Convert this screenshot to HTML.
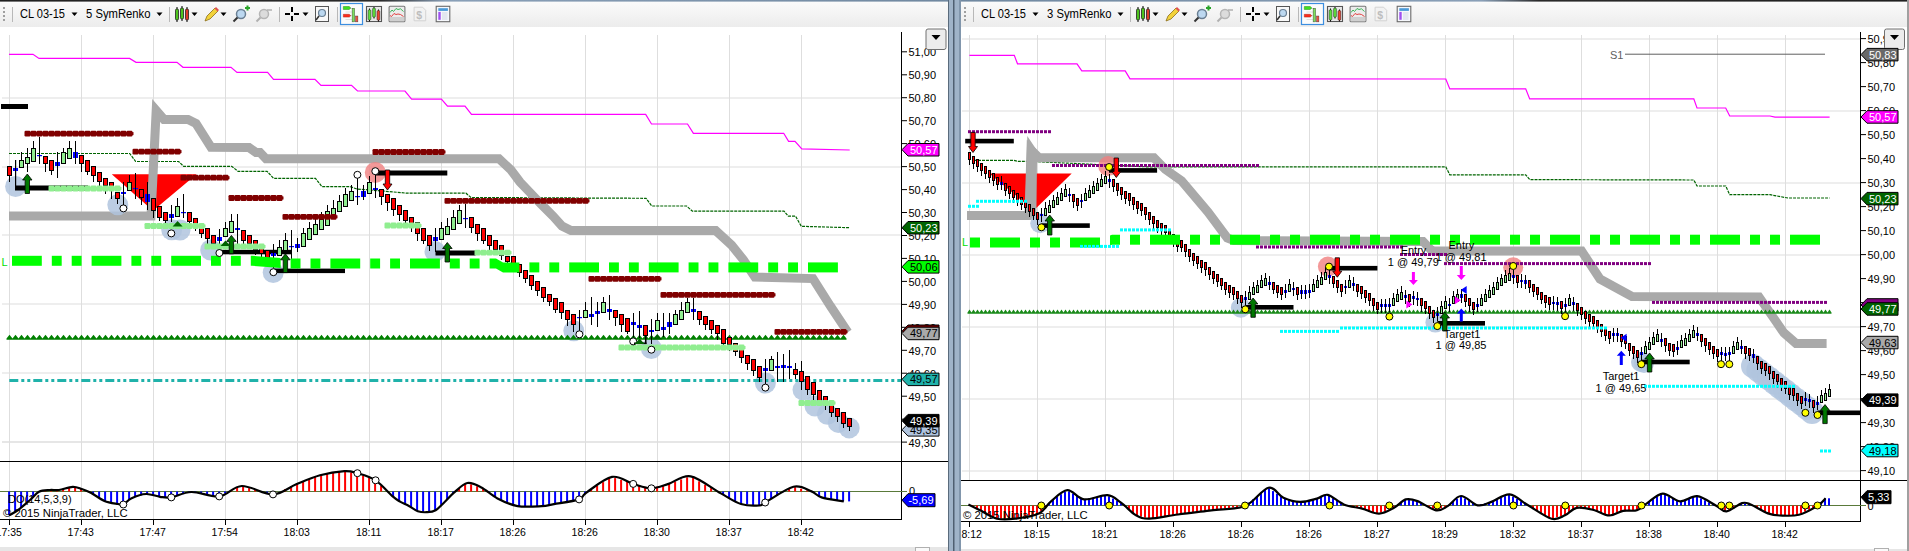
<!DOCTYPE html><html><head><meta charset="utf-8"><style>html,body{margin:0;padding:0;width:1909px;height:551px;overflow:hidden;background:#fff}</style></head><body><svg width="1909" height="551" viewBox="0 0 1909 551" style="display:block;position:absolute;left:0;top:0">
<defs><linearGradient id="tbg" x1="0" y1="0" x2="0" y2="1"><stop offset="0" stop-color="#fbfbfb"/><stop offset="1" stop-color="#ececec"/></linearGradient><linearGradient id="tborL" gradientUnits="userSpaceOnUse" x1="0" y1="0" x2="949" y2="0"><stop offset="0" stop-color="#202020"/><stop offset="0.4" stop-color="#2a2a2a"/><stop offset="0.47" stop-color="#8aa0b8"/><stop offset="1" stop-color="#7088a0"/></linearGradient><linearGradient id="tborR" gradientUnits="userSpaceOnUse" x1="960" y1="0" x2="1909" y2="0"><stop offset="0" stop-color="#7088a0"/><stop offset="0.55" stop-color="#8aa0b8"/><stop offset="0.61" stop-color="#2a2a2a"/><stop offset="1" stop-color="#202020"/></linearGradient></defs>
<rect width="1909" height="551" fill="#fff"/>
<rect x="0" y="0" width="949" height="551" fill="#ffffff"/>
<rect x="0" y="1" width="949" height="26" fill="url(#tbg)" rx="0"/>
<rect x="0" y="0" width="949" height="1.6" fill="url(#tborL)"/>
<rect x="0" y="547" width="949" height="4" fill="#e6e6e6"/>
<g transform="translate(0,0)">
<rect x="3" y="7" width="2" height="2" fill="#a0a0a0"/>
<rect x="3" y="11" width="2" height="2" fill="#a0a0a0"/>
<rect x="3" y="15" width="2" height="2" fill="#a0a0a0"/>
<rect x="3" y="19" width="2" height="2" fill="#a0a0a0"/>
<rect x="12" y="7" width="1" height="15" fill="#b8b8b8"/>
<text x="20" y="18" textLength="45" lengthAdjust="spacingAndGlyphs" style="font-family:'Liberation Sans',sans-serif;font-size:12px" fill="#000">CL 03-15</text>
<path d="M71.5 12.5h6l-3 3.5z" fill="#000"/>
<text x="86" y="18" textLength="64.5" lengthAdjust="spacingAndGlyphs" style="font-family:'Liberation Sans',sans-serif;font-size:12px" fill="#000">5 SymRenko</text>
<path d="M156.5 12.5h6l-3 3.5z" fill="#000"/>
<rect x="169" y="7" width="1" height="15" fill="#b8b8b8"/>
<rect x="176.5" y="7" width="1" height="15" fill="#000"/>
<rect x="175.5" y="9" width="3" height="11" rx="1.2" fill="#4ec41e" stroke="#222" stroke-width="0.8"/>
<rect x="181.5" y="6" width="1" height="15" fill="#000"/>
<rect x="180.5" y="8" width="3" height="11" rx="1.2" fill="#4ec41e" stroke="#222" stroke-width="0.8"/>
<rect x="186.5" y="7" width="1" height="15" fill="#000"/>
<rect x="185.5" y="9" width="3" height="11" rx="1.2" fill="#e03a2a" stroke="#222" stroke-width="0.8"/>
<path d="M191.5 12.5h6l-3 3.5z" fill="#000"/>
<path d="M205 21 L207 16 L215 8 L218 11 L210 19 Z" fill="#f2d23a" stroke="#8a6d1a" stroke-width="0.8"/>
<path d="M214.5 8.5 L216 7 L219 10 L217.5 11.5Z" fill="#e05050"/>
<path d="M220.5 12.5h6l-3 3.5z" fill="#000"/>
<circle cx="241" cy="14" r="4.5" fill="#bcd8f0" stroke="#6a7f93" stroke-width="1.5"/>
<path d="M237.5 17.5 L233.5 21.5" stroke="#333" stroke-width="2"/>
<path d="M245 8h5M247.5 5.5v5" stroke="#2aa42a" stroke-width="2"/>
<circle cx="264" cy="14" r="4.5" fill="#dcdcdc" stroke="#b5b5b5" stroke-width="1.5"/>
<path d="M260.5 17.5 L256.5 21.5" stroke="#b0b0b0" stroke-width="2"/>
<path d="M267 10h5" stroke="#b0b0b0" stroke-width="1.5"/>
<rect x="279" y="7" width="1" height="15" fill="#b8b8b8"/>
<path d="M292 7v5M292 16v5M285 14h5M294 14h5" stroke="#000" stroke-width="2"/>
<path d="M302.5 12.5h6l-3 3.5z" fill="#000"/>
<rect x="315.5" y="6.5" width="13" height="15" fill="#f8f8f8" stroke="#555"/>
<circle cx="322" cy="13" r="3.5" fill="#bcd8f0" stroke="#6a7f93" stroke-width="1.2"/>
<path d="M319 16 L316 20" stroke="#333" stroke-width="1.5"/>
<rect x="337" y="7" width="1" height="15" fill="#b8b8b8"/>
<rect x="340.5" y="3.5" width="22" height="21" fill="#fbfbfb" stroke="#3c8ee0" stroke-width="1.2"/>
<path d="M345.5 8.5h7M345.5 12h7M345.5 15.5h7M345.5 19.5h7" stroke="#d8d8d8" stroke-width="0.8"/>
<path d="M343.3 6.5h6l1.5 1.5l-1.5 1.5h-6z" fill="#3ee01e" stroke="#2a8a1a" stroke-width="0.5"/>
<path d="M343.3 14.3h6l1.5 1.4l-1.5 1.4h-6z" fill="#ff2a1a" stroke="#a02a1a" stroke-width="0.5"/>
<rect x="352.1" y="8.2" width="2.6" height="13.7" fill="#7ee05e" stroke="#333" stroke-width="0.4"/>
<rect x="355.5" y="16" width="2.4" height="5.9" fill="#f05040" stroke="#333" stroke-width="0.4"/>
<rect x="366.5" y="6.5" width="15" height="15" fill="#f0f0f0" stroke="#555" stroke-width="1.1"/>
<path d="M367 9h14M367 11h14M367 13h14M367 15h14M367 17h14M367 19h14" stroke="#c8c8c8" stroke-width="0.5"/>
<rect x="369" y="8.5" width="1" height="13" fill="#111"/><rect x="373.5" y="7" width="1" height="11.5" fill="#111"/><rect x="378" y="9.5" width="1" height="12" fill="#111"/>
<rect x="368.1" y="9.8" width="2.8" height="10.2" rx="1" fill="#5ee03a" stroke="#222" stroke-width="0.5"/>
<rect x="372.6" y="8" width="2.8" height="9.2" rx="1" fill="#5ee03a" stroke="#222" stroke-width="0.5"/>
<rect x="377" y="10.6" width="2.8" height="9.6" rx="1" fill="#f04030" stroke="#222" stroke-width="0.5"/>
<rect x="389.1" y="6.3" width="15.8" height="15.4" rx="1" fill="#ececec" stroke="#777" stroke-width="1.1"/>
<rect x="389.6" y="17" width="14.8" height="4.2" fill="#d0d0d0"/>
<path d="M390 12.5 L392 10 L393.5 11.5 L396 8.5 L398 9.5 L400.5 8.8 L403.5 11.5" stroke="#2ab04a" fill="none" stroke-width="0.9"/>
<path d="M390 15.5 L391.5 16.5 L394 13.5 L396 14.5 L398 14 L400.5 14.5 L403.5 16.5" stroke="#e03030" fill="none" stroke-width="0.9"/>
<path d="M414.1 7.2h8.5l3.1 3.1v10.5h-11.6z" fill="#f2f2f2" stroke="#cfcfcf" stroke-width="0.9"/>
<text x="416.3" y="18.5" style="font-family:'Liberation Sans',sans-serif;font-size:10.5px;font-weight:bold" fill="#bdbdbd">$</text>
<rect x="436.2" y="6.3" width="13.6" height="15.4" fill="#f6f8fc" stroke="#6a6a6a" stroke-width="1.1"/>
<rect x="438.3" y="8.2" width="9.6" height="2.7" fill="#4a9ad8"/>
<rect x="438.3" y="11.9" width="2.4" height="7.9" fill="#a050f0"/>
<path d="M442 13h5.5M442 15h5.5M442 17h5.5M442 19h5.5" stroke="#c0c8d8" stroke-width="0.7"/>
</g>
<rect x="960" y="0" width="948" height="551" fill="#ffffff"/>
<rect x="960" y="1" width="948" height="26" fill="url(#tbg)" rx="0"/>
<rect x="960" y="0" width="948" height="1.6" fill="url(#tborR)"/>
<rect x="960" y="549" width="948" height="2" fill="#e6e6e6"/>
<g transform="translate(961,0)">
<rect x="3" y="7" width="2" height="2" fill="#a0a0a0"/>
<rect x="3" y="11" width="2" height="2" fill="#a0a0a0"/>
<rect x="3" y="15" width="2" height="2" fill="#a0a0a0"/>
<rect x="3" y="19" width="2" height="2" fill="#a0a0a0"/>
<rect x="12" y="7" width="1" height="15" fill="#b8b8b8"/>
<text x="20" y="18" textLength="45" lengthAdjust="spacingAndGlyphs" style="font-family:'Liberation Sans',sans-serif;font-size:12px" fill="#000">CL 03-15</text>
<path d="M71.5 12.5h6l-3 3.5z" fill="#000"/>
<text x="86" y="18" textLength="64.5" lengthAdjust="spacingAndGlyphs" style="font-family:'Liberation Sans',sans-serif;font-size:12px" fill="#000">3 SymRenko</text>
<path d="M156.5 12.5h6l-3 3.5z" fill="#000"/>
<rect x="169" y="7" width="1" height="15" fill="#b8b8b8"/>
<rect x="176.5" y="7" width="1" height="15" fill="#000"/>
<rect x="175.5" y="9" width="3" height="11" rx="1.2" fill="#4ec41e" stroke="#222" stroke-width="0.8"/>
<rect x="181.5" y="6" width="1" height="15" fill="#000"/>
<rect x="180.5" y="8" width="3" height="11" rx="1.2" fill="#4ec41e" stroke="#222" stroke-width="0.8"/>
<rect x="186.5" y="7" width="1" height="15" fill="#000"/>
<rect x="185.5" y="9" width="3" height="11" rx="1.2" fill="#e03a2a" stroke="#222" stroke-width="0.8"/>
<path d="M191.5 12.5h6l-3 3.5z" fill="#000"/>
<path d="M205 21 L207 16 L215 8 L218 11 L210 19 Z" fill="#f2d23a" stroke="#8a6d1a" stroke-width="0.8"/>
<path d="M214.5 8.5 L216 7 L219 10 L217.5 11.5Z" fill="#e05050"/>
<path d="M220.5 12.5h6l-3 3.5z" fill="#000"/>
<circle cx="241" cy="14" r="4.5" fill="#bcd8f0" stroke="#6a7f93" stroke-width="1.5"/>
<path d="M237.5 17.5 L233.5 21.5" stroke="#333" stroke-width="2"/>
<path d="M245 8h5M247.5 5.5v5" stroke="#2aa42a" stroke-width="2"/>
<circle cx="264" cy="14" r="4.5" fill="#dcdcdc" stroke="#b5b5b5" stroke-width="1.5"/>
<path d="M260.5 17.5 L256.5 21.5" stroke="#b0b0b0" stroke-width="2"/>
<path d="M267 10h5" stroke="#b0b0b0" stroke-width="1.5"/>
<rect x="279" y="7" width="1" height="15" fill="#b8b8b8"/>
<path d="M292 7v5M292 16v5M285 14h5M294 14h5" stroke="#000" stroke-width="2"/>
<path d="M302.5 12.5h6l-3 3.5z" fill="#000"/>
<rect x="315.5" y="6.5" width="13" height="15" fill="#f8f8f8" stroke="#555"/>
<circle cx="322" cy="13" r="3.5" fill="#bcd8f0" stroke="#6a7f93" stroke-width="1.2"/>
<path d="M319 16 L316 20" stroke="#333" stroke-width="1.5"/>
<rect x="337" y="7" width="1" height="15" fill="#b8b8b8"/>
<rect x="340.5" y="3.5" width="22" height="21" fill="#fbfbfb" stroke="#3c8ee0" stroke-width="1.2"/>
<path d="M345.5 8.5h7M345.5 12h7M345.5 15.5h7M345.5 19.5h7" stroke="#d8d8d8" stroke-width="0.8"/>
<path d="M343.3 6.5h6l1.5 1.5l-1.5 1.5h-6z" fill="#3ee01e" stroke="#2a8a1a" stroke-width="0.5"/>
<path d="M343.3 14.3h6l1.5 1.4l-1.5 1.4h-6z" fill="#ff2a1a" stroke="#a02a1a" stroke-width="0.5"/>
<rect x="352.1" y="8.2" width="2.6" height="13.7" fill="#7ee05e" stroke="#333" stroke-width="0.4"/>
<rect x="355.5" y="16" width="2.4" height="5.9" fill="#f05040" stroke="#333" stroke-width="0.4"/>
<rect x="366.5" y="6.5" width="15" height="15" fill="#f0f0f0" stroke="#555" stroke-width="1.1"/>
<path d="M367 9h14M367 11h14M367 13h14M367 15h14M367 17h14M367 19h14" stroke="#c8c8c8" stroke-width="0.5"/>
<rect x="369" y="8.5" width="1" height="13" fill="#111"/><rect x="373.5" y="7" width="1" height="11.5" fill="#111"/><rect x="378" y="9.5" width="1" height="12" fill="#111"/>
<rect x="368.1" y="9.8" width="2.8" height="10.2" rx="1" fill="#5ee03a" stroke="#222" stroke-width="0.5"/>
<rect x="372.6" y="8" width="2.8" height="9.2" rx="1" fill="#5ee03a" stroke="#222" stroke-width="0.5"/>
<rect x="377" y="10.6" width="2.8" height="9.6" rx="1" fill="#f04030" stroke="#222" stroke-width="0.5"/>
<rect x="389.1" y="6.3" width="15.8" height="15.4" rx="1" fill="#ececec" stroke="#777" stroke-width="1.1"/>
<rect x="389.6" y="17" width="14.8" height="4.2" fill="#d0d0d0"/>
<path d="M390 12.5 L392 10 L393.5 11.5 L396 8.5 L398 9.5 L400.5 8.8 L403.5 11.5" stroke="#2ab04a" fill="none" stroke-width="0.9"/>
<path d="M390 15.5 L391.5 16.5 L394 13.5 L396 14.5 L398 14 L400.5 14.5 L403.5 16.5" stroke="#e03030" fill="none" stroke-width="0.9"/>
<path d="M414.1 7.2h8.5l3.1 3.1v10.5h-11.6z" fill="#f2f2f2" stroke="#cfcfcf" stroke-width="0.9"/>
<text x="416.3" y="18.5" style="font-family:'Liberation Sans',sans-serif;font-size:10.5px;font-weight:bold" fill="#bdbdbd">$</text>
<rect x="436.2" y="6.3" width="13.6" height="15.4" fill="#f6f8fc" stroke="#6a6a6a" stroke-width="1.1"/>
<rect x="438.3" y="8.2" width="9.6" height="2.7" fill="#4a9ad8"/>
<rect x="438.3" y="11.9" width="2.4" height="7.9" fill="#a050f0"/>
<path d="M442 13h5.5M442 15h5.5M442 17h5.5M442 19h5.5" stroke="#c0c8d8" stroke-width="0.7"/>
</g>
<rect x="9.0" y="35" width="1" height="484" fill="#dedede"/>
<rect x="81.0" y="35" width="1" height="484" fill="#dedede"/>
<rect x="153.0" y="35" width="1" height="484" fill="#dedede"/>
<rect x="225.0" y="35" width="1" height="484" fill="#dedede"/>
<rect x="297.0" y="35" width="1" height="484" fill="#dedede"/>
<rect x="369.0" y="35" width="1" height="484" fill="#dedede"/>
<rect x="441.0" y="35" width="1" height="484" fill="#dedede"/>
<rect x="513.0" y="35" width="1" height="484" fill="#dedede"/>
<rect x="585.0" y="35" width="1" height="484" fill="#dedede"/>
<rect x="657.0" y="35" width="1" height="484" fill="#dedede"/>
<rect x="729.0" y="35" width="1" height="484" fill="#dedede"/>
<rect x="801.0" y="35" width="1" height="484" fill="#dedede"/>
<rect x="2" y="97.5" width="899.5" height="1" fill="#dedede"/>
<rect x="2" y="166.5" width="899.5" height="1" fill="#dedede"/>
<rect x="2" y="234.5" width="899.5" height="1" fill="#dedede"/>
<rect x="2" y="303.5" width="899.5" height="1" fill="#dedede"/>
<rect x="2" y="372.5" width="899.5" height="1" fill="#dedede"/>
<rect x="2" y="441.5" width="899.5" height="1" fill="#dedede"/>
<rect x="2" y="441.5" width="900" height="1" fill="#dedede"/>
<rect x="901" y="32" width="1" height="488" fill="#000"/>
<rect x="901" y="51.3" width="6" height="1" fill="#000"/>
<text x="908.5" y="56.4" style="font-family:'Liberation Sans',sans-serif;font-size:11px" fill="#000">51,00</text>
<rect x="901" y="74.3" width="6" height="1" fill="#000"/>
<text x="908.5" y="79.4" style="font-family:'Liberation Sans',sans-serif;font-size:11px" fill="#000">50,90</text>
<rect x="901" y="97.2" width="6" height="1" fill="#000"/>
<text x="908.5" y="102.3" style="font-family:'Liberation Sans',sans-serif;font-size:11px" fill="#000">50,80</text>
<rect x="901" y="120.2" width="6" height="1" fill="#000"/>
<text x="908.5" y="125.3" style="font-family:'Liberation Sans',sans-serif;font-size:11px" fill="#000">50,70</text>
<rect x="901" y="143.1" width="6" height="1" fill="#000"/>
<text x="908.5" y="148.2" style="font-family:'Liberation Sans',sans-serif;font-size:11px" fill="#000">50,60</text>
<rect x="901" y="166.1" width="6" height="1" fill="#000"/>
<text x="908.5" y="171.2" style="font-family:'Liberation Sans',sans-serif;font-size:11px" fill="#000">50,50</text>
<rect x="901" y="189.1" width="6" height="1" fill="#000"/>
<text x="908.5" y="194.2" style="font-family:'Liberation Sans',sans-serif;font-size:11px" fill="#000">50,40</text>
<rect x="901" y="212.0" width="6" height="1" fill="#000"/>
<text x="908.5" y="217.1" style="font-family:'Liberation Sans',sans-serif;font-size:11px" fill="#000">50,30</text>
<rect x="901" y="235.0" width="6" height="1" fill="#000"/>
<text x="908.5" y="240.1" style="font-family:'Liberation Sans',sans-serif;font-size:11px" fill="#000">50,20</text>
<rect x="901" y="257.9" width="6" height="1" fill="#000"/>
<text x="908.5" y="263.0" style="font-family:'Liberation Sans',sans-serif;font-size:11px" fill="#000">50,10</text>
<rect x="901" y="280.9" width="6" height="1" fill="#000"/>
<text x="908.5" y="286.0" style="font-family:'Liberation Sans',sans-serif;font-size:11px" fill="#000">50,00</text>
<rect x="901" y="303.9" width="6" height="1" fill="#000"/>
<text x="908.5" y="309.0" style="font-family:'Liberation Sans',sans-serif;font-size:11px" fill="#000">49,90</text>
<rect x="901" y="326.8" width="6" height="1" fill="#000"/>
<text x="908.5" y="331.9" style="font-family:'Liberation Sans',sans-serif;font-size:11px" fill="#000">49,80</text>
<rect x="901" y="349.8" width="6" height="1" fill="#000"/>
<text x="908.5" y="354.9" style="font-family:'Liberation Sans',sans-serif;font-size:11px" fill="#000">49,70</text>
<rect x="901" y="372.7" width="6" height="1" fill="#000"/>
<text x="908.5" y="377.8" style="font-family:'Liberation Sans',sans-serif;font-size:11px" fill="#000">49,60</text>
<rect x="901" y="395.7" width="6" height="1" fill="#000"/>
<text x="908.5" y="400.8" style="font-family:'Liberation Sans',sans-serif;font-size:11px" fill="#000">49,50</text>
<rect x="901" y="418.7" width="6" height="1" fill="#000"/>
<text x="908.5" y="423.8" style="font-family:'Liberation Sans',sans-serif;font-size:11px" fill="#000">49,40</text>
<rect x="901" y="441.6" width="6" height="1" fill="#000"/>
<text x="908.5" y="446.7" style="font-family:'Liberation Sans',sans-serif;font-size:11px" fill="#000">49,30</text>
<rect x="926" y="29" width="20" height="20.5" rx="2" fill="#ececec" stroke="#707070"/>
<path d="M931.5 35h9l-4.5 5z" fill="#000"/>
<rect x="0" y="461" width="948" height="1" fill="#000"/>
<rect x="0" y="519" width="902" height="1" fill="#000"/>
<rect x="0" y="491" width="907" height="1" fill="#5a7a3a"/>
<text x="909" y="495" style="font-family:'Liberation Sans',sans-serif;font-size:11px" fill="#000">0</text>
<rect x="9.0" y="519" width="1" height="6" fill="#000"/>
<text x="8.7" y="536" text-anchor="middle" style="font-family:'Liberation Sans',sans-serif;font-size:10.5px" fill="#000">17:35</text>
<rect x="81.0" y="519" width="1" height="6" fill="#000"/>
<text x="80.7" y="536" text-anchor="middle" style="font-family:'Liberation Sans',sans-serif;font-size:10.5px" fill="#000">17:43</text>
<rect x="153.0" y="519" width="1" height="6" fill="#000"/>
<text x="152.7" y="536" text-anchor="middle" style="font-family:'Liberation Sans',sans-serif;font-size:10.5px" fill="#000">17:47</text>
<rect x="225.0" y="519" width="1" height="6" fill="#000"/>
<text x="224.7" y="536" text-anchor="middle" style="font-family:'Liberation Sans',sans-serif;font-size:10.5px" fill="#000">17:54</text>
<rect x="297.0" y="519" width="1" height="6" fill="#000"/>
<text x="296.7" y="536" text-anchor="middle" style="font-family:'Liberation Sans',sans-serif;font-size:10.5px" fill="#000">18:03</text>
<rect x="369.0" y="519" width="1" height="6" fill="#000"/>
<text x="368.7" y="536" text-anchor="middle" style="font-family:'Liberation Sans',sans-serif;font-size:10.5px" fill="#000">18:11</text>
<rect x="441.0" y="519" width="1" height="6" fill="#000"/>
<text x="440.7" y="536" text-anchor="middle" style="font-family:'Liberation Sans',sans-serif;font-size:10.5px" fill="#000">18:17</text>
<rect x="513.0" y="519" width="1" height="6" fill="#000"/>
<text x="512.7" y="536" text-anchor="middle" style="font-family:'Liberation Sans',sans-serif;font-size:10.5px" fill="#000">18:26</text>
<rect x="585.0" y="519" width="1" height="6" fill="#000"/>
<text x="584.7" y="536" text-anchor="middle" style="font-family:'Liberation Sans',sans-serif;font-size:10.5px" fill="#000">18:26</text>
<rect x="657.0" y="519" width="1" height="6" fill="#000"/>
<text x="656.7" y="536" text-anchor="middle" style="font-family:'Liberation Sans',sans-serif;font-size:10.5px" fill="#000">18:30</text>
<rect x="729.0" y="519" width="1" height="6" fill="#000"/>
<text x="728.7" y="536" text-anchor="middle" style="font-family:'Liberation Sans',sans-serif;font-size:10.5px" fill="#000">18:37</text>
<rect x="801.0" y="519" width="1" height="6" fill="#000"/>
<text x="800.7" y="536" text-anchor="middle" style="font-family:'Liberation Sans',sans-serif;font-size:10.5px" fill="#000">18:42</text>
<polyline points="9.0,54.3 33.0,54.3 39.0,58.4 129.6,58.4 136.0,62.3 177.0,62.3 183.0,67.3 231.0,67.3 237.0,72.4 267.6,72.4 273.5,79.3 315.0,79.3 321.0,85.4 351.5,85.4 357.5,91.0 405.0,91.0 411.6,99.1 441.4,99.1 447.5,106.2 465.0,106.2 471.5,114.4 645.7,114.4 651.5,124.0 687.5,124.0 693.4,133.3 783.7,133.3 788.6,141.3 795.0,141.3 801.8,148.9 849.7,150.0" fill="none" stroke="#ff00ff" stroke-width="1.2" />
<polyline points="9.0,153.5 129.7,153.5 135.7,161.5 178.6,161.5 183.6,166.3 231.7,166.3 238.0,171.3 267.0,171.3 273.6,178.4 315.5,178.4 321.9,186.6 350.0,186.6 357.0,189.0 386.0,191.3 407.0,193.2 466.0,193.2 471.0,197.5 646.0,198.3 651.8,206.0 686.6,206.0 692.4,211.2 784.0,211.2 788.3,216.1 795.5,216.1 801.3,226.3 849.2,227.7" fill="none" stroke="#006400" stroke-width="1.2" stroke-dasharray="3 1"/>
<path d="M111.8,174.3 L196.6,174.3 L153,210.8Z" fill="#ff0000"/>
<polyline points="9.0,216.0 151.0,216.0 156.2,110.5 164.0,119.5 188.0,119.5 196.0,123.5 211.0,147.2 249.0,147.5 256.0,152.5 260.0,152.5 266.0,158.8 499.0,158.8 511.0,170.0 520.0,182.0 530.0,192.5 541.0,204.0 553.0,216.0 562.0,226.0 571.0,230.6 715.7,230.6 731.6,245.2 743.3,259.7 754.9,277.1 813.0,278.6 830.4,306.1 847.8,332.3" fill="none" stroke="#a9a9a9" stroke-width="9" stroke-linejoin="miter" stroke-miterlimit="10"/>
<circle cx="15.6" cy="186.5" r="10.5" fill="#b0c4de" fill-opacity="0.85"/>
<circle cx="117.8" cy="204.8" r="10.5" fill="#b0c4de" fill-opacity="0.85"/>
<circle cx="171.7" cy="229.8" r="10.5" fill="#b0c4de" fill-opacity="0.85"/>
<circle cx="180" cy="230" r="10.5" fill="#b0c4de" fill-opacity="0.85"/>
<circle cx="210.7" cy="250" r="10.5" fill="#b0c4de" fill-opacity="0.85"/>
<circle cx="273.2" cy="272.6" r="10.5" fill="#b0c4de" fill-opacity="0.85"/>
<circle cx="435" cy="251.4" r="10.5" fill="#b0c4de" fill-opacity="0.85"/>
<circle cx="573.8" cy="330.8" r="10.5" fill="#b0c4de" fill-opacity="0.85"/>
<circle cx="651.4" cy="348.5" r="10.5" fill="#b0c4de" fill-opacity="0.85"/>
<circle cx="765.4" cy="383" r="10.5" fill="#b0c4de" fill-opacity="0.85"/>
<circle cx="803" cy="389.8" r="10.5" fill="#b0c4de" fill-opacity="0.85"/>
<circle cx="815" cy="406" r="10.5" fill="#b0c4de" fill-opacity="0.85"/>
<circle cx="827.4" cy="414.3" r="10.5" fill="#b0c4de" fill-opacity="0.85"/>
<circle cx="838.3" cy="422.4" r="10.5" fill="#b0c4de" fill-opacity="0.85"/>
<circle cx="849.2" cy="427.9" r="10.5" fill="#b0c4de" fill-opacity="0.85"/>
<circle cx="375.3" cy="172.4" r="10.5" fill="#f08080" fill-opacity="0.8"/>
<path d="M6.5,338.5 L9.5,334.7 L12.5,338.5 L15.5,334.7 L18.5,338.5 L21.5,334.7 L24.5,338.5 L27.5,334.7 L30.5,338.5 L33.5,334.7 L36.5,338.5 L39.5,334.7 L42.5,338.5 L45.5,334.7 L48.5,338.5 L51.5,334.7 L54.5,338.5 L57.5,334.7 L60.5,338.5 L63.5,334.7 L66.5,338.5 L69.5,334.7 L72.5,338.5 L75.5,334.7 L78.5,338.5 L81.5,334.7 L84.5,338.5 L87.5,334.7 L90.5,338.5 L93.5,334.7 L96.5,338.5 L99.5,334.7 L102.5,338.5 L105.5,334.7 L108.5,338.5 L111.5,334.7 L114.5,338.5 L117.5,334.7 L120.5,338.5 L123.5,334.7 L126.5,338.5 L129.5,334.7 L132.5,338.5 L135.5,334.7 L138.5,338.5 L141.5,334.7 L144.5,338.5 L147.5,334.7 L150.5,338.5 L153.5,334.7 L156.5,338.5 L159.5,334.7 L162.5,338.5 L165.5,334.7 L168.5,338.5 L171.5,334.7 L174.5,338.5 L177.5,334.7 L180.5,338.5 L183.5,334.7 L186.5,338.5 L189.5,334.7 L192.5,338.5 L195.5,334.7 L198.5,338.5 L201.5,334.7 L204.5,338.5 L207.5,334.7 L210.5,338.5 L213.5,334.7 L216.5,338.5 L219.5,334.7 L222.5,338.5 L225.5,334.7 L228.5,338.5 L231.5,334.7 L234.5,338.5 L237.5,334.7 L240.5,338.5 L243.5,334.7 L246.5,338.5 L249.5,334.7 L252.5,338.5 L255.5,334.7 L258.5,338.5 L261.5,334.7 L264.5,338.5 L267.5,334.7 L270.5,338.5 L273.5,334.7 L276.5,338.5 L279.5,334.7 L282.5,338.5 L285.5,334.7 L288.5,338.5 L291.5,334.7 L294.5,338.5 L297.5,334.7 L300.5,338.5 L303.5,334.7 L306.5,338.5 L309.5,334.7 L312.5,338.5 L315.5,334.7 L318.5,338.5 L321.5,334.7 L324.5,338.5 L327.5,334.7 L330.5,338.5 L333.5,334.7 L336.5,338.5 L339.5,334.7 L342.5,338.5 L345.5,334.7 L348.5,338.5 L351.5,334.7 L354.5,338.5 L357.5,334.7 L360.5,338.5 L363.5,334.7 L366.5,338.5 L369.5,334.7 L372.5,338.5 L375.5,334.7 L378.5,338.5 L381.5,334.7 L384.5,338.5 L387.5,334.7 L390.5,338.5 L393.5,334.7 L396.5,338.5 L399.5,334.7 L402.5,338.5 L405.5,334.7 L408.5,338.5 L411.5,334.7 L414.5,338.5 L417.5,334.7 L420.5,338.5 L423.5,334.7 L426.5,338.5 L429.5,334.7 L432.5,338.5 L435.5,334.7 L438.5,338.5 L441.5,334.7 L444.5,338.5 L447.5,334.7 L450.5,338.5 L453.5,334.7 L456.5,338.5 L459.5,334.7 L462.5,338.5 L465.5,334.7 L468.5,338.5 L471.5,334.7 L474.5,338.5 L477.5,334.7 L480.5,338.5 L483.5,334.7 L486.5,338.5 L489.5,334.7 L492.5,338.5 L495.5,334.7 L498.5,338.5 L501.5,334.7 L504.5,338.5 L507.5,334.7 L510.5,338.5 L513.5,334.7 L516.5,338.5 L519.5,334.7 L522.5,338.5 L525.5,334.7 L528.5,338.5 L531.5,334.7 L534.5,338.5 L537.5,334.7 L540.5,338.5 L543.5,334.7 L546.5,338.5 L549.5,334.7 L552.5,338.5 L555.5,334.7 L558.5,338.5 L561.5,334.7 L564.5,338.5 L567.5,334.7 L570.5,338.5 L573.5,334.7 L576.5,338.5 L579.5,334.7 L582.5,338.5 L585.5,334.7 L588.5,338.5 L591.5,334.7 L594.5,338.5 L597.5,334.7 L600.5,338.5 L603.5,334.7 L606.5,338.5 L609.5,334.7 L612.5,338.5 L615.5,334.7 L618.5,338.5 L621.5,334.7 L624.5,338.5 L627.5,334.7 L630.5,338.5 L633.5,334.7 L636.5,338.5 L639.5,334.7 L642.5,338.5 L645.5,334.7 L648.5,338.5 L651.5,334.7 L654.5,338.5 L657.5,334.7 L660.5,338.5 L663.5,334.7 L666.5,338.5 L669.5,334.7 L672.5,338.5 L675.5,334.7 L678.5,338.5 L681.5,334.7 L684.5,338.5 L687.5,334.7 L690.5,338.5 L693.5,334.7 L696.5,338.5 L699.5,334.7 L702.5,338.5 L705.5,334.7 L708.5,338.5 L711.5,334.7 L714.5,338.5 L717.5,334.7 L720.5,338.5 L723.5,334.7 L726.5,338.5 L729.5,334.7 L732.5,338.5 L735.5,334.7 L738.5,338.5 L741.5,334.7 L744.5,338.5 L747.5,334.7 L750.5,338.5 L753.5,334.7 L756.5,338.5 L759.5,334.7 L762.5,338.5 L765.5,334.7 L768.5,338.5 L771.5,334.7 L774.5,338.5 L777.5,334.7 L780.5,338.5 L783.5,334.7 L786.5,338.5 L789.5,334.7 L792.5,338.5 L795.5,334.7 L798.5,338.5 L801.5,334.7 L804.5,338.5 L807.5,334.7 L810.5,338.5 L813.5,334.7 L816.5,338.5 L819.5,334.7 L822.5,338.5 L825.5,334.7 L828.5,338.5 L831.5,334.7 L834.5,338.5 L837.5,334.7 L840.5,338.5 L843.5,334.7 L846.5,338.5 L846.5,339.7 L6.5,339.7 Z" fill="#008000"/>
<path d="M9.3 380.5H901" stroke="#20b2aa" stroke-width="3" stroke-dasharray="9 3 3 3 3 3"/>
<rect x="1" y="104.0" width="27.0" height="5" fill="#000"/>
<rect x="15" y="185.5" width="73.0" height="5" fill="#000"/>
<rect x="219.4" y="249.8" width="71.6" height="4.5" fill="#000"/>
<rect x="273.4" y="268.6" width="71.6" height="4.5" fill="#000"/>
<rect x="375.3" y="170.5" width="72.0" height="5" fill="#000"/>
<rect x="435.5" y="250.5" width="40.1" height="5" fill="#000"/>
<rect x="15" y="160" width="1.2" height="28" fill="#000"/>
<rect x="9.0" y="166.0" width="1" height="16.0" fill="#000"/><rect x="7.5" y="166.5" width="4" height="9.0" fill="#ff0000" stroke="#000" stroke-width="1"/>
<rect x="13.0" y="168.0" width="5" height="3.0" fill="#0000ff"/><rect x="15.0" y="160.0" width="1" height="29.0" fill="#000"/>
<rect x="21.0" y="152.0" width="1" height="16.0" fill="#000"/><rect x="19.5" y="160.5" width="4" height="7.0" fill="#90ee90" stroke="#000" stroke-width="1"/>
<rect x="27.0" y="148.0" width="1" height="24.0" fill="#000"/><rect x="25.5" y="157.5" width="4" height="6.0" fill="#90ee90" stroke="#000" stroke-width="1"/>
<rect x="33.0" y="141.0" width="1" height="21.0" fill="#000"/><rect x="31.5" y="148.5" width="4" height="13.0" fill="#90ee90" stroke="#000" stroke-width="1"/>
<rect x="37.0" y="155.0" width="5" height="1.2" fill="#0000ff"/><rect x="39.0" y="137.0" width="1" height="27.0" fill="#000"/>
<rect x="45.0" y="156.0" width="1" height="16.0" fill="#000"/><rect x="43.5" y="156.5" width="4" height="7.0" fill="#ff0000" stroke="#000" stroke-width="1"/>
<rect x="51.0" y="160.0" width="1" height="15.0" fill="#000"/><rect x="49.5" y="160.5" width="4" height="10.0" fill="#ff0000" stroke="#000" stroke-width="1"/>
<rect x="55.0" y="162.0" width="5" height="4.0" fill="#0000ff"/><rect x="57.0" y="152.0" width="1" height="26.0" fill="#000"/>
<rect x="63.0" y="148.0" width="1" height="16.0" fill="#000"/><rect x="61.5" y="152.5" width="4" height="11.0" fill="#90ee90" stroke="#000" stroke-width="1"/>
<rect x="69.0" y="141.0" width="1" height="18.0" fill="#000"/><rect x="67.5" y="148.5" width="4" height="10.0" fill="#90ee90" stroke="#000" stroke-width="1"/>
<rect x="73.0" y="152.0" width="5" height="6.0" fill="#0000ff"/><rect x="75.0" y="141.0" width="1" height="23.0" fill="#000"/>
<rect x="81.0" y="155.0" width="1" height="17.0" fill="#000"/><rect x="79.5" y="155.5" width="4" height="8.0" fill="#ff0000" stroke="#000" stroke-width="1"/>
<rect x="87.0" y="160.0" width="1" height="15.0" fill="#000"/><rect x="85.5" y="160.5" width="4" height="11.0" fill="#ff0000" stroke="#000" stroke-width="1"/>
<rect x="93.0" y="166.0" width="1" height="16.0" fill="#000"/><rect x="91.5" y="166.5" width="4" height="9.0" fill="#ff0000" stroke="#000" stroke-width="1"/>
<rect x="99.0" y="172.0" width="1" height="14.0" fill="#000"/><rect x="97.5" y="172.5" width="4" height="9.0" fill="#ff0000" stroke="#000" stroke-width="1"/>
<rect x="105.0" y="178.0" width="1" height="16.0" fill="#000"/><rect x="103.5" y="178.5" width="4" height="7.0" fill="#ff0000" stroke="#000" stroke-width="1"/>
<rect x="111.0" y="182.0" width="1" height="17.0" fill="#000"/><rect x="109.5" y="182.5" width="4" height="7.0" fill="#ff0000" stroke="#000" stroke-width="1"/>
<rect x="117.0" y="192.0" width="1" height="12.0" fill="#000"/><rect x="115.5" y="192.5" width="4" height="6.0" fill="#ff0000" stroke="#000" stroke-width="1"/>
<rect x="121.0" y="192.0" width="5" height="2.0" fill="#0000ff"/><rect x="123.0" y="182.0" width="1" height="26.0" fill="#000"/>
<rect x="129.0" y="175.0" width="1" height="16.0" fill="#000"/><rect x="127.5" y="182.5" width="4" height="8.0" fill="#90ee90" stroke="#000" stroke-width="1"/>
<rect x="133.0" y="188.0" width="5" height="1.2" fill="#0000ff"/><rect x="135.0" y="173.0" width="1" height="26.0" fill="#000"/>
<rect x="141.0" y="189.0" width="1" height="16.0" fill="#000"/><rect x="139.5" y="189.5" width="4" height="8.0" fill="#ff0000" stroke="#000" stroke-width="1"/>
<rect x="145.0" y="194.0" width="5" height="8.0" fill="#0000ff"/><rect x="147.0" y="182.0" width="1" height="28.0" fill="#000"/>
<rect x="153.0" y="198.0" width="1" height="20.0" fill="#000"/><rect x="151.5" y="198.5" width="4" height="12.0" fill="#ff0000" stroke="#000" stroke-width="1"/>
<rect x="159.0" y="206.0" width="1" height="15.0" fill="#000"/><rect x="157.5" y="206.5" width="4" height="11.0" fill="#ff0000" stroke="#000" stroke-width="1"/>
<rect x="165.0" y="212.0" width="1" height="14.0" fill="#000"/><rect x="163.5" y="212.5" width="4" height="8.0" fill="#ff0000" stroke="#000" stroke-width="1"/>
<rect x="169.0" y="214.0" width="5" height="4.0" fill="#0000ff"/><rect x="171.0" y="205.0" width="1" height="17.0" fill="#000"/>
<rect x="177.0" y="198.0" width="1" height="19.0" fill="#000"/><rect x="175.5" y="206.5" width="4" height="10.0" fill="#90ee90" stroke="#000" stroke-width="1"/>
<rect x="181.0" y="212.0" width="5" height="1.2" fill="#0000ff"/><rect x="183.0" y="194.0" width="1" height="24.0" fill="#000"/>
<rect x="189.0" y="212.0" width="1" height="14.0" fill="#000"/><rect x="187.5" y="212.5" width="4" height="9.0" fill="#ff0000" stroke="#000" stroke-width="1"/>
<rect x="195.0" y="218.0" width="1" height="13.0" fill="#000"/><rect x="193.5" y="218.5" width="4" height="7.0" fill="#ff0000" stroke="#000" stroke-width="1"/>
<rect x="201.0" y="228.0" width="1" height="10.0" fill="#000"/><rect x="199.5" y="228.5" width="4" height="5.0" fill="#ff0000" stroke="#000" stroke-width="1"/>
<rect x="207.0" y="228.0" width="1" height="16.0" fill="#000"/><rect x="205.5" y="228.5" width="4" height="10.0" fill="#ff0000" stroke="#000" stroke-width="1"/>
<rect x="213.0" y="235.0" width="1" height="13.0" fill="#000"/><rect x="211.5" y="235.5" width="4" height="8.0" fill="#ff0000" stroke="#000" stroke-width="1"/>
<rect x="217.0" y="237.0" width="5" height="4.0" fill="#0000ff"/><rect x="219.0" y="229.0" width="1" height="25.0" fill="#000"/>
<rect x="225.0" y="222.0" width="1" height="15.0" fill="#000"/><rect x="223.5" y="228.5" width="4" height="8.0" fill="#90ee90" stroke="#000" stroke-width="1"/>
<rect x="231.0" y="214.0" width="1" height="19.0" fill="#000"/><rect x="229.5" y="221.5" width="4" height="11.0" fill="#90ee90" stroke="#000" stroke-width="1"/>
<rect x="235.0" y="228.0" width="5" height="2.0" fill="#0000ff"/><rect x="237.0" y="214.0" width="1" height="33.0" fill="#000"/>
<rect x="243.0" y="230.0" width="1" height="16.0" fill="#000"/><rect x="241.5" y="230.5" width="4" height="10.0" fill="#ff0000" stroke="#000" stroke-width="1"/>
<rect x="249.0" y="235.0" width="1" height="14.0" fill="#000"/><rect x="247.5" y="235.5" width="4" height="8.0" fill="#ff0000" stroke="#000" stroke-width="1"/>
<rect x="255.0" y="240.0" width="1" height="15.0" fill="#000"/><rect x="253.5" y="240.5" width="4" height="9.0" fill="#ff0000" stroke="#000" stroke-width="1"/>
<rect x="261.0" y="245.0" width="1" height="14.0" fill="#000"/><rect x="259.5" y="245.5" width="4" height="8.0" fill="#ff0000" stroke="#000" stroke-width="1"/>
<rect x="267.0" y="250.0" width="1" height="15.0" fill="#000"/><rect x="265.5" y="250.5" width="4" height="9.0" fill="#ff0000" stroke="#000" stroke-width="1"/>
<rect x="271.0" y="253.0" width="5" height="3.0" fill="#0000ff"/><rect x="273.0" y="244.0" width="1" height="24.0" fill="#000"/>
<rect x="279.0" y="240.0" width="1" height="16.0" fill="#000"/><rect x="277.5" y="247.5" width="4" height="8.0" fill="#90ee90" stroke="#000" stroke-width="1"/>
<rect x="285.0" y="233.0" width="1" height="18.0" fill="#000"/><rect x="283.5" y="240.5" width="4" height="10.0" fill="#90ee90" stroke="#000" stroke-width="1"/>
<rect x="289.0" y="246.0" width="5" height="1.2" fill="#0000ff"/><rect x="291.0" y="230.0" width="1" height="38.0" fill="#000"/>
<rect x="295.0" y="244.0" width="5" height="4.0" fill="#0000ff"/><rect x="297.0" y="238.0" width="1" height="14.0" fill="#000"/>
<rect x="303.0" y="228.0" width="1" height="19.0" fill="#000"/><rect x="301.5" y="233.5" width="4" height="13.0" fill="#90ee90" stroke="#000" stroke-width="1"/>
<rect x="309.0" y="222.0" width="1" height="18.0" fill="#000"/><rect x="307.5" y="228.5" width="4" height="11.0" fill="#90ee90" stroke="#000" stroke-width="1"/>
<rect x="315.0" y="218.0" width="1" height="17.0" fill="#000"/><rect x="313.5" y="224.5" width="4" height="10.0" fill="#90ee90" stroke="#000" stroke-width="1"/>
<rect x="321.0" y="212.0" width="1" height="18.0" fill="#000"/><rect x="319.5" y="219.5" width="4" height="10.0" fill="#90ee90" stroke="#000" stroke-width="1"/>
<rect x="327.0" y="205.0" width="1" height="21.0" fill="#000"/><rect x="325.5" y="211.5" width="4" height="14.0" fill="#90ee90" stroke="#000" stroke-width="1"/>
<rect x="333.0" y="200.0" width="1" height="18.0" fill="#000"/><rect x="331.5" y="208.5" width="4" height="9.0" fill="#90ee90" stroke="#000" stroke-width="1"/>
<rect x="339.0" y="195.0" width="1" height="17.0" fill="#000"/><rect x="337.5" y="201.5" width="4" height="10.0" fill="#90ee90" stroke="#000" stroke-width="1"/>
<rect x="345.0" y="188.0" width="1" height="19.0" fill="#000"/><rect x="343.5" y="194.5" width="4" height="12.0" fill="#90ee90" stroke="#000" stroke-width="1"/>
<rect x="351.0" y="185.0" width="1" height="16.0" fill="#000"/><rect x="349.5" y="191.5" width="4" height="9.0" fill="#90ee90" stroke="#000" stroke-width="1"/>
<rect x="355.0" y="196.0" width="5" height="1.2" fill="#0000ff"/><rect x="357.0" y="178.0" width="1" height="27.0" fill="#000"/>
<rect x="361.0" y="191.0" width="5" height="6.0" fill="#0000ff"/><rect x="363.0" y="185.0" width="1" height="15.0" fill="#000"/>
<rect x="369.0" y="176.0" width="1" height="18.0" fill="#000"/><rect x="367.5" y="182.5" width="4" height="11.0" fill="#90ee90" stroke="#000" stroke-width="1"/>
<rect x="373.0" y="188.0" width="5" height="2.0" fill="#0000ff"/><rect x="375.0" y="174.0" width="1" height="24.0" fill="#000"/>
<rect x="381.0" y="189.0" width="1" height="16.0" fill="#000"/><rect x="379.5" y="189.5" width="4" height="7.0" fill="#ff0000" stroke="#000" stroke-width="1"/>
<rect x="387.0" y="194.0" width="1" height="17.0" fill="#000"/><rect x="385.5" y="194.5" width="4" height="8.0" fill="#ff0000" stroke="#000" stroke-width="1"/>
<rect x="393.0" y="198.0" width="1" height="18.0" fill="#000"/><rect x="391.5" y="198.5" width="4" height="11.0" fill="#ff0000" stroke="#000" stroke-width="1"/>
<rect x="399.0" y="205.0" width="1" height="16.0" fill="#000"/><rect x="397.5" y="205.5" width="4" height="9.0" fill="#ff0000" stroke="#000" stroke-width="1"/>
<rect x="405.0" y="210.0" width="1" height="15.0" fill="#000"/><rect x="403.5" y="210.5" width="4" height="10.0" fill="#ff0000" stroke="#000" stroke-width="1"/>
<rect x="411.0" y="217.0" width="1" height="15.0" fill="#000"/><rect x="409.5" y="217.5" width="4" height="6.0" fill="#ff0000" stroke="#000" stroke-width="1"/>
<rect x="417.0" y="222.0" width="1" height="19.0" fill="#000"/><rect x="415.5" y="222.5" width="4" height="11.0" fill="#ff0000" stroke="#000" stroke-width="1"/>
<rect x="423.0" y="228.0" width="1" height="16.0" fill="#000"/><rect x="421.5" y="228.5" width="4" height="12.0" fill="#ff0000" stroke="#000" stroke-width="1"/>
<rect x="429.0" y="235.0" width="1" height="16.0" fill="#000"/><rect x="427.5" y="235.5" width="4" height="10.0" fill="#ff0000" stroke="#000" stroke-width="1"/>
<rect x="433.0" y="237.0" width="5" height="4.0" fill="#0000ff"/><rect x="435.0" y="228.0" width="1" height="24.0" fill="#000"/>
<rect x="441.0" y="222.0" width="1" height="18.0" fill="#000"/><rect x="439.5" y="228.5" width="4" height="11.0" fill="#90ee90" stroke="#000" stroke-width="1"/>
<rect x="447.0" y="218.0" width="1" height="17.0" fill="#000"/><rect x="445.5" y="226.5" width="4" height="8.0" fill="#90ee90" stroke="#000" stroke-width="1"/>
<rect x="453.0" y="210.0" width="1" height="20.0" fill="#000"/><rect x="451.5" y="217.5" width="4" height="12.0" fill="#90ee90" stroke="#000" stroke-width="1"/>
<rect x="459.0" y="205.0" width="1" height="19.0" fill="#000"/><rect x="457.5" y="210.5" width="4" height="13.0" fill="#90ee90" stroke="#000" stroke-width="1"/>
<rect x="463.0" y="218.0" width="5" height="1.2" fill="#0000ff"/><rect x="465.0" y="204.0" width="1" height="24.0" fill="#000"/>
<rect x="471.0" y="217.0" width="1" height="16.0" fill="#000"/><rect x="469.5" y="217.5" width="4" height="10.0" fill="#ff0000" stroke="#000" stroke-width="1"/>
<rect x="477.0" y="224.0" width="1" height="17.0" fill="#000"/><rect x="475.5" y="224.5" width="4" height="9.0" fill="#ff0000" stroke="#000" stroke-width="1"/>
<rect x="483.0" y="228.0" width="1" height="16.0" fill="#000"/><rect x="481.5" y="228.5" width="4" height="12.0" fill="#ff0000" stroke="#000" stroke-width="1"/>
<rect x="489.0" y="235.0" width="1" height="15.0" fill="#000"/><rect x="487.5" y="235.5" width="4" height="10.0" fill="#ff0000" stroke="#000" stroke-width="1"/>
<rect x="495.0" y="240.0" width="1" height="15.0" fill="#000"/><rect x="493.5" y="240.5" width="4" height="9.0" fill="#ff0000" stroke="#000" stroke-width="1"/>
<rect x="501.0" y="245.0" width="1" height="15.0" fill="#000"/><rect x="499.5" y="245.5" width="4" height="10.0" fill="#ff0000" stroke="#000" stroke-width="1"/>
<rect x="507.0" y="256.0" width="1" height="10.0" fill="#000"/><rect x="505.5" y="256.5" width="4" height="5.0" fill="#ff0000" stroke="#000" stroke-width="1"/>
<rect x="513.0" y="256.0" width="1" height="14.0" fill="#000"/><rect x="511.5" y="256.5" width="4" height="9.0" fill="#ff0000" stroke="#000" stroke-width="1"/>
<rect x="519.0" y="264.0" width="1" height="13.0" fill="#000"/><rect x="517.5" y="264.5" width="4" height="8.0" fill="#ff0000" stroke="#000" stroke-width="1"/>
<rect x="525.0" y="270.0" width="1" height="13.0" fill="#000"/><rect x="523.5" y="270.5" width="4" height="8.0" fill="#ff0000" stroke="#000" stroke-width="1"/>
<rect x="531.0" y="275.0" width="1" height="15.0" fill="#000"/><rect x="529.5" y="275.5" width="4" height="10.0" fill="#ff0000" stroke="#000" stroke-width="1"/>
<rect x="537.0" y="281.0" width="1" height="15.0" fill="#000"/><rect x="535.5" y="281.5" width="4" height="9.0" fill="#ff0000" stroke="#000" stroke-width="1"/>
<rect x="543.0" y="287.0" width="1" height="15.0" fill="#000"/><rect x="541.5" y="287.5" width="4" height="10.0" fill="#ff0000" stroke="#000" stroke-width="1"/>
<rect x="549.0" y="294.0" width="1" height="12.0" fill="#000"/><rect x="547.5" y="294.5" width="4" height="7.0" fill="#ff0000" stroke="#000" stroke-width="1"/>
<rect x="555.0" y="298.0" width="1" height="15.0" fill="#000"/><rect x="553.5" y="298.5" width="4" height="11.0" fill="#ff0000" stroke="#000" stroke-width="1"/>
<rect x="561.0" y="302.0" width="1" height="17.0" fill="#000"/><rect x="559.5" y="302.5" width="4" height="10.0" fill="#ff0000" stroke="#000" stroke-width="1"/>
<rect x="567.0" y="310.0" width="1" height="16.0" fill="#000"/><rect x="565.5" y="310.5" width="4" height="9.0" fill="#ff0000" stroke="#000" stroke-width="1"/>
<rect x="573.0" y="314.0" width="1" height="18.0" fill="#000"/><rect x="571.5" y="314.5" width="4" height="10.0" fill="#ff0000" stroke="#000" stroke-width="1"/>
<rect x="577.0" y="317.0" width="5" height="1.2" fill="#0000ff"/><rect x="579.0" y="310.0" width="1" height="24.0" fill="#000"/>
<rect x="585.0" y="302.0" width="1" height="16.0" fill="#000"/><rect x="583.5" y="310.5" width="4" height="7.0" fill="#90ee90" stroke="#000" stroke-width="1"/>
<rect x="589.0" y="314.0" width="5" height="3.0" fill="#0000ff"/><rect x="591.0" y="297.0" width="1" height="28.0" fill="#000"/>
<rect x="595.0" y="311.0" width="5" height="3.0" fill="#0000ff"/><rect x="597.0" y="302.0" width="1" height="25.0" fill="#000"/>
<rect x="603.0" y="297.0" width="1" height="16.0" fill="#000"/><rect x="601.5" y="302.5" width="4" height="10.0" fill="#90ee90" stroke="#000" stroke-width="1"/>
<rect x="607.0" y="309.0" width="5" height="3.0" fill="#0000ff"/><rect x="609.0" y="295.0" width="1" height="25.0" fill="#000"/>
<rect x="615.0" y="310.0" width="1" height="16.0" fill="#000"/><rect x="613.5" y="310.5" width="4" height="7.0" fill="#ff0000" stroke="#000" stroke-width="1"/>
<rect x="621.0" y="314.0" width="1" height="18.0" fill="#000"/><rect x="619.5" y="314.5" width="4" height="10.0" fill="#ff0000" stroke="#000" stroke-width="1"/>
<rect x="627.0" y="318.0" width="1" height="16.0" fill="#000"/><rect x="625.5" y="318.5" width="4" height="13.0" fill="#ff0000" stroke="#000" stroke-width="1"/>
<rect x="631.0" y="322.0" width="5" height="3.0" fill="#0000ff"/><rect x="633.0" y="313.0" width="1" height="24.0" fill="#000"/>
<rect x="637.0" y="325.0" width="5" height="3.0" fill="#0000ff"/><rect x="639.0" y="311.0" width="1" height="27.0" fill="#000"/>
<rect x="645.0" y="325.0" width="1" height="16.0" fill="#000"/><rect x="643.5" y="325.5" width="4" height="10.0" fill="#ff0000" stroke="#000" stroke-width="1"/>
<rect x="649.0" y="330.0" width="5" height="2.0" fill="#0000ff"/><rect x="651.0" y="319.0" width="1" height="25.0" fill="#000"/>
<rect x="657.0" y="313.0" width="1" height="18.0" fill="#000"/><rect x="655.5" y="320.5" width="4" height="10.0" fill="#90ee90" stroke="#000" stroke-width="1"/>
<rect x="661.0" y="327.0" width="5" height="3.0" fill="#0000ff"/><rect x="663.0" y="313.0" width="1" height="24.0" fill="#000"/>
<rect x="667.0" y="322.0" width="5" height="5.0" fill="#0000ff"/><rect x="669.0" y="313.0" width="1" height="21.0" fill="#000"/>
<rect x="675.0" y="310.0" width="1" height="15.0" fill="#000"/><rect x="673.5" y="314.5" width="4" height="10.0" fill="#90ee90" stroke="#000" stroke-width="1"/>
<rect x="681.0" y="302.0" width="1" height="18.0" fill="#000"/><rect x="679.5" y="310.5" width="4" height="9.0" fill="#90ee90" stroke="#000" stroke-width="1"/>
<rect x="687.0" y="298.0" width="1" height="15.0" fill="#000"/><rect x="685.5" y="302.5" width="4" height="10.0" fill="#90ee90" stroke="#000" stroke-width="1"/>
<rect x="691.0" y="309.0" width="5" height="3.0" fill="#0000ff"/><rect x="693.0" y="298.0" width="1" height="22.0" fill="#000"/>
<rect x="699.0" y="311.0" width="1" height="14.0" fill="#000"/><rect x="697.5" y="311.5" width="4" height="8.0" fill="#ff0000" stroke="#000" stroke-width="1"/>
<rect x="705.0" y="316.0" width="1" height="14.0" fill="#000"/><rect x="703.5" y="316.5" width="4" height="8.0" fill="#ff0000" stroke="#000" stroke-width="1"/>
<rect x="711.0" y="320.0" width="1" height="14.0" fill="#000"/><rect x="709.5" y="320.5" width="4" height="9.0" fill="#ff0000" stroke="#000" stroke-width="1"/>
<rect x="717.0" y="325.0" width="1" height="15.0" fill="#000"/><rect x="715.5" y="325.5" width="4" height="8.0" fill="#ff0000" stroke="#000" stroke-width="1"/>
<rect x="723.0" y="329.0" width="1" height="19.0" fill="#000"/><rect x="721.5" y="329.5" width="4" height="14.0" fill="#ff0000" stroke="#000" stroke-width="1"/>
<rect x="729.0" y="337.0" width="1" height="14.0" fill="#000"/><rect x="727.5" y="337.5" width="4" height="7.0" fill="#ff0000" stroke="#000" stroke-width="1"/>
<rect x="735.0" y="343.0" width="1" height="13.0" fill="#000"/><rect x="733.5" y="343.5" width="4" height="8.0" fill="#ff0000" stroke="#000" stroke-width="1"/>
<rect x="741.0" y="349.0" width="1" height="14.0" fill="#000"/><rect x="739.5" y="349.5" width="4" height="8.0" fill="#ff0000" stroke="#000" stroke-width="1"/>
<rect x="747.0" y="355.0" width="1" height="15.0" fill="#000"/><rect x="745.5" y="355.5" width="4" height="8.0" fill="#ff0000" stroke="#000" stroke-width="1"/>
<rect x="753.0" y="359.0" width="1" height="17.0" fill="#000"/><rect x="751.5" y="359.5" width="4" height="11.0" fill="#ff0000" stroke="#000" stroke-width="1"/>
<rect x="759.0" y="366.0" width="1" height="16.0" fill="#000"/><rect x="757.5" y="366.5" width="4" height="11.0" fill="#ff0000" stroke="#000" stroke-width="1"/>
<rect x="763.0" y="368.0" width="5" height="3.0" fill="#0000ff"/><rect x="765.0" y="359.0" width="1" height="28.0" fill="#000"/>
<rect x="771.0" y="356.0" width="1" height="15.0" fill="#000"/><rect x="769.5" y="359.5" width="4" height="11.0" fill="#90ee90" stroke="#000" stroke-width="1"/>
<rect x="775.0" y="366.0" width="5" height="2.0" fill="#0000ff"/><rect x="777.0" y="352.0" width="1" height="30.0" fill="#000"/>
<rect x="781.0" y="365.0" width="5" height="3.0" fill="#0000ff"/><rect x="783.0" y="354.0" width="1" height="28.0" fill="#000"/>
<rect x="787.0" y="366.0" width="5" height="2.0" fill="#0000ff"/><rect x="789.0" y="350.0" width="1" height="29.0" fill="#000"/>
<rect x="795.0" y="363.0" width="1" height="16.0" fill="#000"/><rect x="793.5" y="369.5" width="4" height="5.0" fill="#ff0000" stroke="#000" stroke-width="1"/>
<rect x="801.0" y="361.0" width="1" height="29.0" fill="#000"/><rect x="799.5" y="371.5" width="4" height="10.0" fill="#ff0000" stroke="#000" stroke-width="1"/>
<rect x="807.0" y="376.0" width="1" height="19.0" fill="#000"/><rect x="805.5" y="376.5" width="4" height="13.0" fill="#ff0000" stroke="#000" stroke-width="1"/>
<rect x="813.0" y="382.0" width="1" height="18.0" fill="#000"/><rect x="811.5" y="382.5" width="4" height="12.0" fill="#ff0000" stroke="#000" stroke-width="1"/>
<rect x="819.0" y="390.0" width="1" height="15.0" fill="#000"/><rect x="817.5" y="390.5" width="4" height="10.0" fill="#ff0000" stroke="#000" stroke-width="1"/>
<rect x="825.0" y="396.0" width="1" height="14.0" fill="#000"/><rect x="823.5" y="396.5" width="4" height="8.0" fill="#ff0000" stroke="#000" stroke-width="1"/>
<rect x="831.0" y="405.0" width="1" height="12.0" fill="#000"/><rect x="829.5" y="405.5" width="4" height="7.0" fill="#ff0000" stroke="#000" stroke-width="1"/>
<rect x="837.0" y="408.0" width="1" height="14.0" fill="#000"/><rect x="835.5" y="408.5" width="4" height="8.0" fill="#ff0000" stroke="#000" stroke-width="1"/>
<rect x="843.0" y="412.0" width="1" height="16.0" fill="#000"/><rect x="841.5" y="412.5" width="4" height="11.0" fill="#ff0000" stroke="#000" stroke-width="1"/>
<rect x="849.0" y="418.0" width="1" height="13.0" fill="#000"/><rect x="847.5" y="418.5" width="4" height="8.0" fill="#ff0000" stroke="#000" stroke-width="1"/>
<path d="M12.0,255.8 L41.8,255.8 L41.8,265.8 L12.0,265.8Z" fill="#00ff00"/><path d="M51.8,255.8 L61.7,255.8 L61.7,265.8 L51.8,265.8Z" fill="#00ff00"/><path d="M71.7,255.8 L81.6,255.8 L81.6,265.8 L71.7,265.8Z" fill="#00ff00"/><path d="M91.6,255.8 L121.4,255.8 L121.4,265.8 L91.6,265.8Z" fill="#00ff00"/><path d="M131.4,255.8 L141.3,255.8 L141.3,265.8 L131.4,265.8Z" fill="#00ff00"/><path d="M151.3,255.8 L161.2,255.8 L161.2,265.8 L151.3,265.8Z" fill="#00ff00"/><path d="M171.2,255.8 L201.0,255.8 L201.0,265.8 L171.2,265.8Z" fill="#00ff00"/><path d="M211.0,255.8 L220.9,255.8 L220.9,265.8 L211.0,265.8Z" fill="#00ff00"/><path d="M230.9,255.8 L240.8,255.8 L240.8,265.8 L230.9,265.8Z" fill="#00ff00"/><path d="M250.8,255.8 L252.0,255.8 L280.6,258.1 L280.6,268.1 L252.0,265.8 L250.8,265.8Z" fill="#00ff00"/><path d="M290.6,258.5 L300.5,258.5 L300.5,268.5 L290.6,268.5Z" fill="#00ff00"/><path d="M310.5,258.5 L320.4,258.5 L320.4,268.5 L310.5,268.5Z" fill="#00ff00"/><path d="M330.4,258.5 L360.2,258.5 L360.2,268.5 L330.4,268.5Z" fill="#00ff00"/><path d="M370.2,258.5 L380.1,258.5 L380.1,268.5 L370.2,268.5Z" fill="#00ff00"/><path d="M390.1,258.5 L400.0,258.5 L400.0,268.5 L390.1,268.5Z" fill="#00ff00"/><path d="M410.0,258.5 L439.9,258.5 L439.9,268.5 L410.0,268.5Z" fill="#00ff00"/><path d="M449.8,258.5 L459.8,258.5 L459.8,268.5 L449.8,268.5Z" fill="#00ff00"/><path d="M469.7,258.5 L479.6,258.5 L479.6,268.5 L469.7,268.5Z" fill="#00ff00"/><path d="M489.6,258.5 L496.0,258.5 L503.0,262.4 L519.4,262.4 L519.4,272.4 L503.0,272.4 L496.0,268.5 L489.6,268.5Z" fill="#00ff00"/><path d="M529.4,262.4 L539.3,262.4 L539.3,272.4 L529.4,272.4Z" fill="#00ff00"/><path d="M549.3,262.4 L559.2,262.4 L559.2,272.4 L549.3,272.4Z" fill="#00ff00"/><path d="M569.2,262.4 L599.0,262.4 L599.0,272.4 L569.2,272.4Z" fill="#00ff00"/><path d="M609.0,262.4 L618.9,262.4 L618.9,272.4 L609.0,272.4Z" fill="#00ff00"/><path d="M628.9,262.4 L638.8,262.4 L638.8,272.4 L628.9,272.4Z" fill="#00ff00"/><path d="M648.8,262.4 L678.6,262.4 L678.6,272.4 L648.8,272.4Z" fill="#00ff00"/><path d="M688.6,262.4 L698.5,262.4 L698.5,272.4 L688.6,272.4Z" fill="#00ff00"/><path d="M708.5,262.4 L718.4,262.4 L718.4,272.4 L708.5,272.4Z" fill="#00ff00"/><path d="M728.4,262.4 L758.2,262.4 L758.2,272.4 L728.4,272.4Z" fill="#00ff00"/><path d="M768.2,262.4 L778.1,262.4 L778.1,272.4 L768.2,272.4Z" fill="#00ff00"/><path d="M788.1,262.4 L798.0,262.4 L798.0,272.4 L788.1,272.4Z" fill="#00ff00"/><path d="M808.0,262.4 L837.9,262.4 L837.9,272.4 L808.0,272.4Z" fill="#00ff00"/>
<rect x="24.5" y="130.7" width="6" height="5.8" rx="1.2" fill="#800000"/><rect x="25.5" y="132.1" width="6.0" height="3" fill="#800000"/><rect x="30.5" y="130.7" width="6" height="5.8" rx="1.2" fill="#800000"/><rect x="31.5" y="132.1" width="6.0" height="3" fill="#800000"/><rect x="36.5" y="130.7" width="6" height="5.8" rx="1.2" fill="#800000"/><rect x="37.5" y="132.1" width="6.0" height="3" fill="#800000"/><rect x="42.5" y="130.7" width="6" height="5.8" rx="1.2" fill="#800000"/><rect x="43.5" y="132.1" width="6.0" height="3" fill="#800000"/><rect x="48.5" y="130.7" width="6" height="5.8" rx="1.2" fill="#800000"/><rect x="49.5" y="132.1" width="6.0" height="3" fill="#800000"/><rect x="54.5" y="130.7" width="6" height="5.8" rx="1.2" fill="#800000"/><rect x="55.5" y="132.1" width="6.0" height="3" fill="#800000"/><rect x="60.5" y="130.7" width="6" height="5.8" rx="1.2" fill="#800000"/><rect x="61.5" y="132.1" width="6.0" height="3" fill="#800000"/><rect x="66.5" y="130.7" width="6" height="5.8" rx="1.2" fill="#800000"/><rect x="67.5" y="132.1" width="6.0" height="3" fill="#800000"/><rect x="72.5" y="130.7" width="6" height="5.8" rx="1.2" fill="#800000"/><rect x="73.5" y="132.1" width="6.0" height="3" fill="#800000"/><rect x="78.5" y="130.7" width="6" height="5.8" rx="1.2" fill="#800000"/><rect x="79.5" y="132.1" width="6.0" height="3" fill="#800000"/><rect x="84.5" y="130.7" width="6" height="5.8" rx="1.2" fill="#800000"/><rect x="85.5" y="132.1" width="6.0" height="3" fill="#800000"/><rect x="90.5" y="130.7" width="6" height="5.8" rx="1.2" fill="#800000"/><rect x="91.5" y="132.1" width="6.0" height="3" fill="#800000"/><rect x="96.5" y="130.7" width="6" height="5.8" rx="1.2" fill="#800000"/><rect x="97.5" y="132.1" width="6.0" height="3" fill="#800000"/><rect x="102.5" y="130.7" width="6" height="5.8" rx="1.2" fill="#800000"/><rect x="103.5" y="132.1" width="6.0" height="3" fill="#800000"/><rect x="108.5" y="130.7" width="6" height="5.8" rx="1.2" fill="#800000"/><rect x="109.5" y="132.1" width="6.0" height="3" fill="#800000"/><rect x="114.5" y="130.7" width="6" height="5.8" rx="1.2" fill="#800000"/><rect x="115.5" y="132.1" width="6.0" height="3" fill="#800000"/><rect x="120.5" y="130.7" width="6" height="5.8" rx="1.2" fill="#800000"/><rect x="121.5" y="132.1" width="6.0" height="3" fill="#800000"/><rect x="126.5" y="130.7" width="6" height="5.8" rx="1.2" fill="#800000"/><rect x="127.5" y="132.1" width="6.0" height="3" fill="#800000"/>
<rect x="132.5" y="148.7" width="6" height="5.8" rx="1.2" fill="#800000"/><rect x="133.5" y="150.1" width="6.0" height="3" fill="#800000"/><rect x="138.5" y="148.7" width="6" height="5.8" rx="1.2" fill="#800000"/><rect x="139.5" y="150.1" width="6.0" height="3" fill="#800000"/><rect x="144.5" y="148.7" width="6" height="5.8" rx="1.2" fill="#800000"/><rect x="145.5" y="150.1" width="6.0" height="3" fill="#800000"/><rect x="150.5" y="148.7" width="6" height="5.8" rx="1.2" fill="#800000"/><rect x="151.5" y="150.1" width="6.0" height="3" fill="#800000"/><rect x="156.5" y="148.7" width="6" height="5.8" rx="1.2" fill="#800000"/><rect x="157.5" y="150.1" width="6.0" height="3" fill="#800000"/><rect x="162.5" y="148.7" width="6" height="5.8" rx="1.2" fill="#800000"/><rect x="163.5" y="150.1" width="6.0" height="3" fill="#800000"/><rect x="168.5" y="148.7" width="6" height="5.8" rx="1.2" fill="#800000"/><rect x="169.5" y="150.1" width="6.0" height="3" fill="#800000"/><rect x="174.5" y="148.7" width="6" height="5.8" rx="1.2" fill="#800000"/><rect x="175.5" y="150.1" width="6.0" height="3" fill="#800000"/>
<rect x="180.5" y="174.8" width="6" height="5.8" rx="1.2" fill="#800000"/><rect x="181.5" y="176.2" width="6.0" height="3" fill="#800000"/><rect x="186.5" y="174.8" width="6" height="5.8" rx="1.2" fill="#800000"/><rect x="187.5" y="176.2" width="6.0" height="3" fill="#800000"/><rect x="192.5" y="174.8" width="6" height="5.8" rx="1.2" fill="#800000"/><rect x="193.5" y="176.2" width="6.0" height="3" fill="#800000"/><rect x="198.5" y="174.8" width="6" height="5.8" rx="1.2" fill="#800000"/><rect x="199.5" y="176.2" width="6.0" height="3" fill="#800000"/><rect x="204.5" y="174.8" width="6" height="5.8" rx="1.2" fill="#800000"/><rect x="205.5" y="176.2" width="6.0" height="3" fill="#800000"/><rect x="210.5" y="174.8" width="6" height="5.8" rx="1.2" fill="#800000"/><rect x="211.5" y="176.2" width="6.0" height="3" fill="#800000"/><rect x="216.5" y="174.8" width="6" height="5.8" rx="1.2" fill="#800000"/><rect x="217.5" y="176.2" width="6.0" height="3" fill="#800000"/><rect x="222.5" y="174.8" width="6" height="5.8" rx="1.2" fill="#800000"/><rect x="223.5" y="176.2" width="6.0" height="3" fill="#800000"/>
<rect x="228.5" y="195.1" width="6" height="5.8" rx="1.2" fill="#800000"/><rect x="229.5" y="196.5" width="6.0" height="3" fill="#800000"/><rect x="234.5" y="195.1" width="6" height="5.8" rx="1.2" fill="#800000"/><rect x="235.5" y="196.5" width="6.0" height="3" fill="#800000"/><rect x="240.5" y="195.1" width="6" height="5.8" rx="1.2" fill="#800000"/><rect x="241.5" y="196.5" width="6.0" height="3" fill="#800000"/><rect x="246.5" y="195.1" width="6" height="5.8" rx="1.2" fill="#800000"/><rect x="247.5" y="196.5" width="6.0" height="3" fill="#800000"/><rect x="252.5" y="195.1" width="6" height="5.8" rx="1.2" fill="#800000"/><rect x="253.5" y="196.5" width="6.0" height="3" fill="#800000"/><rect x="258.5" y="195.1" width="6" height="5.8" rx="1.2" fill="#800000"/><rect x="259.5" y="196.5" width="6.0" height="3" fill="#800000"/><rect x="264.5" y="195.1" width="6" height="5.8" rx="1.2" fill="#800000"/><rect x="265.5" y="196.5" width="6.0" height="3" fill="#800000"/><rect x="270.5" y="195.1" width="6" height="5.8" rx="1.2" fill="#800000"/><rect x="271.5" y="196.5" width="6.0" height="3" fill="#800000"/><rect x="276.5" y="195.1" width="6" height="5.8" rx="1.2" fill="#800000"/><rect x="277.5" y="196.5" width="6.0" height="3" fill="#800000"/>
<rect x="282.5" y="213.9" width="6" height="5.8" rx="1.2" fill="#800000"/><rect x="283.5" y="215.3" width="6.0" height="3" fill="#800000"/><rect x="288.5" y="213.9" width="6" height="5.8" rx="1.2" fill="#800000"/><rect x="289.5" y="215.3" width="6.0" height="3" fill="#800000"/><rect x="294.5" y="213.9" width="6" height="5.8" rx="1.2" fill="#800000"/><rect x="295.5" y="215.3" width="6.0" height="3" fill="#800000"/><rect x="300.5" y="213.9" width="6" height="5.8" rx="1.2" fill="#800000"/><rect x="301.5" y="215.3" width="6.0" height="3" fill="#800000"/><rect x="306.5" y="213.9" width="6" height="5.8" rx="1.2" fill="#800000"/><rect x="307.5" y="215.3" width="6.0" height="3" fill="#800000"/><rect x="312.5" y="213.9" width="6" height="5.8" rx="1.2" fill="#800000"/><rect x="313.5" y="215.3" width="6.0" height="3" fill="#800000"/><rect x="318.5" y="213.9" width="6" height="5.8" rx="1.2" fill="#800000"/><rect x="319.5" y="215.3" width="6.0" height="3" fill="#800000"/><rect x="324.5" y="213.9" width="6" height="5.8" rx="1.2" fill="#800000"/><rect x="325.5" y="215.3" width="6.0" height="3" fill="#800000"/><rect x="330.5" y="213.9" width="6" height="5.8" rx="1.2" fill="#800000"/><rect x="331.5" y="215.3" width="6.0" height="3" fill="#800000"/>
<rect x="372.5" y="149.1" width="6" height="5.8" rx="1.2" fill="#800000"/><rect x="373.5" y="150.5" width="6.0" height="3" fill="#800000"/><rect x="378.5" y="149.1" width="6" height="5.8" rx="1.2" fill="#800000"/><rect x="379.5" y="150.5" width="6.0" height="3" fill="#800000"/><rect x="384.5" y="149.1" width="6" height="5.8" rx="1.2" fill="#800000"/><rect x="385.5" y="150.5" width="6.0" height="3" fill="#800000"/><rect x="390.5" y="149.1" width="6" height="5.8" rx="1.2" fill="#800000"/><rect x="391.5" y="150.5" width="6.0" height="3" fill="#800000"/><rect x="396.5" y="149.1" width="6" height="5.8" rx="1.2" fill="#800000"/><rect x="397.5" y="150.5" width="6.0" height="3" fill="#800000"/><rect x="402.5" y="149.1" width="6" height="5.8" rx="1.2" fill="#800000"/><rect x="403.5" y="150.5" width="6.0" height="3" fill="#800000"/><rect x="408.5" y="149.1" width="6" height="5.8" rx="1.2" fill="#800000"/><rect x="409.5" y="150.5" width="6.0" height="3" fill="#800000"/><rect x="414.5" y="149.1" width="6" height="5.8" rx="1.2" fill="#800000"/><rect x="415.5" y="150.5" width="6.0" height="3" fill="#800000"/><rect x="420.5" y="149.1" width="6" height="5.8" rx="1.2" fill="#800000"/><rect x="421.5" y="150.5" width="6.0" height="3" fill="#800000"/><rect x="426.5" y="149.1" width="6" height="5.8" rx="1.2" fill="#800000"/><rect x="427.5" y="150.5" width="6.0" height="3" fill="#800000"/><rect x="432.5" y="149.1" width="6" height="5.8" rx="1.2" fill="#800000"/><rect x="433.5" y="150.5" width="6.0" height="3" fill="#800000"/><rect x="438.5" y="149.1" width="6" height="5.8" rx="1.2" fill="#800000"/><rect x="439.5" y="150.5" width="6.0" height="3" fill="#800000"/>
<rect x="444.5" y="197.9" width="6" height="5.8" rx="1.2" fill="#800000"/><rect x="445.5" y="199.3" width="6.0" height="3" fill="#800000"/><rect x="450.5" y="197.9" width="6" height="5.8" rx="1.2" fill="#800000"/><rect x="451.5" y="199.3" width="6.0" height="3" fill="#800000"/><rect x="456.5" y="197.9" width="6" height="5.8" rx="1.2" fill="#800000"/><rect x="457.5" y="199.3" width="6.0" height="3" fill="#800000"/><rect x="462.5" y="197.9" width="6" height="5.8" rx="1.2" fill="#800000"/><rect x="463.5" y="199.3" width="6.0" height="3" fill="#800000"/><rect x="468.5" y="197.9" width="6" height="5.8" rx="1.2" fill="#800000"/><rect x="469.5" y="199.3" width="6.0" height="3" fill="#800000"/><rect x="474.5" y="197.9" width="6" height="5.8" rx="1.2" fill="#800000"/><rect x="475.5" y="199.3" width="6.0" height="3" fill="#800000"/><rect x="480.5" y="197.9" width="6" height="5.8" rx="1.2" fill="#800000"/><rect x="481.5" y="199.3" width="6.0" height="3" fill="#800000"/><rect x="486.5" y="197.9" width="6" height="5.8" rx="1.2" fill="#800000"/><rect x="487.5" y="199.3" width="6.0" height="3" fill="#800000"/><rect x="492.5" y="197.9" width="6" height="5.8" rx="1.2" fill="#800000"/><rect x="493.5" y="199.3" width="6.0" height="3" fill="#800000"/><rect x="498.5" y="197.9" width="6" height="5.8" rx="1.2" fill="#800000"/><rect x="499.5" y="199.3" width="6.0" height="3" fill="#800000"/><rect x="504.5" y="197.9" width="6" height="5.8" rx="1.2" fill="#800000"/><rect x="505.5" y="199.3" width="6.0" height="3" fill="#800000"/><rect x="510.5" y="197.9" width="6" height="5.8" rx="1.2" fill="#800000"/><rect x="511.5" y="199.3" width="6.0" height="3" fill="#800000"/><rect x="516.5" y="197.9" width="6" height="5.8" rx="1.2" fill="#800000"/><rect x="517.5" y="199.3" width="6.0" height="3" fill="#800000"/><rect x="522.5" y="197.9" width="6" height="5.8" rx="1.2" fill="#800000"/><rect x="523.5" y="199.3" width="6.0" height="3" fill="#800000"/><rect x="528.5" y="197.9" width="6" height="5.8" rx="1.2" fill="#800000"/><rect x="529.5" y="199.3" width="6.0" height="3" fill="#800000"/><rect x="534.5" y="197.9" width="6" height="5.8" rx="1.2" fill="#800000"/><rect x="535.5" y="199.3" width="6.0" height="3" fill="#800000"/><rect x="540.5" y="197.9" width="6" height="5.8" rx="1.2" fill="#800000"/><rect x="541.5" y="199.3" width="6.0" height="3" fill="#800000"/><rect x="546.5" y="197.9" width="6" height="5.8" rx="1.2" fill="#800000"/><rect x="547.5" y="199.3" width="6.0" height="3" fill="#800000"/><rect x="552.5" y="197.9" width="6" height="5.8" rx="1.2" fill="#800000"/><rect x="553.5" y="199.3" width="6.0" height="3" fill="#800000"/><rect x="558.5" y="197.9" width="6" height="5.8" rx="1.2" fill="#800000"/><rect x="559.5" y="199.3" width="6.0" height="3" fill="#800000"/><rect x="564.5" y="197.9" width="6" height="5.8" rx="1.2" fill="#800000"/><rect x="565.5" y="199.3" width="6.0" height="3" fill="#800000"/><rect x="570.5" y="197.9" width="6" height="5.8" rx="1.2" fill="#800000"/><rect x="571.5" y="199.3" width="6.0" height="3" fill="#800000"/><rect x="576.5" y="197.9" width="6" height="5.8" rx="1.2" fill="#800000"/><rect x="577.5" y="199.3" width="6.0" height="3" fill="#800000"/><rect x="582.5" y="197.9" width="6" height="5.8" rx="1.2" fill="#800000"/><rect x="583.5" y="199.3" width="6.0" height="3" fill="#800000"/>
<rect x="588.5" y="275.9" width="6" height="5.8" rx="1.2" fill="#800000"/><rect x="589.5" y="277.3" width="6.0" height="3" fill="#800000"/><rect x="594.5" y="275.9" width="6" height="5.8" rx="1.2" fill="#800000"/><rect x="595.5" y="277.3" width="6.0" height="3" fill="#800000"/><rect x="600.5" y="275.9" width="6" height="5.8" rx="1.2" fill="#800000"/><rect x="601.5" y="277.3" width="6.0" height="3" fill="#800000"/><rect x="606.5" y="275.9" width="6" height="5.8" rx="1.2" fill="#800000"/><rect x="607.5" y="277.3" width="6.0" height="3" fill="#800000"/><rect x="612.5" y="275.9" width="6" height="5.8" rx="1.2" fill="#800000"/><rect x="613.5" y="277.3" width="6.0" height="3" fill="#800000"/><rect x="618.5" y="275.9" width="6" height="5.8" rx="1.2" fill="#800000"/><rect x="619.5" y="277.3" width="6.0" height="3" fill="#800000"/><rect x="624.5" y="275.9" width="6" height="5.8" rx="1.2" fill="#800000"/><rect x="625.5" y="277.3" width="6.0" height="3" fill="#800000"/><rect x="630.5" y="275.9" width="6" height="5.8" rx="1.2" fill="#800000"/><rect x="631.5" y="277.3" width="6.0" height="3" fill="#800000"/><rect x="636.5" y="275.9" width="6" height="5.8" rx="1.2" fill="#800000"/><rect x="637.5" y="277.3" width="6.0" height="3" fill="#800000"/><rect x="642.5" y="275.9" width="6" height="5.8" rx="1.2" fill="#800000"/><rect x="643.5" y="277.3" width="6.0" height="3" fill="#800000"/><rect x="648.5" y="275.9" width="6" height="5.8" rx="1.2" fill="#800000"/><rect x="649.5" y="277.3" width="6.0" height="3" fill="#800000"/><rect x="654.5" y="275.9" width="6" height="5.8" rx="1.2" fill="#800000"/><rect x="655.5" y="277.3" width="6.0" height="3" fill="#800000"/>
<rect x="660.5" y="291.9" width="6" height="5.8" rx="1.2" fill="#800000"/><rect x="661.5" y="293.3" width="6.0" height="3" fill="#800000"/><rect x="666.5" y="291.9" width="6" height="5.8" rx="1.2" fill="#800000"/><rect x="667.5" y="293.3" width="6.0" height="3" fill="#800000"/><rect x="672.5" y="291.9" width="6" height="5.8" rx="1.2" fill="#800000"/><rect x="673.5" y="293.3" width="6.0" height="3" fill="#800000"/><rect x="678.5" y="291.9" width="6" height="5.8" rx="1.2" fill="#800000"/><rect x="679.5" y="293.3" width="6.0" height="3" fill="#800000"/><rect x="684.5" y="291.9" width="6" height="5.8" rx="1.2" fill="#800000"/><rect x="685.5" y="293.3" width="6.0" height="3" fill="#800000"/><rect x="690.5" y="291.9" width="6" height="5.8" rx="1.2" fill="#800000"/><rect x="691.5" y="293.3" width="6.0" height="3" fill="#800000"/><rect x="696.5" y="291.9" width="6" height="5.8" rx="1.2" fill="#800000"/><rect x="697.5" y="293.3" width="6.0" height="3" fill="#800000"/><rect x="702.5" y="291.9" width="6" height="5.8" rx="1.2" fill="#800000"/><rect x="703.5" y="293.3" width="6.0" height="3" fill="#800000"/><rect x="708.5" y="291.9" width="6" height="5.8" rx="1.2" fill="#800000"/><rect x="709.5" y="293.3" width="6.0" height="3" fill="#800000"/><rect x="714.5" y="291.9" width="6" height="5.8" rx="1.2" fill="#800000"/><rect x="715.5" y="293.3" width="6.0" height="3" fill="#800000"/><rect x="720.5" y="291.9" width="6" height="5.8" rx="1.2" fill="#800000"/><rect x="721.5" y="293.3" width="6.0" height="3" fill="#800000"/><rect x="726.5" y="291.9" width="6" height="5.8" rx="1.2" fill="#800000"/><rect x="727.5" y="293.3" width="6.0" height="3" fill="#800000"/><rect x="732.5" y="291.9" width="6" height="5.8" rx="1.2" fill="#800000"/><rect x="733.5" y="293.3" width="6.0" height="3" fill="#800000"/><rect x="738.5" y="291.9" width="6" height="5.8" rx="1.2" fill="#800000"/><rect x="739.5" y="293.3" width="6.0" height="3" fill="#800000"/><rect x="744.5" y="291.9" width="6" height="5.8" rx="1.2" fill="#800000"/><rect x="745.5" y="293.3" width="6.0" height="3" fill="#800000"/><rect x="750.5" y="291.9" width="6" height="5.8" rx="1.2" fill="#800000"/><rect x="751.5" y="293.3" width="6.0" height="3" fill="#800000"/><rect x="756.5" y="291.9" width="6" height="5.8" rx="1.2" fill="#800000"/><rect x="757.5" y="293.3" width="6.0" height="3" fill="#800000"/><rect x="762.5" y="291.9" width="6" height="5.8" rx="1.2" fill="#800000"/><rect x="763.5" y="293.3" width="6.0" height="3" fill="#800000"/><rect x="768.5" y="291.9" width="6" height="5.8" rx="1.2" fill="#800000"/><rect x="769.5" y="293.3" width="6.0" height="3" fill="#800000"/>
<rect x="774.5" y="328.9" width="6" height="5.8" rx="1.2" fill="#800000"/><rect x="775.5" y="330.3" width="6.0" height="3" fill="#800000"/><rect x="780.5" y="328.9" width="6" height="5.8" rx="1.2" fill="#800000"/><rect x="781.5" y="330.3" width="6.0" height="3" fill="#800000"/><rect x="786.5" y="328.9" width="6" height="5.8" rx="1.2" fill="#800000"/><rect x="787.5" y="330.3" width="6.0" height="3" fill="#800000"/><rect x="792.5" y="328.9" width="6" height="5.8" rx="1.2" fill="#800000"/><rect x="793.5" y="330.3" width="6.0" height="3" fill="#800000"/><rect x="798.5" y="328.9" width="6" height="5.8" rx="1.2" fill="#800000"/><rect x="799.5" y="330.3" width="6.0" height="3" fill="#800000"/><rect x="804.5" y="328.9" width="6" height="5.8" rx="1.2" fill="#800000"/><rect x="805.5" y="330.3" width="6.0" height="3" fill="#800000"/><rect x="810.5" y="328.9" width="6" height="5.8" rx="1.2" fill="#800000"/><rect x="811.5" y="330.3" width="6.0" height="3" fill="#800000"/><rect x="816.5" y="328.9" width="6" height="5.8" rx="1.2" fill="#800000"/><rect x="817.5" y="330.3" width="6.0" height="3" fill="#800000"/><rect x="822.5" y="328.9" width="6" height="5.8" rx="1.2" fill="#800000"/><rect x="823.5" y="330.3" width="6.0" height="3" fill="#800000"/><rect x="828.5" y="328.9" width="6" height="5.8" rx="1.2" fill="#800000"/><rect x="829.5" y="330.3" width="6.0" height="3" fill="#800000"/><rect x="834.5" y="328.9" width="6" height="5.8" rx="1.2" fill="#800000"/><rect x="835.5" y="330.3" width="6.0" height="3" fill="#800000"/><rect x="840.5" y="328.9" width="6" height="5.8" rx="1.2" fill="#800000"/><rect x="841.5" y="330.3" width="6.0" height="3" fill="#800000"/>
<rect x="48.5" y="185.6" width="6" height="5.8" rx="1.2" fill="#90ee90"/><rect x="49.5" y="187.0" width="6.0" height="3" fill="#90ee90"/><rect x="54.5" y="185.6" width="6" height="5.8" rx="1.2" fill="#90ee90"/><rect x="55.5" y="187.0" width="6.0" height="3" fill="#90ee90"/><rect x="60.5" y="185.6" width="6" height="5.8" rx="1.2" fill="#90ee90"/><rect x="61.5" y="187.0" width="6.0" height="3" fill="#90ee90"/><rect x="66.5" y="185.6" width="6" height="5.8" rx="1.2" fill="#90ee90"/><rect x="67.5" y="187.0" width="6.0" height="3" fill="#90ee90"/><rect x="72.5" y="185.6" width="6" height="5.8" rx="1.2" fill="#90ee90"/><rect x="73.5" y="187.0" width="6.0" height="3" fill="#90ee90"/><rect x="78.5" y="185.6" width="6" height="5.8" rx="1.2" fill="#90ee90"/><rect x="79.5" y="187.0" width="6.0" height="3" fill="#90ee90"/><rect x="84.5" y="185.6" width="6" height="5.8" rx="1.2" fill="#90ee90"/><rect x="85.5" y="187.0" width="6.0" height="3" fill="#90ee90"/><rect x="90.5" y="185.6" width="6" height="5.8" rx="1.2" fill="#90ee90"/><rect x="91.5" y="187.0" width="6.0" height="3" fill="#90ee90"/><rect x="96.5" y="185.6" width="6" height="5.8" rx="1.2" fill="#90ee90"/><rect x="97.5" y="187.0" width="6.0" height="3" fill="#90ee90"/><rect x="102.5" y="185.6" width="6" height="5.8" rx="1.2" fill="#90ee90"/><rect x="103.5" y="187.0" width="6.0" height="3" fill="#90ee90"/><rect x="108.5" y="185.6" width="6" height="5.8" rx="1.2" fill="#90ee90"/><rect x="109.5" y="187.0" width="6.0" height="3" fill="#90ee90"/><rect x="114.5" y="185.6" width="6" height="5.8" rx="1.2" fill="#90ee90"/><rect x="115.5" y="187.0" width="6.0" height="3" fill="#90ee90"/>
<rect x="144.5" y="223.1" width="6" height="5.8" rx="1.2" fill="#90ee90"/><rect x="145.5" y="224.5" width="6.0" height="3" fill="#90ee90"/><rect x="150.5" y="223.1" width="6" height="5.8" rx="1.2" fill="#90ee90"/><rect x="151.5" y="224.5" width="6.0" height="3" fill="#90ee90"/><rect x="156.5" y="223.1" width="6" height="5.8" rx="1.2" fill="#90ee90"/><rect x="157.5" y="224.5" width="6.0" height="3" fill="#90ee90"/><rect x="162.5" y="223.1" width="6" height="5.8" rx="1.2" fill="#90ee90"/><rect x="163.5" y="224.5" width="6.0" height="3" fill="#90ee90"/><rect x="168.5" y="223.1" width="6" height="5.8" rx="1.2" fill="#90ee90"/><rect x="169.5" y="224.5" width="6.0" height="3" fill="#90ee90"/><rect x="174.5" y="223.1" width="6" height="5.8" rx="1.2" fill="#90ee90"/><rect x="175.5" y="224.5" width="6.0" height="3" fill="#90ee90"/><rect x="180.5" y="223.1" width="6" height="5.8" rx="1.2" fill="#90ee90"/><rect x="181.5" y="224.5" width="6.0" height="3" fill="#90ee90"/><rect x="186.5" y="223.1" width="6" height="5.8" rx="1.2" fill="#90ee90"/><rect x="187.5" y="224.5" width="6.0" height="3" fill="#90ee90"/><rect x="192.5" y="223.1" width="6" height="5.8" rx="1.2" fill="#90ee90"/><rect x="193.5" y="224.5" width="6.0" height="3" fill="#90ee90"/><rect x="198.5" y="223.1" width="6" height="5.8" rx="1.2" fill="#90ee90"/><rect x="199.5" y="224.5" width="6.0" height="3" fill="#90ee90"/>
<rect x="204.5" y="243.6" width="6" height="5.8" rx="1.2" fill="#90ee90"/><rect x="205.5" y="245.0" width="6.0" height="3" fill="#90ee90"/><rect x="210.5" y="243.6" width="6" height="5.8" rx="1.2" fill="#90ee90"/><rect x="211.5" y="245.0" width="6.0" height="3" fill="#90ee90"/><rect x="216.5" y="243.6" width="6" height="5.8" rx="1.2" fill="#90ee90"/><rect x="217.5" y="245.0" width="6.0" height="3" fill="#90ee90"/><rect x="222.5" y="243.6" width="6" height="5.8" rx="1.2" fill="#90ee90"/><rect x="223.5" y="245.0" width="6.0" height="3" fill="#90ee90"/><rect x="228.5" y="243.6" width="6" height="5.8" rx="1.2" fill="#90ee90"/><rect x="229.5" y="245.0" width="6.0" height="3" fill="#90ee90"/><rect x="234.5" y="243.6" width="6" height="5.8" rx="1.2" fill="#90ee90"/><rect x="235.5" y="245.0" width="6.0" height="3" fill="#90ee90"/><rect x="240.5" y="243.6" width="6" height="5.8" rx="1.2" fill="#90ee90"/><rect x="241.5" y="245.0" width="6.0" height="3" fill="#90ee90"/><rect x="246.5" y="243.6" width="6" height="5.8" rx="1.2" fill="#90ee90"/><rect x="247.5" y="245.0" width="6.0" height="3" fill="#90ee90"/><rect x="252.5" y="243.6" width="6" height="5.8" rx="1.2" fill="#90ee90"/><rect x="253.5" y="245.0" width="6.0" height="3" fill="#90ee90"/><rect x="258.5" y="243.6" width="6" height="5.8" rx="1.2" fill="#90ee90"/><rect x="259.5" y="245.0" width="6.0" height="3" fill="#90ee90"/>
<rect x="384.5" y="222.6" width="6" height="5.8" rx="1.2" fill="#90ee90"/><rect x="385.5" y="224.0" width="6.0" height="3" fill="#90ee90"/><rect x="390.5" y="222.6" width="6" height="5.8" rx="1.2" fill="#90ee90"/><rect x="391.5" y="224.0" width="6.0" height="3" fill="#90ee90"/><rect x="396.5" y="222.6" width="6" height="5.8" rx="1.2" fill="#90ee90"/><rect x="397.5" y="224.0" width="6.0" height="3" fill="#90ee90"/><rect x="402.5" y="222.6" width="6" height="5.8" rx="1.2" fill="#90ee90"/><rect x="403.5" y="224.0" width="6.0" height="3" fill="#90ee90"/><rect x="408.5" y="222.6" width="6" height="5.8" rx="1.2" fill="#90ee90"/><rect x="409.5" y="224.0" width="6.0" height="3" fill="#90ee90"/><rect x="414.5" y="222.6" width="6" height="5.8" rx="1.2" fill="#90ee90"/><rect x="415.5" y="224.0" width="6.0" height="3" fill="#90ee90"/>
<rect x="474.5" y="249.7" width="6" height="5.8" rx="1.2" fill="#90ee90"/><rect x="475.5" y="251.1" width="6.0" height="3" fill="#90ee90"/><rect x="480.5" y="249.7" width="6" height="5.8" rx="1.2" fill="#90ee90"/><rect x="481.5" y="251.1" width="6.0" height="3" fill="#90ee90"/><rect x="486.5" y="249.7" width="6" height="5.8" rx="1.2" fill="#90ee90"/><rect x="487.5" y="251.1" width="6.0" height="3" fill="#90ee90"/><rect x="492.5" y="249.7" width="6" height="5.8" rx="1.2" fill="#90ee90"/><rect x="493.5" y="251.1" width="6.0" height="3" fill="#90ee90"/><rect x="498.5" y="249.7" width="6" height="5.8" rx="1.2" fill="#90ee90"/><rect x="499.5" y="251.1" width="6.0" height="3" fill="#90ee90"/><rect x="504.5" y="249.7" width="6" height="5.8" rx="1.2" fill="#90ee90"/><rect x="505.5" y="251.1" width="6.0" height="3" fill="#90ee90"/>
<rect x="618.5" y="344.6" width="6" height="5.8" rx="1.2" fill="#90ee90"/><rect x="619.5" y="346.0" width="6.0" height="3" fill="#90ee90"/><rect x="624.5" y="344.6" width="6" height="5.8" rx="1.2" fill="#90ee90"/><rect x="625.5" y="346.0" width="6.0" height="3" fill="#90ee90"/><rect x="630.5" y="344.6" width="6" height="5.8" rx="1.2" fill="#90ee90"/><rect x="631.5" y="346.0" width="6.0" height="3" fill="#90ee90"/><rect x="636.5" y="344.6" width="6" height="5.8" rx="1.2" fill="#90ee90"/><rect x="637.5" y="346.0" width="6.0" height="3" fill="#90ee90"/><rect x="642.5" y="344.6" width="6" height="5.8" rx="1.2" fill="#90ee90"/><rect x="643.5" y="346.0" width="6.0" height="3" fill="#90ee90"/><rect x="648.5" y="344.6" width="6" height="5.8" rx="1.2" fill="#90ee90"/><rect x="649.5" y="346.0" width="6.0" height="3" fill="#90ee90"/><rect x="654.5" y="344.6" width="6" height="5.8" rx="1.2" fill="#90ee90"/><rect x="655.5" y="346.0" width="6.0" height="3" fill="#90ee90"/><rect x="660.5" y="344.6" width="6" height="5.8" rx="1.2" fill="#90ee90"/><rect x="661.5" y="346.0" width="6.0" height="3" fill="#90ee90"/><rect x="666.5" y="344.6" width="6" height="5.8" rx="1.2" fill="#90ee90"/><rect x="667.5" y="346.0" width="6.0" height="3" fill="#90ee90"/><rect x="672.5" y="344.6" width="6" height="5.8" rx="1.2" fill="#90ee90"/><rect x="673.5" y="346.0" width="6.0" height="3" fill="#90ee90"/><rect x="678.5" y="344.6" width="6" height="5.8" rx="1.2" fill="#90ee90"/><rect x="679.5" y="346.0" width="6.0" height="3" fill="#90ee90"/><rect x="684.5" y="344.6" width="6" height="5.8" rx="1.2" fill="#90ee90"/><rect x="685.5" y="346.0" width="6.0" height="3" fill="#90ee90"/><rect x="690.5" y="344.6" width="6" height="5.8" rx="1.2" fill="#90ee90"/><rect x="691.5" y="346.0" width="6.0" height="3" fill="#90ee90"/><rect x="696.5" y="344.6" width="6" height="5.8" rx="1.2" fill="#90ee90"/><rect x="697.5" y="346.0" width="6.0" height="3" fill="#90ee90"/><rect x="702.5" y="344.6" width="6" height="5.8" rx="1.2" fill="#90ee90"/><rect x="703.5" y="346.0" width="6.0" height="3" fill="#90ee90"/><rect x="708.5" y="344.6" width="6" height="5.8" rx="1.2" fill="#90ee90"/><rect x="709.5" y="346.0" width="6.0" height="3" fill="#90ee90"/><rect x="714.5" y="344.6" width="6" height="5.8" rx="1.2" fill="#90ee90"/><rect x="715.5" y="346.0" width="6.0" height="3" fill="#90ee90"/><rect x="720.5" y="344.6" width="6" height="5.8" rx="1.2" fill="#90ee90"/><rect x="721.5" y="346.0" width="6.0" height="3" fill="#90ee90"/><rect x="726.5" y="344.6" width="6" height="5.8" rx="1.2" fill="#90ee90"/><rect x="727.5" y="346.0" width="6.0" height="3" fill="#90ee90"/><rect x="732.5" y="344.6" width="6" height="5.8" rx="1.2" fill="#90ee90"/><rect x="733.5" y="346.0" width="6.0" height="3" fill="#90ee90"/><rect x="738.5" y="344.6" width="6" height="5.8" rx="1.2" fill="#90ee90"/><rect x="739.5" y="346.0" width="6.0" height="3" fill="#90ee90"/>
<rect x="798.5" y="400.1" width="6" height="5.8" rx="1.2" fill="#90ee90"/><rect x="799.5" y="401.5" width="6.0" height="3" fill="#90ee90"/><rect x="804.5" y="400.1" width="6" height="5.8" rx="1.2" fill="#90ee90"/><rect x="805.5" y="401.5" width="6.0" height="3" fill="#90ee90"/><rect x="810.5" y="400.1" width="6" height="5.8" rx="1.2" fill="#90ee90"/><rect x="811.5" y="401.5" width="6.0" height="3" fill="#90ee90"/><rect x="816.5" y="400.1" width="6" height="5.8" rx="1.2" fill="#90ee90"/><rect x="817.5" y="401.5" width="6.0" height="3" fill="#90ee90"/><rect x="822.5" y="400.1" width="6" height="5.8" rx="1.2" fill="#90ee90"/><rect x="823.5" y="401.5" width="6.0" height="3" fill="#90ee90"/><rect x="828.5" y="400.1" width="6" height="5.8" rx="1.2" fill="#90ee90"/><rect x="829.5" y="401.5" width="6.0" height="3" fill="#90ee90"/>
<circle cx="123.4" cy="208.4" r="3.5" fill="#fff" stroke="#000" stroke-width="1"/>
<circle cx="171.3" cy="233.4" r="3.5" fill="#fff" stroke="#000" stroke-width="1"/>
<circle cx="219.4" cy="253" r="3.5" fill="#fff" stroke="#000" stroke-width="1"/>
<circle cx="273.4" cy="272.2" r="3.5" fill="#fff" stroke="#000" stroke-width="1"/>
<circle cx="357.4" cy="174.8" r="3.5" fill="#fff" stroke="#000" stroke-width="1"/>
<circle cx="375.3" cy="171.2" r="3.5" fill="#fff" stroke="#000" stroke-width="1"/>
<circle cx="579.4" cy="334.3" r="3.5" fill="#fff" stroke="#000" stroke-width="1"/>
<circle cx="633.2" cy="341.4" r="3.5" fill="#fff" stroke="#000" stroke-width="1"/>
<circle cx="651.4" cy="349.7" r="3.5" fill="#fff" stroke="#000" stroke-width="1"/>
<circle cx="765.4" cy="387.6" r="3.5" fill="#fff" stroke="#000" stroke-width="1"/>
<path d="M27.3,174.0 L32.0,180.0 L29.5,180.0 L29.5,193.5 L25.1,193.5 L25.1,180.0 L22.6,180.0 Z" fill="#007800" stroke="#000" stroke-width="0.8"/>
<path d="M231.4,235.4 L236.2,241.4 L233.6,241.4 L233.6,253.8 L229.2,253.8 L229.2,241.4 L226.7,241.4 Z" fill="#007800" stroke="#000" stroke-width="0.8"/>
<path d="M285.4,253.8 L290.1,259.8 L287.6,259.8 L287.6,272.6 L283.2,272.6 L283.2,259.8 L280.6,259.8 Z" fill="#007800" stroke="#000" stroke-width="0.8"/>
<path d="M447.3,242.5 L452.1,248.5 L449.5,248.5 L449.5,262.0 L445.1,262.0 L445.1,248.5 L442.6,248.5 Z" fill="#007800" stroke="#000" stroke-width="0.8"/>
<path d="M387.5,190.0 L392.0,184.0 L389.7,184.0 L389.7,170.0 L385.3,170.0 L385.3,184.0 L383.0,184.0 Z" fill="#ff0000" stroke="#000" stroke-width="0.8"/>
<rect x="634" y="342.5" width="12.5" height="1.6" fill="#000"/><rect x="645" y="336" width="1.5" height="8" fill="#000"/>
<path d="M172.6,226.5 L177.6,221 L182.6,226.5Z" fill="#006400"/>
<path d="M220.5,246.0 L225.5,240.5 L230.5,246.0Z" fill="#006400"/>
<path d="M634.6,344.0 L639.6,338.5 L644.6,344.0Z" fill="#006400"/>
<path d="M652.3,339.5 L657.3,334 L662.3,339.5Z" fill="#006400"/>
<path d="M902.0,149.7 L908.0,143.5 L939.0,143.5 L939.0,156.0 L908.0,156.0 Z" fill="#ff00ff" stroke="#000" stroke-width="1"/><text x="937.5" y="153.7" text-anchor="end" style="font-family:'Liberation Sans',sans-serif;font-size:11px" fill="#fff">50,57</text>
<path d="M902.0,227.8 L908.0,221.5 L939.0,221.5 L939.0,234.0 L908.0,234.0 Z" fill="#006400" stroke="#000" stroke-width="1"/><text x="937.5" y="231.8" text-anchor="end" style="font-family:'Liberation Sans',sans-serif;font-size:11px" fill="#fff">50,23</text>
<path d="M902.0,266.8 L908.0,260.6 L939.0,260.6 L939.0,273.1 L908.0,273.1 Z" fill="#00ff00" stroke="#000" stroke-width="1"/><text x="937.5" y="270.8" text-anchor="end" style="font-family:'Liberation Sans',sans-serif;font-size:11px" fill="#000">50,06</text>
<path d="M902.0,331.2 L908.0,325.0 L939.0,325.0 L939.0,337.5 L908.0,337.5 Z" fill="#800000" stroke="#000" stroke-width="1"/><text x="937.5" y="335.2" text-anchor="end" style="font-family:'Liberation Sans',sans-serif;font-size:11px" fill="#000"></text>
<path d="M902.0,333.4 L908.0,327.2 L939.0,327.2 L939.0,339.7 L908.0,339.7 Z" fill="#a9a9a9" stroke="#000" stroke-width="1"/><text x="937.5" y="337.4" text-anchor="end" style="font-family:'Liberation Sans',sans-serif;font-size:11px" fill="#000">49,77</text>
<path d="M902.0,379.3 L908.0,373.1 L939.0,373.1 L939.0,385.6 L908.0,385.6 Z" fill="#20b2aa" stroke="#000" stroke-width="1"/><text x="937.5" y="383.3" text-anchor="end" style="font-family:'Liberation Sans',sans-serif;font-size:11px" fill="#000">49,57</text>
<path d="M902.0,429.8 L908.0,423.6 L939.0,423.6 L939.0,436.1 L908.0,436.1 Z" fill="#b0c4de" stroke="#000" stroke-width="1"/><text x="937.5" y="433.8" text-anchor="end" style="font-family:'Liberation Sans',sans-serif;font-size:11px" fill="#000">49,35</text>
<path d="M902.0,420.7 L908.0,414.4 L939.0,414.4 L939.0,426.9 L908.0,426.9 Z" fill="#000000" stroke="#000" stroke-width="1"/><text x="937.5" y="424.7" text-anchor="end" style="font-family:'Liberation Sans',sans-serif;font-size:11px" fill="#fff">49,39</text>
<rect x="8.1" y="491.5" width="2" height="23.6" fill="#0000ff"/>
<rect x="14.1" y="491.5" width="2" height="20.0" fill="#0000ff"/>
<rect x="20.1" y="491.5" width="2" height="15.6" fill="#0000ff"/>
<rect x="26.1" y="491.5" width="2" height="10.6" fill="#0000ff"/>
<rect x="32.1" y="491.5" width="2" height="5.3" fill="#0000ff"/>
<rect x="38.1" y="491.5" width="2" height="0.2" fill="#0000ff"/>
<rect x="44.1" y="490.7" width="2" height="0.8" fill="#ff0000"/>
<rect x="50.1" y="490.0" width="2" height="1.5" fill="#ff0000"/>
<rect x="56.1" y="490.0" width="2" height="1.5" fill="#ff0000"/>
<rect x="62.1" y="488.9" width="2" height="2.6" fill="#ff0000"/>
<rect x="68.1" y="487.5" width="2" height="4.0" fill="#ff0000"/>
<rect x="74.1" y="487.5" width="2" height="4.0" fill="#ff0000"/>
<rect x="80.1" y="489.0" width="2" height="2.5" fill="#ff0000"/>
<rect x="86.1" y="491.4" width="2" height="0.1" fill="#ff0000"/>
<rect x="92.1" y="491.5" width="2" height="2.8" fill="#0000ff"/>
<rect x="98.1" y="491.5" width="2" height="6.4" fill="#0000ff"/>
<rect x="104.1" y="491.5" width="2" height="9.7" fill="#0000ff"/>
<rect x="110.1" y="491.5" width="2" height="11.0" fill="#0000ff"/>
<rect x="116.1" y="491.5" width="2" height="12.4" fill="#0000ff"/>
<rect x="122.1" y="491.5" width="2" height="12.9" fill="#0000ff"/>
<rect x="128.1" y="491.5" width="2" height="8.3" fill="#0000ff"/>
<rect x="134.1" y="491.5" width="2" height="5.6" fill="#0000ff"/>
<rect x="140.1" y="491.5" width="2" height="3.8" fill="#0000ff"/>
<rect x="146.1" y="491.5" width="2" height="2.8" fill="#0000ff"/>
<rect x="152.1" y="491.5" width="2" height="4.0" fill="#0000ff"/>
<rect x="158.1" y="491.5" width="2" height="5.2" fill="#0000ff"/>
<rect x="164.1" y="491.5" width="2" height="5.6" fill="#0000ff"/>
<rect x="170.1" y="491.5" width="2" height="5.8" fill="#0000ff"/>
<rect x="176.1" y="491.5" width="2" height="4.2" fill="#0000ff"/>
<rect x="182.1" y="491.5" width="2" height="2.6" fill="#0000ff"/>
<rect x="188.1" y="491.5" width="2" height="1.0" fill="#0000ff"/>
<rect x="194.1" y="491.5" width="2" height="1.1" fill="#0000ff"/>
<rect x="200.1" y="491.5" width="2" height="2.1" fill="#0000ff"/>
<rect x="206.1" y="491.5" width="2" height="3.0" fill="#0000ff"/>
<rect x="212.1" y="491.5" width="2" height="4.0" fill="#0000ff"/>
<rect x="218.1" y="491.5" width="2" height="4.8" fill="#0000ff"/>
<rect x="224.1" y="491.5" width="2" height="2.0" fill="#0000ff"/>
<rect x="230.1" y="490.7" width="2" height="0.8" fill="#ff0000"/>
<rect x="236.1" y="488.0" width="2" height="3.5" fill="#ff0000"/>
<rect x="242.1" y="486.5" width="2" height="5.0" fill="#ff0000"/>
<rect x="248.1" y="488.1" width="2" height="3.4" fill="#ff0000"/>
<rect x="254.1" y="489.7" width="2" height="1.8" fill="#ff0000"/>
<rect x="260.1" y="491.3" width="2" height="0.2" fill="#ff0000"/>
<rect x="266.1" y="491.5" width="2" height="1.4" fill="#0000ff"/>
<rect x="272.1" y="491.5" width="2" height="2.7" fill="#0000ff"/>
<rect x="278.1" y="491.5" width="2" height="0.1" fill="#0000ff"/>
<rect x="284.1" y="489.0" width="2" height="2.5" fill="#ff0000"/>
<rect x="290.1" y="486.3" width="2" height="5.2" fill="#ff0000"/>
<rect x="296.1" y="483.8" width="2" height="7.7" fill="#ff0000"/>
<rect x="302.1" y="481.5" width="2" height="10.0" fill="#ff0000"/>
<rect x="308.1" y="479.3" width="2" height="12.2" fill="#ff0000"/>
<rect x="314.1" y="477.0" width="2" height="14.5" fill="#ff0000"/>
<rect x="320.1" y="475.0" width="2" height="16.5" fill="#ff0000"/>
<rect x="326.1" y="474.0" width="2" height="17.5" fill="#ff0000"/>
<rect x="332.1" y="473.0" width="2" height="18.5" fill="#ff0000"/>
<rect x="338.1" y="472.0" width="2" height="19.5" fill="#ff0000"/>
<rect x="344.1" y="471.4" width="2" height="20.1" fill="#ff0000"/>
<rect x="350.1" y="472.3" width="2" height="19.2" fill="#ff0000"/>
<rect x="356.1" y="473.2" width="2" height="18.3" fill="#ff0000"/>
<rect x="362.1" y="475.6" width="2" height="15.9" fill="#ff0000"/>
<rect x="368.1" y="477.9" width="2" height="13.6" fill="#ff0000"/>
<rect x="374.1" y="480.3" width="2" height="11.2" fill="#ff0000"/>
<rect x="380.1" y="485.9" width="2" height="5.6" fill="#ff0000"/>
<rect x="386.1" y="491.5" width="2" height="0.0" fill="#0000ff"/>
<rect x="392.1" y="491.5" width="2" height="5.5" fill="#0000ff"/>
<rect x="398.1" y="491.5" width="2" height="9.7" fill="#0000ff"/>
<rect x="404.1" y="491.5" width="2" height="12.8" fill="#0000ff"/>
<rect x="410.1" y="491.5" width="2" height="16.0" fill="#0000ff"/>
<rect x="416.1" y="491.5" width="2" height="19.5" fill="#0000ff"/>
<rect x="422.1" y="491.5" width="2" height="20.3" fill="#0000ff"/>
<rect x="428.1" y="491.5" width="2" height="20.1" fill="#0000ff"/>
<rect x="434.1" y="491.5" width="2" height="18.7" fill="#0000ff"/>
<rect x="440.1" y="491.5" width="2" height="13.3" fill="#0000ff"/>
<rect x="446.1" y="491.5" width="2" height="7.6" fill="#0000ff"/>
<rect x="452.1" y="491.5" width="2" height="1.7" fill="#0000ff"/>
<rect x="458.1" y="488.7" width="2" height="2.8" fill="#ff0000"/>
<rect x="464.1" y="484.3" width="2" height="7.2" fill="#ff0000"/>
<rect x="470.1" y="484.3" width="2" height="7.2" fill="#ff0000"/>
<rect x="476.1" y="486.2" width="2" height="5.3" fill="#ff0000"/>
<rect x="482.1" y="488.8" width="2" height="2.7" fill="#ff0000"/>
<rect x="488.1" y="491.5" width="2" height="1.4" fill="#0000ff"/>
<rect x="494.1" y="491.5" width="2" height="5.5" fill="#0000ff"/>
<rect x="500.1" y="491.5" width="2" height="8.4" fill="#0000ff"/>
<rect x="506.1" y="491.5" width="2" height="10.7" fill="#0000ff"/>
<rect x="512.1" y="491.5" width="2" height="13.0" fill="#0000ff"/>
<rect x="518.1" y="491.5" width="2" height="14.6" fill="#0000ff"/>
<rect x="524.1" y="491.5" width="2" height="14.6" fill="#0000ff"/>
<rect x="530.1" y="491.5" width="2" height="14.6" fill="#0000ff"/>
<rect x="536.1" y="491.5" width="2" height="14.6" fill="#0000ff"/>
<rect x="542.1" y="491.5" width="2" height="14.3" fill="#0000ff"/>
<rect x="548.1" y="491.5" width="2" height="13.3" fill="#0000ff"/>
<rect x="554.1" y="491.5" width="2" height="12.3" fill="#0000ff"/>
<rect x="560.1" y="491.5" width="2" height="11.2" fill="#0000ff"/>
<rect x="566.1" y="491.5" width="2" height="10.1" fill="#0000ff"/>
<rect x="572.1" y="491.5" width="2" height="8.9" fill="#0000ff"/>
<rect x="578.1" y="491.5" width="2" height="7.5" fill="#0000ff"/>
<rect x="584.1" y="491.5" width="2" height="1.9" fill="#0000ff"/>
<rect x="590.1" y="489.5" width="2" height="2.0" fill="#ff0000"/>
<rect x="596.1" y="485.8" width="2" height="5.7" fill="#ff0000"/>
<rect x="602.1" y="482.1" width="2" height="9.4" fill="#ff0000"/>
<rect x="608.1" y="478.4" width="2" height="13.1" fill="#ff0000"/>
<rect x="614.1" y="478.1" width="2" height="13.4" fill="#ff0000"/>
<rect x="620.1" y="480.0" width="2" height="11.5" fill="#ff0000"/>
<rect x="626.1" y="482.0" width="2" height="9.5" fill="#ff0000"/>
<rect x="632.1" y="484.0" width="2" height="7.5" fill="#ff0000"/>
<rect x="638.1" y="485.4" width="2" height="6.1" fill="#ff0000"/>
<rect x="644.1" y="486.9" width="2" height="4.6" fill="#ff0000"/>
<rect x="650.1" y="488.3" width="2" height="3.2" fill="#ff0000"/>
<rect x="656.1" y="486.7" width="2" height="4.8" fill="#ff0000"/>
<rect x="662.1" y="485.2" width="2" height="6.3" fill="#ff0000"/>
<rect x="668.1" y="483.6" width="2" height="7.9" fill="#ff0000"/>
<rect x="674.1" y="481.5" width="2" height="10.0" fill="#ff0000"/>
<rect x="680.1" y="479.4" width="2" height="12.1" fill="#ff0000"/>
<rect x="686.1" y="477.4" width="2" height="14.1" fill="#ff0000"/>
<rect x="692.1" y="477.9" width="2" height="13.6" fill="#ff0000"/>
<rect x="698.1" y="481.3" width="2" height="10.2" fill="#ff0000"/>
<rect x="704.1" y="484.7" width="2" height="6.8" fill="#ff0000"/>
<rect x="710.1" y="488.1" width="2" height="3.4" fill="#ff0000"/>
<rect x="716.1" y="491.5" width="2" height="0.0" fill="#ff0000"/>
<rect x="722.1" y="491.5" width="2" height="3.3" fill="#0000ff"/>
<rect x="728.1" y="491.5" width="2" height="6.4" fill="#0000ff"/>
<rect x="734.1" y="491.5" width="2" height="9.6" fill="#0000ff"/>
<rect x="740.1" y="491.5" width="2" height="12.5" fill="#0000ff"/>
<rect x="746.1" y="491.5" width="2" height="13.0" fill="#0000ff"/>
<rect x="752.1" y="491.5" width="2" height="13.5" fill="#0000ff"/>
<rect x="758.1" y="491.5" width="2" height="13.8" fill="#0000ff"/>
<rect x="764.1" y="491.5" width="2" height="10.8" fill="#0000ff"/>
<rect x="770.1" y="491.5" width="2" height="7.5" fill="#0000ff"/>
<rect x="776.1" y="491.5" width="2" height="4.1" fill="#0000ff"/>
<rect x="782.1" y="491.5" width="2" height="0.7" fill="#0000ff"/>
<rect x="788.1" y="488.9" width="2" height="2.6" fill="#ff0000"/>
<rect x="794.1" y="487.2" width="2" height="4.3" fill="#ff0000"/>
<rect x="800.1" y="488.8" width="2" height="2.7" fill="#ff0000"/>
<rect x="806.1" y="490.4" width="2" height="1.1" fill="#ff0000"/>
<rect x="812.1" y="491.5" width="2" height="1.1" fill="#0000ff"/>
<rect x="818.1" y="491.5" width="2" height="4.7" fill="#0000ff"/>
<rect x="824.1" y="491.5" width="2" height="6.6" fill="#0000ff"/>
<rect x="830.1" y="491.5" width="2" height="7.7" fill="#0000ff"/>
<rect x="836.1" y="491.5" width="2" height="8.8" fill="#0000ff"/>
<rect x="842.1" y="491.5" width="2" height="9.8" fill="#0000ff"/>
<rect x="848.1" y="491.5" width="2" height="9.9" fill="#0000ff"/>
<path d="M9.0,515.4 C10.5,514.5 14.6,512.6 18.1,510.0 C21.6,507.4 26.5,503.0 30.0,500.0 C33.5,497.0 35.7,493.5 39.0,491.8 C42.3,490.1 46.6,490.3 49.9,490.0 C53.2,489.7 55.2,490.5 59.0,490.0 C62.8,489.5 68.8,487.0 72.6,486.8 C76.4,486.6 78.7,488.0 81.7,489.0 C84.7,490.0 87.0,490.7 90.8,492.7 C94.6,494.7 99.9,499.0 104.4,500.9 C108.9,502.8 114.8,503.4 118.0,504.0 C121.2,504.6 121.1,505.5 123.4,504.5 C125.7,503.5 127.8,499.9 131.6,498.2 C135.4,496.4 141.4,494.2 146.1,494.0 C150.8,493.8 155.8,496.2 160.0,496.8 C164.2,497.4 166.1,498.2 171.3,497.4 C176.5,496.6 183.4,492.2 191.4,492.0 C199.4,491.8 210.8,497.4 219.2,496.4 C227.6,495.4 232.8,486.3 241.8,486.0 C250.8,485.7 263.9,494.7 273.0,494.4 C282.1,494.1 288.4,487.5 296.2,484.3 C304.0,481.1 312.0,477.5 320.0,475.3 C328.0,473.1 338.1,471.6 344.3,471.2 C350.5,470.8 352.2,471.7 357.4,473.2 C362.6,474.7 369.7,476.4 375.6,480.3 C381.5,484.2 388.6,492.8 392.7,496.4 C396.8,499.9 397.3,500.0 400.0,501.6 C402.7,503.2 405.9,504.4 408.9,506.0 C411.9,507.6 414.8,510.2 417.8,511.2 C420.8,512.2 423.7,512.4 426.7,512.2 C429.7,512.0 432.7,511.9 435.6,510.2 C438.6,508.5 441.3,505.1 444.4,502.2 C447.5,499.3 450.2,495.9 454.0,492.7 C457.8,489.5 462.7,483.9 467.3,483.0 C471.9,482.1 476.4,484.8 481.4,487.4 C486.4,490.0 491.5,495.3 497.5,498.4 C503.5,501.5 510.2,504.8 517.6,506.1 C525.0,507.4 535.8,506.4 541.8,506.1 C547.8,505.8 547.7,505.2 553.9,504.1 C560.1,503.0 573.7,501.3 579.1,499.4 C584.5,497.5 580.6,496.6 586.1,492.8 C591.6,489.1 604.1,478.4 612.0,476.9 C619.9,475.4 626.6,482.0 633.2,483.9 C639.8,485.8 645.5,488.3 651.4,488.3 C657.3,488.3 662.0,485.9 668.5,483.9 C675.0,481.9 682.0,474.7 690.7,476.3 C699.4,477.9 712.5,488.8 720.9,493.4 C729.3,498.0 734.6,502.0 741.0,504.0 C747.4,506.0 755.1,505.8 759.1,505.5 C763.1,505.2 759.5,505.6 765.2,502.5 C770.9,499.4 785.7,488.6 793.4,486.7 C801.1,484.8 806.8,489.6 811.5,491.4 C816.2,493.2 816.2,495.7 821.6,497.4 C827.0,499.1 840.1,500.7 843.8,501.4" fill="none" stroke="#000" stroke-width="2.2"/>
<circle cx="123.3" cy="504.5" r="3.5" fill="#fff" stroke="#000" stroke-width="1"/>
<circle cx="171.3" cy="497.4" r="3.5" fill="#fff" stroke="#000" stroke-width="1"/>
<circle cx="219.2" cy="496.4" r="3.5" fill="#fff" stroke="#000" stroke-width="1"/>
<circle cx="273" cy="494.4" r="3.5" fill="#fff" stroke="#000" stroke-width="1"/>
<circle cx="357.4" cy="473.2" r="3.5" fill="#fff" stroke="#000" stroke-width="1"/>
<circle cx="375.6" cy="480.3" r="3.5" fill="#fff" stroke="#000" stroke-width="1"/>
<circle cx="579.1" cy="499.4" r="3.5" fill="#fff" stroke="#000" stroke-width="1"/>
<circle cx="633.2" cy="483.9" r="3.5" fill="#fff" stroke="#000" stroke-width="1"/>
<circle cx="651.4" cy="488.3" r="3.5" fill="#fff" stroke="#000" stroke-width="1"/>
<circle cx="765.2" cy="502.5" r="3.5" fill="#fff" stroke="#000" stroke-width="1"/>
<text x="8" y="503" style="font-family:'Liberation Sans',sans-serif;font-size:11px" fill="#000">DO(14,5,3,9)</text>
<text x="3" y="517" style="font-family:'Liberation Sans',sans-serif;font-size:11.3px" fill="#000">© 2015 NinjaTrader, LLC</text>
<path d="M902.0,500.2 L908.0,493.7 L935.0,493.7 L935.0,506.7 L908.0,506.7 Z" fill="#0000ff" stroke="#000" stroke-width="1"/><text x="933.5" y="504.2" text-anchor="end" style="font-family:'Liberation Sans',sans-serif;font-size:11px" fill="#fff">-5,69</text>
<text x="1.5" y="265.5" style="font-family:'Liberation Sans',sans-serif;font-size:11px" fill="#00dd00">L</text>
<rect x="969.0" y="35" width="1" height="445" fill="#dedede"/>
<rect x="1037.0" y="35" width="1" height="445" fill="#dedede"/>
<rect x="1105.0" y="35" width="1" height="445" fill="#dedede"/>
<rect x="1173.0" y="35" width="1" height="445" fill="#dedede"/>
<rect x="1241.0" y="35" width="1" height="445" fill="#dedede"/>
<rect x="1309.0" y="35" width="1" height="445" fill="#dedede"/>
<rect x="1377.0" y="35" width="1" height="445" fill="#dedede"/>
<rect x="1445.0" y="35" width="1" height="445" fill="#dedede"/>
<rect x="1513.0" y="35" width="1" height="445" fill="#dedede"/>
<rect x="1581.0" y="35" width="1" height="445" fill="#dedede"/>
<rect x="1649.0" y="35" width="1" height="445" fill="#dedede"/>
<rect x="1717.0" y="35" width="1" height="445" fill="#dedede"/>
<rect x="1785.0" y="35" width="1" height="445" fill="#dedede"/>
<rect x="962" y="38.5" width="898.5" height="1" fill="#dedede"/>
<rect x="962" y="110.5" width="898.5" height="1" fill="#dedede"/>
<rect x="962" y="182.5" width="898.5" height="1" fill="#dedede"/>
<rect x="962" y="254.5" width="898.5" height="1" fill="#dedede"/>
<rect x="962" y="326.5" width="898.5" height="1" fill="#dedede"/>
<rect x="962" y="398.5" width="898.5" height="1" fill="#dedede"/>
<rect x="962" y="470.5" width="898.5" height="1" fill="#dedede"/>
<rect x="1860" y="32" width="1" height="490" fill="#000"/>
<rect x="1860" y="38.1" width="6" height="1" fill="#000"/>
<text x="1867.5" y="43.2" style="font-family:'Liberation Sans',sans-serif;font-size:11px" fill="#000">50,90</text>
<rect x="1860" y="62.1" width="6" height="1" fill="#000"/>
<text x="1867.5" y="67.2" style="font-family:'Liberation Sans',sans-serif;font-size:11px" fill="#000">50,80</text>
<rect x="1860" y="86.1" width="6" height="1" fill="#000"/>
<text x="1867.5" y="91.2" style="font-family:'Liberation Sans',sans-serif;font-size:11px" fill="#000">50,70</text>
<rect x="1860" y="110.1" width="6" height="1" fill="#000"/>
<text x="1867.5" y="115.2" style="font-family:'Liberation Sans',sans-serif;font-size:11px" fill="#000">50,60</text>
<rect x="1860" y="134.1" width="6" height="1" fill="#000"/>
<text x="1867.5" y="139.2" style="font-family:'Liberation Sans',sans-serif;font-size:11px" fill="#000">50,50</text>
<rect x="1860" y="158.1" width="6" height="1" fill="#000"/>
<text x="1867.5" y="163.2" style="font-family:'Liberation Sans',sans-serif;font-size:11px" fill="#000">50,40</text>
<rect x="1860" y="182.1" width="6" height="1" fill="#000"/>
<text x="1867.5" y="187.2" style="font-family:'Liberation Sans',sans-serif;font-size:11px" fill="#000">50,30</text>
<rect x="1860" y="206.1" width="6" height="1" fill="#000"/>
<text x="1867.5" y="211.2" style="font-family:'Liberation Sans',sans-serif;font-size:11px" fill="#000">50,20</text>
<rect x="1860" y="230.1" width="6" height="1" fill="#000"/>
<text x="1867.5" y="235.2" style="font-family:'Liberation Sans',sans-serif;font-size:11px" fill="#000">50,10</text>
<rect x="1860" y="254.1" width="6" height="1" fill="#000"/>
<text x="1867.5" y="259.2" style="font-family:'Liberation Sans',sans-serif;font-size:11px" fill="#000">50,00</text>
<rect x="1860" y="278.1" width="6" height="1" fill="#000"/>
<text x="1867.5" y="283.2" style="font-family:'Liberation Sans',sans-serif;font-size:11px" fill="#000">49,90</text>
<rect x="1860" y="302.1" width="6" height="1" fill="#000"/>
<text x="1867.5" y="307.2" style="font-family:'Liberation Sans',sans-serif;font-size:11px" fill="#000">49,80</text>
<rect x="1860" y="326.1" width="6" height="1" fill="#000"/>
<text x="1867.5" y="331.2" style="font-family:'Liberation Sans',sans-serif;font-size:11px" fill="#000">49,70</text>
<rect x="1860" y="350.1" width="6" height="1" fill="#000"/>
<text x="1867.5" y="355.2" style="font-family:'Liberation Sans',sans-serif;font-size:11px" fill="#000">49,60</text>
<rect x="1860" y="374.1" width="6" height="1" fill="#000"/>
<text x="1867.5" y="379.2" style="font-family:'Liberation Sans',sans-serif;font-size:11px" fill="#000">49,50</text>
<rect x="1860" y="398.1" width="6" height="1" fill="#000"/>
<text x="1867.5" y="403.2" style="font-family:'Liberation Sans',sans-serif;font-size:11px" fill="#000">49,40</text>
<rect x="1860" y="422.1" width="6" height="1" fill="#000"/>
<text x="1867.5" y="427.2" style="font-family:'Liberation Sans',sans-serif;font-size:11px" fill="#000">49,30</text>
<rect x="1860" y="446.1" width="6" height="1" fill="#000"/>
<text x="1867.5" y="451.2" style="font-family:'Liberation Sans',sans-serif;font-size:11px" fill="#000">49,20</text>
<rect x="1860" y="470.1" width="6" height="1" fill="#000"/>
<text x="1867.5" y="475.2" style="font-family:'Liberation Sans',sans-serif;font-size:11px" fill="#000">49,10</text>
<rect x="1884.5" y="29" width="20" height="20.5" rx="2" fill="#ececec" stroke="#707070"/>
<path d="M1890 35h9l-4.5 5z" fill="#000"/>
<rect x="960" y="480" width="947" height="1" fill="#000"/>
<rect x="960" y="521" width="901" height="1" fill="#000"/>
<rect x="960" y="505" width="906" height="1" fill="#5a7a3a"/>
<text x="1867.5" y="510" style="font-family:'Liberation Sans',sans-serif;font-size:11px" fill="#000">0</text>
<rect x="969.0" y="521" width="1" height="6" fill="#000"/>
<text x="968.7" y="538" text-anchor="middle" style="font-family:'Liberation Sans',sans-serif;font-size:10.5px" fill="#000">18:12</text>
<rect x="1037.0" y="521" width="1" height="6" fill="#000"/>
<text x="1036.7" y="538" text-anchor="middle" style="font-family:'Liberation Sans',sans-serif;font-size:10.5px" fill="#000">18:15</text>
<rect x="1105.0" y="521" width="1" height="6" fill="#000"/>
<text x="1104.7" y="538" text-anchor="middle" style="font-family:'Liberation Sans',sans-serif;font-size:10.5px" fill="#000">18:21</text>
<rect x="1173.0" y="521" width="1" height="6" fill="#000"/>
<text x="1172.7" y="538" text-anchor="middle" style="font-family:'Liberation Sans',sans-serif;font-size:10.5px" fill="#000">18:26</text>
<rect x="1241.0" y="521" width="1" height="6" fill="#000"/>
<text x="1240.7" y="538" text-anchor="middle" style="font-family:'Liberation Sans',sans-serif;font-size:10.5px" fill="#000">18:26</text>
<rect x="1309.0" y="521" width="1" height="6" fill="#000"/>
<text x="1308.7" y="538" text-anchor="middle" style="font-family:'Liberation Sans',sans-serif;font-size:10.5px" fill="#000">18:26</text>
<rect x="1377.0" y="521" width="1" height="6" fill="#000"/>
<text x="1376.7" y="538" text-anchor="middle" style="font-family:'Liberation Sans',sans-serif;font-size:10.5px" fill="#000">18:27</text>
<rect x="1445.0" y="521" width="1" height="6" fill="#000"/>
<text x="1444.7" y="538" text-anchor="middle" style="font-family:'Liberation Sans',sans-serif;font-size:10.5px" fill="#000">18:29</text>
<rect x="1513.0" y="521" width="1" height="6" fill="#000"/>
<text x="1512.7" y="538" text-anchor="middle" style="font-family:'Liberation Sans',sans-serif;font-size:10.5px" fill="#000">18:32</text>
<rect x="1581.0" y="521" width="1" height="6" fill="#000"/>
<text x="1580.7" y="538" text-anchor="middle" style="font-family:'Liberation Sans',sans-serif;font-size:10.5px" fill="#000">18:37</text>
<rect x="1649.0" y="521" width="1" height="6" fill="#000"/>
<text x="1648.7" y="538" text-anchor="middle" style="font-family:'Liberation Sans',sans-serif;font-size:10.5px" fill="#000">18:38</text>
<rect x="1717.0" y="521" width="1" height="6" fill="#000"/>
<text x="1716.7" y="538" text-anchor="middle" style="font-family:'Liberation Sans',sans-serif;font-size:10.5px" fill="#000">18:40</text>
<rect x="1785.0" y="521" width="1" height="6" fill="#000"/>
<text x="1784.7" y="538" text-anchor="middle" style="font-family:'Liberation Sans',sans-serif;font-size:10.5px" fill="#000">18:42</text>
<polyline points="969.4,55.3 1014.3,55.3 1017.5,63.8 1077.0,63.8 1081.8,70.9 1125.2,70.9 1130.0,78.9 1445.8,79.0 1449.8,88.9 1525.7,88.9 1529.7,98.9 1693.8,98.9 1697.0,108.0 1725.7,108.0 1729.7,116.0 1770.0,116.0 1775.0,117.2 1829.6,117.2" fill="none" stroke="#ff00ff" stroke-width="1.2" />
<polyline points="974.0,160.3 1014.0,160.3 1018.0,161.4 1030.0,161.4 1150.0,167.0 1445.8,166.8 1449.8,174.8 1525.7,174.8 1529.7,179.6 1693.8,180.0 1697.0,186.0 1725.7,186.0 1729.7,194.7 1770.0,194.7 1788.0,198.0 1829.6,198.0" fill="none" stroke="#006400" stroke-width="1.2" stroke-dasharray="3 1"/>
<rect x="1625" y="53.7" width="200" height="1" fill="#606060"/>
<text x="1610" y="59" style="font-family:'Liberation Sans',sans-serif;font-size:11px" fill="#606060">S1</text>
<path d="M989.3,173.5 L1071.7,173.5 L1033.7,210.4Z" fill="#ff0000"/>
<polyline points="967.0,215.6 1029.0,215.6 1031.0,150.0 1039.0,157.8 1043.0,157.8 1153.9,157.8 1165.3,169.4 1181.6,180.8 1207.8,211.8 1227.3,238.0 1233.9,240.5 1423.0,241.5 1430.7,249.5 1434.0,251.0 1581.6,251.0 1600.0,279.0 1632.0,296.5 1759.0,297.0 1775.0,320.0 1784.0,333.0 1796.0,343.5 1826.6,343.5" fill="none" stroke="#a9a9a9" stroke-width="9" />
<path d="M1025,219 L1027.3,136 L1039,153.4 L1037,163 L1036.3,219Z" fill="#a9a9a9"/>
<circle cx="1040.2" cy="223.3" r="10" fill="#b0c4de" fill-opacity="0.85"/>
<circle cx="1240.8" cy="307.8" r="10" fill="#b0c4de" fill-opacity="0.85"/>
<circle cx="1435.4" cy="322.6" r="10" fill="#b0c4de" fill-opacity="0.85"/>
<circle cx="1641.0" cy="362.0" r="10" fill="#b0c4de" fill-opacity="0.85"/>
<circle cx="1644.0" cy="363.0" r="10" fill="#b0c4de" fill-opacity="0.85"/>
<circle cx="1753.0" cy="366.0" r="12" fill="#b0c4de" fill-opacity="0.85"/>
<circle cx="1758.4" cy="370.2" r="12" fill="#b0c4de" fill-opacity="0.85"/>
<circle cx="1763.7" cy="374.4" r="12" fill="#b0c4de" fill-opacity="0.85"/>
<circle cx="1769.1" cy="378.5" r="12" fill="#b0c4de" fill-opacity="0.85"/>
<circle cx="1774.5" cy="382.7" r="12" fill="#b0c4de" fill-opacity="0.85"/>
<circle cx="1779.8" cy="386.9" r="12" fill="#b0c4de" fill-opacity="0.85"/>
<circle cx="1785.2" cy="391.1" r="12" fill="#b0c4de" fill-opacity="0.85"/>
<circle cx="1790.5" cy="395.3" r="12" fill="#b0c4de" fill-opacity="0.85"/>
<circle cx="1795.9" cy="399.5" r="12" fill="#b0c4de" fill-opacity="0.85"/>
<circle cx="1801.3" cy="403.6" r="12" fill="#b0c4de" fill-opacity="0.85"/>
<circle cx="1806.6" cy="407.8" r="12" fill="#b0c4de" fill-opacity="0.85"/>
<circle cx="1812.0" cy="412.0" r="12" fill="#b0c4de" fill-opacity="0.85"/>
<circle cx="1108.2" cy="166.1" r="10" fill="#f08080" fill-opacity="0.8"/>
<circle cx="1327.9" cy="266.6" r="10" fill="#f08080" fill-opacity="0.8"/>
<circle cx="1513.2" cy="267.2" r="10" fill="#f08080" fill-opacity="0.8"/>
<path d="M967.5,312.5 L969.5,309.5 L971.5,312.5 L973.5,309.5 L975.5,312.5 L977.5,309.5 L979.5,312.5 L981.5,309.5 L983.5,312.5 L985.5,309.5 L987.5,312.5 L989.5,309.5 L991.5,312.5 L993.5,309.5 L995.5,312.5 L997.5,309.5 L999.5,312.5 L1001.5,309.5 L1003.5,312.5 L1005.5,309.5 L1007.5,312.5 L1009.5,309.5 L1011.5,312.5 L1013.5,309.5 L1015.5,312.5 L1017.5,309.5 L1019.5,312.5 L1021.5,309.5 L1023.5,312.5 L1025.5,309.5 L1027.5,312.5 L1029.5,309.5 L1031.5,312.5 L1033.5,309.5 L1035.5,312.5 L1037.5,309.5 L1039.5,312.5 L1041.5,309.5 L1043.5,312.5 L1045.5,309.5 L1047.5,312.5 L1049.5,309.5 L1051.5,312.5 L1053.5,309.5 L1055.5,312.5 L1057.5,309.5 L1059.5,312.5 L1061.5,309.5 L1063.5,312.5 L1065.5,309.5 L1067.5,312.5 L1069.5,309.5 L1071.5,312.5 L1073.5,309.5 L1075.5,312.5 L1077.5,309.5 L1079.5,312.5 L1081.5,309.5 L1083.5,312.5 L1085.5,309.5 L1087.5,312.5 L1089.5,309.5 L1091.5,312.5 L1093.5,309.5 L1095.5,312.5 L1097.5,309.5 L1099.5,312.5 L1101.5,309.5 L1103.5,312.5 L1105.5,309.5 L1107.5,312.5 L1109.5,309.5 L1111.5,312.5 L1113.5,309.5 L1115.5,312.5 L1117.5,309.5 L1119.5,312.5 L1121.5,309.5 L1123.5,312.5 L1125.5,309.5 L1127.5,312.5 L1129.5,309.5 L1131.5,312.5 L1133.5,309.5 L1135.5,312.5 L1137.5,309.5 L1139.5,312.5 L1141.5,309.5 L1143.5,312.5 L1145.5,309.5 L1147.5,312.5 L1149.5,309.5 L1151.5,312.5 L1153.5,309.5 L1155.5,312.5 L1157.5,309.5 L1159.5,312.5 L1161.5,309.5 L1163.5,312.5 L1165.5,309.5 L1167.5,312.5 L1169.5,309.5 L1171.5,312.5 L1173.5,309.5 L1175.5,312.5 L1177.5,309.5 L1179.5,312.5 L1181.5,309.5 L1183.5,312.5 L1185.5,309.5 L1187.5,312.5 L1189.5,309.5 L1191.5,312.5 L1193.5,309.5 L1195.5,312.5 L1197.5,309.5 L1199.5,312.5 L1201.5,309.5 L1203.5,312.5 L1205.5,309.5 L1207.5,312.5 L1209.5,309.5 L1211.5,312.5 L1213.5,309.5 L1215.5,312.5 L1217.5,309.5 L1219.5,312.5 L1221.5,309.5 L1223.5,312.5 L1225.5,309.5 L1227.5,312.5 L1229.5,309.5 L1231.5,312.5 L1233.5,309.5 L1235.5,312.5 L1237.5,309.5 L1239.5,312.5 L1241.5,309.5 L1243.5,312.5 L1245.5,309.5 L1247.5,312.5 L1249.5,309.5 L1251.5,312.5 L1253.5,309.5 L1255.5,312.5 L1257.5,309.5 L1259.5,312.5 L1261.5,309.5 L1263.5,312.5 L1265.5,309.5 L1267.5,312.5 L1269.5,309.5 L1271.5,312.5 L1273.5,309.5 L1275.5,312.5 L1277.5,309.5 L1279.5,312.5 L1281.5,309.5 L1283.5,312.5 L1285.5,309.5 L1287.5,312.5 L1289.5,309.5 L1291.5,312.5 L1293.5,309.5 L1295.5,312.5 L1297.5,309.5 L1299.5,312.5 L1301.5,309.5 L1303.5,312.5 L1305.5,309.5 L1307.5,312.5 L1309.5,309.5 L1311.5,312.5 L1313.5,309.5 L1315.5,312.5 L1317.5,309.5 L1319.5,312.5 L1321.5,309.5 L1323.5,312.5 L1325.5,309.5 L1327.5,312.5 L1329.5,309.5 L1331.5,312.5 L1333.5,309.5 L1335.5,312.5 L1337.5,309.5 L1339.5,312.5 L1341.5,309.5 L1343.5,312.5 L1345.5,309.5 L1347.5,312.5 L1349.5,309.5 L1351.5,312.5 L1353.5,309.5 L1355.5,312.5 L1357.5,309.5 L1359.5,312.5 L1361.5,309.5 L1363.5,312.5 L1365.5,309.5 L1367.5,312.5 L1369.5,309.5 L1371.5,312.5 L1373.5,309.5 L1375.5,312.5 L1377.5,309.5 L1379.5,312.5 L1381.5,309.5 L1383.5,312.5 L1385.5,309.5 L1387.5,312.5 L1389.5,309.5 L1391.5,312.5 L1393.5,309.5 L1395.5,312.5 L1397.5,309.5 L1399.5,312.5 L1401.5,309.5 L1403.5,312.5 L1405.5,309.5 L1407.5,312.5 L1409.5,309.5 L1411.5,312.5 L1413.5,309.5 L1415.5,312.5 L1417.5,309.5 L1419.5,312.5 L1421.5,309.5 L1423.5,312.5 L1425.5,309.5 L1427.5,312.5 L1429.5,309.5 L1431.5,312.5 L1433.5,309.5 L1435.5,312.5 L1437.5,309.5 L1439.5,312.5 L1441.5,309.5 L1443.5,312.5 L1445.5,309.5 L1447.5,312.5 L1449.5,309.5 L1451.5,312.5 L1453.5,309.5 L1455.5,312.5 L1457.5,309.5 L1459.5,312.5 L1461.5,309.5 L1463.5,312.5 L1465.5,309.5 L1467.5,312.5 L1469.5,309.5 L1471.5,312.5 L1473.5,309.5 L1475.5,312.5 L1477.5,309.5 L1479.5,312.5 L1481.5,309.5 L1483.5,312.5 L1485.5,309.5 L1487.5,312.5 L1489.5,309.5 L1491.5,312.5 L1493.5,309.5 L1495.5,312.5 L1497.5,309.5 L1499.5,312.5 L1501.5,309.5 L1503.5,312.5 L1505.5,309.5 L1507.5,312.5 L1509.5,309.5 L1511.5,312.5 L1513.5,309.5 L1515.5,312.5 L1517.5,309.5 L1519.5,312.5 L1521.5,309.5 L1523.5,312.5 L1525.5,309.5 L1527.5,312.5 L1529.5,309.5 L1531.5,312.5 L1533.5,309.5 L1535.5,312.5 L1537.5,309.5 L1539.5,312.5 L1541.5,309.5 L1543.5,312.5 L1545.5,309.5 L1547.5,312.5 L1549.5,309.5 L1551.5,312.5 L1553.5,309.5 L1555.5,312.5 L1557.5,309.5 L1559.5,312.5 L1561.5,309.5 L1563.5,312.5 L1565.5,309.5 L1567.5,312.5 L1569.5,309.5 L1571.5,312.5 L1573.5,309.5 L1575.5,312.5 L1577.5,309.5 L1579.5,312.5 L1581.5,309.5 L1583.5,312.5 L1585.5,309.5 L1587.5,312.5 L1589.5,309.5 L1591.5,312.5 L1593.5,309.5 L1595.5,312.5 L1597.5,309.5 L1599.5,312.5 L1601.5,309.5 L1603.5,312.5 L1605.5,309.5 L1607.5,312.5 L1609.5,309.5 L1611.5,312.5 L1613.5,309.5 L1615.5,312.5 L1617.5,309.5 L1619.5,312.5 L1621.5,309.5 L1623.5,312.5 L1625.5,309.5 L1627.5,312.5 L1629.5,309.5 L1631.5,312.5 L1633.5,309.5 L1635.5,312.5 L1637.5,309.5 L1639.5,312.5 L1641.5,309.5 L1643.5,312.5 L1645.5,309.5 L1647.5,312.5 L1649.5,309.5 L1651.5,312.5 L1653.5,309.5 L1655.5,312.5 L1657.5,309.5 L1659.5,312.5 L1661.5,309.5 L1663.5,312.5 L1665.5,309.5 L1667.5,312.5 L1669.5,309.5 L1671.5,312.5 L1673.5,309.5 L1675.5,312.5 L1677.5,309.5 L1679.5,312.5 L1681.5,309.5 L1683.5,312.5 L1685.5,309.5 L1687.5,312.5 L1689.5,309.5 L1691.5,312.5 L1693.5,309.5 L1695.5,312.5 L1697.5,309.5 L1699.5,312.5 L1701.5,309.5 L1703.5,312.5 L1705.5,309.5 L1707.5,312.5 L1709.5,309.5 L1711.5,312.5 L1713.5,309.5 L1715.5,312.5 L1717.5,309.5 L1719.5,312.5 L1721.5,309.5 L1723.5,312.5 L1725.5,309.5 L1727.5,312.5 L1729.5,309.5 L1731.5,312.5 L1733.5,309.5 L1735.5,312.5 L1737.5,309.5 L1739.5,312.5 L1741.5,309.5 L1743.5,312.5 L1745.5,309.5 L1747.5,312.5 L1749.5,309.5 L1751.5,312.5 L1753.5,309.5 L1755.5,312.5 L1757.5,309.5 L1759.5,312.5 L1761.5,309.5 L1763.5,312.5 L1765.5,309.5 L1767.5,312.5 L1769.5,309.5 L1771.5,312.5 L1773.5,309.5 L1775.5,312.5 L1777.5,309.5 L1779.5,312.5 L1781.5,309.5 L1783.5,312.5 L1785.5,309.5 L1787.5,312.5 L1789.5,309.5 L1791.5,312.5 L1793.5,309.5 L1795.5,312.5 L1797.5,309.5 L1799.5,312.5 L1801.5,309.5 L1803.5,312.5 L1805.5,309.5 L1807.5,312.5 L1809.5,309.5 L1811.5,312.5 L1813.5,309.5 L1815.5,312.5 L1817.5,309.5 L1819.5,312.5 L1821.5,309.5 L1823.5,312.5 L1825.5,309.5 L1827.5,312.5 L1829.5,309.5 L1831.5,312.5 L1831.5,313.8 L967.5,313.8 Z" fill="#1a8a1a"/>
<rect x="965.2" y="138.8" width="48.6" height="4.6" fill="#000"/>
<rect x="1041.4" y="223.3" width="48.4" height="4.6" fill="#000"/>
<rect x="1109" y="168.1" width="48.1" height="4.6" fill="#000"/>
<rect x="1245.2" y="305.0" width="48.3" height="4.6" fill="#000"/>
<rect x="1329" y="265.9" width="48.4" height="4.6" fill="#000"/>
<rect x="1437.3" y="321.0" width="47.7" height="4.6" fill="#000"/>
<rect x="1641.3" y="359.7" width="48.4" height="4.6" fill="#000"/>
<rect x="1817.5" y="410.5" width="43.5" height="4.6" fill="#000"/>
<rect x="969.0" y="152.0" width="1" height="13.0" fill="#000"/><rect x="968.5" y="152.5" width="2" height="7.0" fill="#ff0000" stroke="#000" stroke-width="1"/>
<rect x="973.0" y="156.0" width="1" height="13.0" fill="#000"/><rect x="972.5" y="156.5" width="2" height="7.0" fill="#ff0000" stroke="#000" stroke-width="1"/>
<rect x="977.0" y="159.0" width="1" height="13.0" fill="#000"/><rect x="976.5" y="159.5" width="2" height="7.0" fill="#ff0000" stroke="#000" stroke-width="1"/>
<rect x="981.0" y="163.0" width="1" height="13.0" fill="#000"/><rect x="980.5" y="163.5" width="2" height="7.0" fill="#ff0000" stroke="#000" stroke-width="1"/>
<rect x="985.0" y="166.0" width="1" height="13.0" fill="#000"/><rect x="984.5" y="166.5" width="2" height="7.0" fill="#ff0000" stroke="#000" stroke-width="1"/>
<rect x="989.0" y="170.0" width="1" height="13.0" fill="#000"/><rect x="988.5" y="170.5" width="2" height="7.0" fill="#ff0000" stroke="#000" stroke-width="1"/>
<rect x="993.0" y="173.0" width="1" height="13.0" fill="#000"/><rect x="992.5" y="173.5" width="2" height="7.0" fill="#ff0000" stroke="#000" stroke-width="1"/>
<rect x="997.0" y="177.0" width="1" height="13.0" fill="#000"/><rect x="996.5" y="177.5" width="2" height="7.0" fill="#ff0000" stroke="#000" stroke-width="1"/>
<rect x="1000.0" y="182.0" width="3" height="3.0" fill="#0000ff"/><rect x="1001.0" y="176.0" width="1" height="14.0" fill="#000"/>
<rect x="1005.0" y="183.0" width="1" height="13.0" fill="#000"/><rect x="1004.5" y="183.5" width="2" height="7.0" fill="#ff0000" stroke="#000" stroke-width="1"/>
<rect x="1009.0" y="186.0" width="1" height="13.0" fill="#000"/><rect x="1008.5" y="186.5" width="2" height="7.0" fill="#ff0000" stroke="#000" stroke-width="1"/>
<rect x="1013.0" y="190.0" width="1" height="13.0" fill="#000"/><rect x="1012.5" y="190.5" width="2" height="7.0" fill="#ff0000" stroke="#000" stroke-width="1"/>
<rect x="1017.0" y="193.0" width="1" height="13.0" fill="#000"/><rect x="1016.5" y="193.5" width="2" height="7.0" fill="#ff0000" stroke="#000" stroke-width="1"/>
<rect x="1021.0" y="197.0" width="1" height="13.0" fill="#000"/><rect x="1020.5" y="197.5" width="2" height="7.0" fill="#ff0000" stroke="#000" stroke-width="1"/>
<rect x="1025.0" y="200.0" width="1" height="13.0" fill="#000"/><rect x="1024.5" y="200.5" width="2" height="7.0" fill="#ff0000" stroke="#000" stroke-width="1"/>
<rect x="1029.0" y="204.0" width="1" height="13.0" fill="#000"/><rect x="1028.5" y="204.5" width="2" height="7.0" fill="#ff0000" stroke="#000" stroke-width="1"/>
<rect x="1033.0" y="208.0" width="1" height="12.0" fill="#000"/><rect x="1032.5" y="208.5" width="2" height="7.0" fill="#ff0000" stroke="#000" stroke-width="1"/>
<rect x="1037.0" y="212.0" width="1" height="13.0" fill="#000"/><rect x="1036.5" y="212.5" width="2" height="7.0" fill="#ff0000" stroke="#000" stroke-width="1"/>
<rect x="1040.0" y="214.0" width="3" height="2.0" fill="#0000ff"/><rect x="1041.0" y="208.0" width="1" height="14.0" fill="#000"/>
<rect x="1045.0" y="202.0" width="1" height="14.0" fill="#000"/><rect x="1044.5" y="208.5" width="2" height="7.0" fill="#90ee90" stroke="#000" stroke-width="1"/>
<rect x="1049.0" y="200.0" width="1" height="13.0" fill="#000"/><rect x="1048.5" y="205.5" width="2" height="7.0" fill="#90ee90" stroke="#000" stroke-width="1"/>
<rect x="1053.0" y="195.0" width="1" height="13.0" fill="#000"/><rect x="1052.5" y="200.5" width="2" height="7.0" fill="#90ee90" stroke="#000" stroke-width="1"/>
<rect x="1057.0" y="192.0" width="1" height="13.0" fill="#000"/><rect x="1056.5" y="197.5" width="2" height="7.0" fill="#90ee90" stroke="#000" stroke-width="1"/>
<rect x="1061.0" y="188.0" width="1" height="13.0" fill="#000"/><rect x="1060.5" y="193.5" width="2" height="7.0" fill="#90ee90" stroke="#000" stroke-width="1"/>
<rect x="1065.0" y="184.0" width="1" height="13.0" fill="#000"/><rect x="1064.5" y="189.5" width="2" height="7.0" fill="#90ee90" stroke="#000" stroke-width="1"/>
<rect x="1068.0" y="194.0" width="3" height="2.0" fill="#0000ff"/><rect x="1069.0" y="188.0" width="1" height="14.0" fill="#000"/>
<rect x="1073.0" y="194.0" width="1" height="14.0" fill="#000"/><rect x="1072.5" y="194.5" width="2" height="7.0" fill="#ff0000" stroke="#000" stroke-width="1"/>
<rect x="1077.0" y="198.0" width="1" height="13.0" fill="#000"/><rect x="1076.5" y="198.5" width="2" height="7.0" fill="#ff0000" stroke="#000" stroke-width="1"/>
<rect x="1080.0" y="200.0" width="3" height="2.0" fill="#0000ff"/><rect x="1081.0" y="194.0" width="1" height="14.0" fill="#000"/>
<rect x="1085.0" y="188.0" width="1" height="13.0" fill="#000"/><rect x="1084.5" y="193.5" width="2" height="7.0" fill="#90ee90" stroke="#000" stroke-width="1"/>
<rect x="1089.0" y="185.0" width="1" height="13.0" fill="#000"/><rect x="1088.5" y="190.5" width="2" height="7.0" fill="#90ee90" stroke="#000" stroke-width="1"/>
<rect x="1093.0" y="181.0" width="1" height="13.0" fill="#000"/><rect x="1092.5" y="186.5" width="2" height="7.0" fill="#90ee90" stroke="#000" stroke-width="1"/>
<rect x="1097.0" y="178.0" width="1" height="13.0" fill="#000"/><rect x="1096.5" y="183.5" width="2" height="7.0" fill="#90ee90" stroke="#000" stroke-width="1"/>
<rect x="1101.0" y="174.0" width="1" height="13.0" fill="#000"/><rect x="1100.5" y="179.5" width="2" height="7.0" fill="#90ee90" stroke="#000" stroke-width="1"/>
<rect x="1105.0" y="171.0" width="1" height="13.0" fill="#000"/><rect x="1104.5" y="176.5" width="2" height="7.0" fill="#90ee90" stroke="#000" stroke-width="1"/>
<rect x="1108.0" y="179.0" width="3" height="3.0" fill="#0000ff"/><rect x="1109.0" y="174.0" width="1" height="14.0" fill="#000"/>
<rect x="1113.0" y="179.0" width="1" height="13.0" fill="#000"/><rect x="1112.5" y="179.5" width="2" height="7.0" fill="#ff0000" stroke="#000" stroke-width="1"/>
<rect x="1117.0" y="183.0" width="1" height="13.0" fill="#000"/><rect x="1116.5" y="183.5" width="2" height="7.0" fill="#ff0000" stroke="#000" stroke-width="1"/>
<rect x="1121.0" y="187.0" width="1" height="13.0" fill="#000"/><rect x="1120.5" y="187.5" width="2" height="7.0" fill="#ff0000" stroke="#000" stroke-width="1"/>
<rect x="1125.0" y="191.0" width="1" height="13.0" fill="#000"/><rect x="1124.5" y="191.5" width="2" height="7.0" fill="#ff0000" stroke="#000" stroke-width="1"/>
<rect x="1129.0" y="193.0" width="1" height="13.0" fill="#000"/><rect x="1128.5" y="193.5" width="2" height="7.0" fill="#ff0000" stroke="#000" stroke-width="1"/>
<rect x="1133.0" y="197.0" width="1" height="13.0" fill="#000"/><rect x="1132.5" y="197.5" width="2" height="7.0" fill="#ff0000" stroke="#000" stroke-width="1"/>
<rect x="1137.0" y="201.0" width="1" height="13.0" fill="#000"/><rect x="1136.5" y="201.5" width="2" height="7.0" fill="#ff0000" stroke="#000" stroke-width="1"/>
<rect x="1141.0" y="203.0" width="1" height="13.0" fill="#000"/><rect x="1140.5" y="203.5" width="2" height="7.0" fill="#ff0000" stroke="#000" stroke-width="1"/>
<rect x="1145.0" y="207.0" width="1" height="13.0" fill="#000"/><rect x="1144.5" y="207.5" width="2" height="7.0" fill="#ff0000" stroke="#000" stroke-width="1"/>
<rect x="1149.0" y="212.0" width="1" height="13.0" fill="#000"/><rect x="1148.5" y="212.5" width="2" height="7.0" fill="#ff0000" stroke="#000" stroke-width="1"/>
<rect x="1153.0" y="216.0" width="1" height="13.0" fill="#000"/><rect x="1152.5" y="216.5" width="2" height="7.0" fill="#ff0000" stroke="#000" stroke-width="1"/>
<rect x="1157.0" y="220.0" width="1" height="13.0" fill="#000"/><rect x="1156.5" y="220.5" width="2" height="7.0" fill="#ff0000" stroke="#000" stroke-width="1"/>
<rect x="1161.0" y="223.0" width="1" height="13.0" fill="#000"/><rect x="1160.5" y="223.5" width="2" height="7.0" fill="#ff0000" stroke="#000" stroke-width="1"/>
<rect x="1165.0" y="225.0" width="1" height="13.0" fill="#000"/><rect x="1164.5" y="225.5" width="2" height="7.0" fill="#ff0000" stroke="#000" stroke-width="1"/>
<rect x="1169.0" y="230.0" width="1" height="12.0" fill="#000"/><rect x="1168.5" y="230.5" width="2" height="7.0" fill="#ff0000" stroke="#000" stroke-width="1"/>
<rect x="1173.0" y="234.0" width="1" height="13.0" fill="#000"/><rect x="1172.5" y="234.5" width="2" height="7.0" fill="#ff0000" stroke="#000" stroke-width="1"/>
<rect x="1177.0" y="239.0" width="1" height="13.0" fill="#000"/><rect x="1176.5" y="239.5" width="2" height="7.0" fill="#ff0000" stroke="#000" stroke-width="1"/>
<rect x="1181.0" y="240.0" width="1" height="12.0" fill="#000"/><rect x="1180.5" y="240.5" width="2" height="7.0" fill="#ff0000" stroke="#000" stroke-width="1"/>
<rect x="1185.0" y="244.0" width="1" height="13.0" fill="#000"/><rect x="1184.5" y="244.5" width="2" height="7.0" fill="#ff0000" stroke="#000" stroke-width="1"/>
<rect x="1189.0" y="249.0" width="1" height="13.0" fill="#000"/><rect x="1188.5" y="249.5" width="2" height="7.0" fill="#ff0000" stroke="#000" stroke-width="1"/>
<rect x="1193.0" y="253.0" width="1" height="13.0" fill="#000"/><rect x="1192.5" y="253.5" width="2" height="7.0" fill="#ff0000" stroke="#000" stroke-width="1"/>
<rect x="1197.0" y="256.0" width="1" height="13.0" fill="#000"/><rect x="1196.5" y="256.5" width="2" height="7.0" fill="#ff0000" stroke="#000" stroke-width="1"/>
<rect x="1201.0" y="260.0" width="1" height="13.0" fill="#000"/><rect x="1200.5" y="260.5" width="2" height="7.0" fill="#ff0000" stroke="#000" stroke-width="1"/>
<rect x="1205.0" y="262.0" width="1" height="14.0" fill="#000"/><rect x="1204.5" y="262.5" width="2" height="7.0" fill="#ff0000" stroke="#000" stroke-width="1"/>
<rect x="1209.0" y="267.0" width="1" height="13.0" fill="#000"/><rect x="1208.5" y="267.5" width="2" height="7.0" fill="#ff0000" stroke="#000" stroke-width="1"/>
<rect x="1213.0" y="271.0" width="1" height="13.0" fill="#000"/><rect x="1212.5" y="271.5" width="2" height="7.0" fill="#ff0000" stroke="#000" stroke-width="1"/>
<rect x="1217.0" y="274.0" width="1" height="13.0" fill="#000"/><rect x="1216.5" y="274.5" width="2" height="7.0" fill="#ff0000" stroke="#000" stroke-width="1"/>
<rect x="1221.0" y="278.0" width="1" height="12.0" fill="#000"/><rect x="1220.5" y="278.5" width="2" height="7.0" fill="#ff0000" stroke="#000" stroke-width="1"/>
<rect x="1225.0" y="282.0" width="1" height="13.0" fill="#000"/><rect x="1224.5" y="282.5" width="2" height="7.0" fill="#ff0000" stroke="#000" stroke-width="1"/>
<rect x="1229.0" y="285.0" width="1" height="13.0" fill="#000"/><rect x="1228.5" y="285.5" width="2" height="7.0" fill="#ff0000" stroke="#000" stroke-width="1"/>
<rect x="1233.0" y="287.0" width="1" height="13.0" fill="#000"/><rect x="1232.5" y="287.5" width="2" height="7.0" fill="#ff0000" stroke="#000" stroke-width="1"/>
<rect x="1237.0" y="291.0" width="1" height="13.0" fill="#000"/><rect x="1236.5" y="291.5" width="2" height="7.0" fill="#ff0000" stroke="#000" stroke-width="1"/>
<rect x="1241.0" y="295.0" width="1" height="13.0" fill="#000"/><rect x="1240.5" y="295.5" width="2" height="7.0" fill="#ff0000" stroke="#000" stroke-width="1"/>
<rect x="1244.0" y="297.0" width="3" height="3.0" fill="#0000ff"/><rect x="1245.0" y="291.0" width="1" height="14.0" fill="#000"/>
<rect x="1249.0" y="286.0" width="1" height="14.0" fill="#000"/><rect x="1248.5" y="292.5" width="2" height="7.0" fill="#90ee90" stroke="#000" stroke-width="1"/>
<rect x="1253.0" y="282.0" width="1" height="13.0" fill="#000"/><rect x="1252.5" y="287.5" width="2" height="7.0" fill="#90ee90" stroke="#000" stroke-width="1"/>
<rect x="1257.0" y="280.0" width="1" height="13.0" fill="#000"/><rect x="1256.5" y="285.5" width="2" height="7.0" fill="#90ee90" stroke="#000" stroke-width="1"/>
<rect x="1261.0" y="275.0" width="1" height="13.0" fill="#000"/><rect x="1260.5" y="280.5" width="2" height="7.0" fill="#90ee90" stroke="#000" stroke-width="1"/>
<rect x="1265.0" y="273.0" width="1" height="13.0" fill="#000"/><rect x="1264.5" y="278.5" width="2" height="7.0" fill="#90ee90" stroke="#000" stroke-width="1"/>
<rect x="1268.0" y="282.0" width="3" height="3.0" fill="#0000ff"/><rect x="1269.0" y="276.0" width="1" height="14.0" fill="#000"/>
<rect x="1273.0" y="282.0" width="1" height="12.0" fill="#000"/><rect x="1272.5" y="282.5" width="2" height="7.0" fill="#ff0000" stroke="#000" stroke-width="1"/>
<rect x="1277.0" y="285.0" width="1" height="13.0" fill="#000"/><rect x="1276.5" y="285.5" width="2" height="7.0" fill="#ff0000" stroke="#000" stroke-width="1"/>
<rect x="1281.0" y="287.0" width="1" height="13.0" fill="#000"/><rect x="1280.5" y="287.5" width="2" height="7.0" fill="#ff0000" stroke="#000" stroke-width="1"/>
<rect x="1284.0" y="290.0" width="3" height="3.0" fill="#0000ff"/><rect x="1285.0" y="284.0" width="1" height="14.0" fill="#000"/>
<rect x="1289.0" y="279.0" width="1" height="13.0" fill="#000"/><rect x="1288.5" y="284.5" width="2" height="7.0" fill="#90ee90" stroke="#000" stroke-width="1"/>
<rect x="1292.0" y="288.0" width="3" height="2.0" fill="#0000ff"/><rect x="1293.0" y="282.0" width="1" height="14.0" fill="#000"/>
<rect x="1297.0" y="287.0" width="1" height="13.0" fill="#000"/><rect x="1296.5" y="287.5" width="2" height="7.0" fill="#ff0000" stroke="#000" stroke-width="1"/>
<rect x="1300.0" y="290.0" width="3" height="4.0" fill="#0000ff"/><rect x="1301.0" y="285.0" width="1" height="14.0" fill="#000"/>
<rect x="1304.0" y="290.0" width="3" height="4.0" fill="#0000ff"/><rect x="1305.0" y="285.0" width="1" height="14.0" fill="#000"/>
<rect x="1308.0" y="290.0" width="3" height="3.0" fill="#0000ff"/><rect x="1309.0" y="284.0" width="1" height="14.0" fill="#000"/>
<rect x="1313.0" y="279.0" width="1" height="13.0" fill="#000"/><rect x="1312.5" y="284.5" width="2" height="7.0" fill="#90ee90" stroke="#000" stroke-width="1"/>
<rect x="1317.0" y="275.0" width="1" height="13.0" fill="#000"/><rect x="1316.5" y="280.5" width="2" height="7.0" fill="#90ee90" stroke="#000" stroke-width="1"/>
<rect x="1321.0" y="272.0" width="1" height="13.0" fill="#000"/><rect x="1320.5" y="277.5" width="2" height="7.0" fill="#90ee90" stroke="#000" stroke-width="1"/>
<rect x="1325.0" y="267.0" width="1" height="13.0" fill="#000"/><rect x="1324.5" y="272.5" width="2" height="7.0" fill="#90ee90" stroke="#000" stroke-width="1"/>
<rect x="1328.0" y="275.0" width="3" height="3.0" fill="#0000ff"/><rect x="1329.0" y="270.0" width="1" height="14.0" fill="#000"/>
<rect x="1333.0" y="276.0" width="1" height="12.0" fill="#000"/><rect x="1332.5" y="276.5" width="2" height="7.0" fill="#ff0000" stroke="#000" stroke-width="1"/>
<rect x="1337.0" y="280.0" width="1" height="13.0" fill="#000"/><rect x="1336.5" y="280.5" width="2" height="7.0" fill="#ff0000" stroke="#000" stroke-width="1"/>
<rect x="1341.0" y="284.0" width="1" height="13.0" fill="#000"/><rect x="1340.5" y="284.5" width="2" height="7.0" fill="#ff0000" stroke="#000" stroke-width="1"/>
<rect x="1344.0" y="286.0" width="3" height="2.0" fill="#0000ff"/><rect x="1345.0" y="280.0" width="1" height="14.0" fill="#000"/>
<rect x="1349.0" y="275.0" width="1" height="13.0" fill="#000"/><rect x="1348.5" y="280.5" width="2" height="7.0" fill="#90ee90" stroke="#000" stroke-width="1"/>
<rect x="1352.0" y="283.0" width="3" height="3.0" fill="#0000ff"/><rect x="1353.0" y="277.0" width="1" height="14.0" fill="#000"/>
<rect x="1357.0" y="284.0" width="1" height="13.0" fill="#000"/><rect x="1356.5" y="284.5" width="2" height="7.0" fill="#ff0000" stroke="#000" stroke-width="1"/>
<rect x="1361.0" y="286.0" width="1" height="13.0" fill="#000"/><rect x="1360.5" y="286.5" width="2" height="7.0" fill="#ff0000" stroke="#000" stroke-width="1"/>
<rect x="1365.0" y="290.0" width="1" height="13.0" fill="#000"/><rect x="1364.5" y="290.5" width="2" height="7.0" fill="#ff0000" stroke="#000" stroke-width="1"/>
<rect x="1369.0" y="293.0" width="1" height="13.0" fill="#000"/><rect x="1368.5" y="293.5" width="2" height="7.0" fill="#ff0000" stroke="#000" stroke-width="1"/>
<rect x="1373.0" y="298.0" width="1" height="13.0" fill="#000"/><rect x="1372.5" y="298.5" width="2" height="7.0" fill="#ff0000" stroke="#000" stroke-width="1"/>
<rect x="1377.0" y="302.0" width="1" height="12.0" fill="#000"/><rect x="1376.5" y="302.5" width="2" height="7.0" fill="#ff0000" stroke="#000" stroke-width="1"/>
<rect x="1380.0" y="304.0" width="3" height="3.0" fill="#0000ff"/><rect x="1381.0" y="299.0" width="1" height="14.0" fill="#000"/>
<rect x="1384.0" y="304.0" width="3" height="3.0" fill="#0000ff"/><rect x="1385.0" y="299.0" width="1" height="14.0" fill="#000"/>
<rect x="1388.0" y="304.0" width="3" height="3.0" fill="#0000ff"/><rect x="1389.0" y="298.0" width="1" height="14.0" fill="#000"/>
<rect x="1393.0" y="293.0" width="1" height="13.0" fill="#000"/><rect x="1392.5" y="298.5" width="2" height="7.0" fill="#90ee90" stroke="#000" stroke-width="1"/>
<rect x="1397.0" y="289.0" width="1" height="13.0" fill="#000"/><rect x="1396.5" y="294.5" width="2" height="7.0" fill="#90ee90" stroke="#000" stroke-width="1"/>
<rect x="1401.0" y="286.0" width="1" height="14.0" fill="#000"/><rect x="1400.5" y="292.5" width="2" height="7.0" fill="#90ee90" stroke="#000" stroke-width="1"/>
<rect x="1404.0" y="295.0" width="3" height="3.0" fill="#0000ff"/><rect x="1405.0" y="290.0" width="1" height="14.0" fill="#000"/>
<rect x="1409.0" y="294.0" width="1" height="13.0" fill="#000"/><rect x="1408.5" y="294.5" width="2" height="7.0" fill="#ff0000" stroke="#000" stroke-width="1"/>
<rect x="1412.0" y="296.0" width="3" height="3.0" fill="#0000ff"/><rect x="1413.0" y="291.0" width="1" height="14.0" fill="#000"/>
<rect x="1416.0" y="298.0" width="3" height="2.0" fill="#0000ff"/><rect x="1417.0" y="292.0" width="1" height="14.0" fill="#000"/>
<rect x="1421.0" y="298.0" width="1" height="14.0" fill="#000"/><rect x="1420.5" y="298.5" width="2" height="7.0" fill="#ff0000" stroke="#000" stroke-width="1"/>
<rect x="1425.0" y="301.0" width="1" height="13.0" fill="#000"/><rect x="1424.5" y="301.5" width="2" height="7.0" fill="#ff0000" stroke="#000" stroke-width="1"/>
<rect x="1429.0" y="306.0" width="1" height="13.0" fill="#000"/><rect x="1428.5" y="306.5" width="2" height="7.0" fill="#ff0000" stroke="#000" stroke-width="1"/>
<rect x="1433.0" y="310.0" width="1" height="13.0" fill="#000"/><rect x="1432.5" y="310.5" width="2" height="7.0" fill="#ff0000" stroke="#000" stroke-width="1"/>
<rect x="1436.0" y="313.0" width="3" height="3.0" fill="#0000ff"/><rect x="1437.0" y="307.0" width="1" height="14.0" fill="#000"/>
<rect x="1441.0" y="301.0" width="1" height="13.0" fill="#000"/><rect x="1440.5" y="306.5" width="2" height="7.0" fill="#90ee90" stroke="#000" stroke-width="1"/>
<rect x="1445.0" y="296.0" width="1" height="13.0" fill="#000"/><rect x="1444.5" y="301.5" width="2" height="7.0" fill="#90ee90" stroke="#000" stroke-width="1"/>
<rect x="1448.0" y="304.0" width="3" height="2.0" fill="#0000ff"/><rect x="1449.0" y="298.0" width="1" height="14.0" fill="#000"/>
<rect x="1453.0" y="291.0" width="1" height="13.0" fill="#000"/><rect x="1452.5" y="296.5" width="2" height="7.0" fill="#90ee90" stroke="#000" stroke-width="1"/>
<rect x="1457.0" y="289.0" width="1" height="13.0" fill="#000"/><rect x="1456.5" y="294.5" width="2" height="7.0" fill="#90ee90" stroke="#000" stroke-width="1"/>
<rect x="1460.0" y="294.0" width="3" height="4.0" fill="#0000ff"/><rect x="1461.0" y="289.0" width="1" height="14.0" fill="#000"/>
<rect x="1465.0" y="294.0" width="1" height="13.0" fill="#000"/><rect x="1464.5" y="294.5" width="2" height="7.0" fill="#ff0000" stroke="#000" stroke-width="1"/>
<rect x="1469.0" y="298.0" width="1" height="14.0" fill="#000"/><rect x="1468.5" y="298.5" width="2" height="7.0" fill="#ff0000" stroke="#000" stroke-width="1"/>
<rect x="1473.0" y="302.0" width="1" height="13.0" fill="#000"/><rect x="1472.5" y="302.5" width="2" height="7.0" fill="#ff0000" stroke="#000" stroke-width="1"/>
<rect x="1476.0" y="304.0" width="3" height="3.0" fill="#0000ff"/><rect x="1477.0" y="298.0" width="1" height="14.0" fill="#000"/>
<rect x="1481.0" y="294.0" width="1" height="12.0" fill="#000"/><rect x="1480.5" y="298.5" width="2" height="7.0" fill="#90ee90" stroke="#000" stroke-width="1"/>
<rect x="1485.0" y="289.0" width="1" height="13.0" fill="#000"/><rect x="1484.5" y="294.5" width="2" height="7.0" fill="#90ee90" stroke="#000" stroke-width="1"/>
<rect x="1489.0" y="285.0" width="1" height="13.0" fill="#000"/><rect x="1488.5" y="290.5" width="2" height="7.0" fill="#90ee90" stroke="#000" stroke-width="1"/>
<rect x="1493.0" y="282.0" width="1" height="13.0" fill="#000"/><rect x="1492.5" y="287.5" width="2" height="7.0" fill="#90ee90" stroke="#000" stroke-width="1"/>
<rect x="1497.0" y="277.0" width="1" height="13.0" fill="#000"/><rect x="1496.5" y="282.5" width="2" height="7.0" fill="#90ee90" stroke="#000" stroke-width="1"/>
<rect x="1501.0" y="274.0" width="1" height="12.0" fill="#000"/><rect x="1500.5" y="278.5" width="2" height="7.0" fill="#90ee90" stroke="#000" stroke-width="1"/>
<rect x="1505.0" y="270.0" width="1" height="13.0" fill="#000"/><rect x="1504.5" y="275.5" width="2" height="7.0" fill="#90ee90" stroke="#000" stroke-width="1"/>
<rect x="1509.0" y="268.0" width="1" height="13.0" fill="#000"/><rect x="1508.5" y="273.5" width="2" height="7.0" fill="#90ee90" stroke="#000" stroke-width="1"/>
<rect x="1512.0" y="275.0" width="3" height="3.0" fill="#0000ff"/><rect x="1513.0" y="270.0" width="1" height="14.0" fill="#000"/>
<rect x="1517.0" y="275.0" width="1" height="13.0" fill="#000"/><rect x="1516.5" y="275.5" width="2" height="7.0" fill="#ff0000" stroke="#000" stroke-width="1"/>
<rect x="1520.0" y="280.0" width="3" height="2.0" fill="#0000ff"/><rect x="1521.0" y="274.0" width="1" height="14.0" fill="#000"/>
<rect x="1524.0" y="280.0" width="3" height="4.0" fill="#0000ff"/><rect x="1525.0" y="275.0" width="1" height="14.0" fill="#000"/>
<rect x="1529.0" y="280.0" width="1" height="13.0" fill="#000"/><rect x="1528.5" y="280.5" width="2" height="7.0" fill="#ff0000" stroke="#000" stroke-width="1"/>
<rect x="1533.0" y="284.0" width="1" height="13.0" fill="#000"/><rect x="1532.5" y="284.5" width="2" height="7.0" fill="#ff0000" stroke="#000" stroke-width="1"/>
<rect x="1537.0" y="287.0" width="1" height="13.0" fill="#000"/><rect x="1536.5" y="287.5" width="2" height="7.0" fill="#ff0000" stroke="#000" stroke-width="1"/>
<rect x="1541.0" y="292.0" width="1" height="12.0" fill="#000"/><rect x="1540.5" y="292.5" width="2" height="7.0" fill="#ff0000" stroke="#000" stroke-width="1"/>
<rect x="1545.0" y="295.0" width="1" height="13.0" fill="#000"/><rect x="1544.5" y="295.5" width="2" height="7.0" fill="#ff0000" stroke="#000" stroke-width="1"/>
<rect x="1549.0" y="297.0" width="1" height="13.0" fill="#000"/><rect x="1548.5" y="297.5" width="2" height="7.0" fill="#ff0000" stroke="#000" stroke-width="1"/>
<rect x="1552.0" y="302.0" width="3" height="2.0" fill="#0000ff"/><rect x="1553.0" y="296.0" width="1" height="14.0" fill="#000"/>
<rect x="1556.0" y="302.0" width="3" height="3.0" fill="#0000ff"/><rect x="1557.0" y="297.0" width="1" height="14.0" fill="#000"/>
<rect x="1561.0" y="301.0" width="1" height="13.0" fill="#000"/><rect x="1560.5" y="301.5" width="2" height="7.0" fill="#ff0000" stroke="#000" stroke-width="1"/>
<rect x="1564.0" y="304.0" width="3" height="3.0" fill="#0000ff"/><rect x="1565.0" y="298.0" width="1" height="14.0" fill="#000"/>
<rect x="1569.0" y="294.0" width="1" height="12.0" fill="#000"/><rect x="1568.5" y="298.5" width="2" height="7.0" fill="#90ee90" stroke="#000" stroke-width="1"/>
<rect x="1572.0" y="302.0" width="3" height="3.0" fill="#0000ff"/><rect x="1573.0" y="297.0" width="1" height="14.0" fill="#000"/>
<rect x="1577.0" y="303.0" width="1" height="13.0" fill="#000"/><rect x="1576.5" y="303.5" width="2" height="7.0" fill="#ff0000" stroke="#000" stroke-width="1"/>
<rect x="1581.0" y="307.0" width="1" height="13.0" fill="#000"/><rect x="1580.5" y="307.5" width="2" height="7.0" fill="#ff0000" stroke="#000" stroke-width="1"/>
<rect x="1585.0" y="311.0" width="1" height="13.0" fill="#000"/><rect x="1584.5" y="311.5" width="2" height="7.0" fill="#ff0000" stroke="#000" stroke-width="1"/>
<rect x="1589.0" y="314.0" width="1" height="13.0" fill="#000"/><rect x="1588.5" y="314.5" width="2" height="7.0" fill="#ff0000" stroke="#000" stroke-width="1"/>
<rect x="1593.0" y="316.0" width="1" height="13.0" fill="#000"/><rect x="1592.5" y="316.5" width="2" height="7.0" fill="#ff0000" stroke="#000" stroke-width="1"/>
<rect x="1597.0" y="320.0" width="1" height="13.0" fill="#000"/><rect x="1596.5" y="320.5" width="2" height="7.0" fill="#ff0000" stroke="#000" stroke-width="1"/>
<rect x="1601.0" y="324.0" width="1" height="13.0" fill="#000"/><rect x="1600.5" y="324.5" width="2" height="7.0" fill="#ff0000" stroke="#000" stroke-width="1"/>
<rect x="1605.0" y="328.0" width="1" height="13.0" fill="#000"/><rect x="1604.5" y="328.5" width="2" height="7.0" fill="#ff0000" stroke="#000" stroke-width="1"/>
<rect x="1609.0" y="331.0" width="1" height="13.0" fill="#000"/><rect x="1608.5" y="331.5" width="2" height="7.0" fill="#ff0000" stroke="#000" stroke-width="1"/>
<rect x="1612.0" y="333.0" width="3" height="3.0" fill="#0000ff"/><rect x="1613.0" y="328.0" width="1" height="14.0" fill="#000"/>
<rect x="1616.0" y="333.0" width="3" height="3.0" fill="#0000ff"/><rect x="1617.0" y="328.0" width="1" height="14.0" fill="#000"/>
<rect x="1621.0" y="334.0" width="1" height="13.0" fill="#000"/><rect x="1620.5" y="334.5" width="2" height="7.0" fill="#ff0000" stroke="#000" stroke-width="1"/>
<rect x="1625.0" y="336.0" width="1" height="13.0" fill="#000"/><rect x="1624.5" y="336.5" width="2" height="7.0" fill="#ff0000" stroke="#000" stroke-width="1"/>
<rect x="1629.0" y="343.0" width="1" height="13.0" fill="#000"/><rect x="1628.5" y="343.5" width="2" height="7.0" fill="#ff0000" stroke="#000" stroke-width="1"/>
<rect x="1633.0" y="346.0" width="1" height="13.0" fill="#000"/><rect x="1632.5" y="346.5" width="2" height="7.0" fill="#ff0000" stroke="#000" stroke-width="1"/>
<rect x="1637.0" y="350.0" width="1" height="13.0" fill="#000"/><rect x="1636.5" y="350.5" width="2" height="7.0" fill="#ff0000" stroke="#000" stroke-width="1"/>
<rect x="1640.0" y="352.0" width="3" height="3.0" fill="#0000ff"/><rect x="1641.0" y="347.0" width="1" height="14.0" fill="#000"/>
<rect x="1645.0" y="341.0" width="1" height="13.0" fill="#000"/><rect x="1644.5" y="346.5" width="2" height="7.0" fill="#90ee90" stroke="#000" stroke-width="1"/>
<rect x="1649.0" y="337.0" width="1" height="13.0" fill="#000"/><rect x="1648.5" y="342.5" width="2" height="7.0" fill="#90ee90" stroke="#000" stroke-width="1"/>
<rect x="1653.0" y="332.0" width="1" height="13.0" fill="#000"/><rect x="1652.5" y="337.5" width="2" height="7.0" fill="#90ee90" stroke="#000" stroke-width="1"/>
<rect x="1657.0" y="329.0" width="1" height="13.0" fill="#000"/><rect x="1656.5" y="334.5" width="2" height="7.0" fill="#90ee90" stroke="#000" stroke-width="1"/>
<rect x="1660.0" y="339.0" width="3" height="3.0" fill="#0000ff"/><rect x="1661.0" y="333.0" width="1" height="14.0" fill="#000"/>
<rect x="1665.0" y="338.0" width="1" height="14.0" fill="#000"/><rect x="1664.5" y="338.5" width="2" height="7.0" fill="#ff0000" stroke="#000" stroke-width="1"/>
<rect x="1669.0" y="343.0" width="1" height="13.0" fill="#000"/><rect x="1668.5" y="343.5" width="2" height="7.0" fill="#ff0000" stroke="#000" stroke-width="1"/>
<rect x="1673.0" y="344.0" width="1" height="13.0" fill="#000"/><rect x="1672.5" y="344.5" width="2" height="7.0" fill="#ff0000" stroke="#000" stroke-width="1"/>
<rect x="1676.0" y="347.0" width="3" height="3.0" fill="#0000ff"/><rect x="1677.0" y="341.0" width="1" height="14.0" fill="#000"/>
<rect x="1681.0" y="335.0" width="1" height="13.0" fill="#000"/><rect x="1680.5" y="340.5" width="2" height="7.0" fill="#90ee90" stroke="#000" stroke-width="1"/>
<rect x="1685.0" y="333.0" width="1" height="13.0" fill="#000"/><rect x="1684.5" y="338.5" width="2" height="7.0" fill="#90ee90" stroke="#000" stroke-width="1"/>
<rect x="1689.0" y="329.0" width="1" height="13.0" fill="#000"/><rect x="1688.5" y="334.5" width="2" height="7.0" fill="#90ee90" stroke="#000" stroke-width="1"/>
<rect x="1693.0" y="325.0" width="1" height="13.0" fill="#000"/><rect x="1692.5" y="330.5" width="2" height="7.0" fill="#90ee90" stroke="#000" stroke-width="1"/>
<rect x="1696.0" y="333.0" width="3" height="3.0" fill="#0000ff"/><rect x="1697.0" y="327.0" width="1" height="14.0" fill="#000"/>
<rect x="1701.0" y="334.0" width="1" height="13.0" fill="#000"/><rect x="1700.5" y="334.5" width="2" height="7.0" fill="#ff0000" stroke="#000" stroke-width="1"/>
<rect x="1705.0" y="338.0" width="1" height="14.0" fill="#000"/><rect x="1704.5" y="338.5" width="2" height="7.0" fill="#ff0000" stroke="#000" stroke-width="1"/>
<rect x="1709.0" y="342.0" width="1" height="13.0" fill="#000"/><rect x="1708.5" y="342.5" width="2" height="7.0" fill="#ff0000" stroke="#000" stroke-width="1"/>
<rect x="1713.0" y="346.0" width="1" height="13.0" fill="#000"/><rect x="1712.5" y="346.5" width="2" height="7.0" fill="#ff0000" stroke="#000" stroke-width="1"/>
<rect x="1717.0" y="349.0" width="1" height="13.0" fill="#000"/><rect x="1716.5" y="349.5" width="2" height="7.0" fill="#ff0000" stroke="#000" stroke-width="1"/>
<rect x="1720.0" y="352.0" width="3" height="3.0" fill="#0000ff"/><rect x="1721.0" y="347.0" width="1" height="14.0" fill="#000"/>
<rect x="1724.0" y="353.0" width="3" height="3.0" fill="#0000ff"/><rect x="1725.0" y="347.0" width="1" height="14.0" fill="#000"/>
<rect x="1728.0" y="352.0" width="3" height="3.0" fill="#0000ff"/><rect x="1729.0" y="347.0" width="1" height="14.0" fill="#000"/>
<rect x="1733.0" y="341.0" width="1" height="13.0" fill="#000"/><rect x="1732.5" y="346.5" width="2" height="7.0" fill="#90ee90" stroke="#000" stroke-width="1"/>
<rect x="1737.0" y="337.0" width="1" height="13.0" fill="#000"/><rect x="1736.5" y="342.5" width="2" height="7.0" fill="#90ee90" stroke="#000" stroke-width="1"/>
<rect x="1740.0" y="346.0" width="3" height="3.0" fill="#0000ff"/><rect x="1741.0" y="340.0" width="1" height="14.0" fill="#000"/>
<rect x="1745.0" y="346.0" width="1" height="13.0" fill="#000"/><rect x="1744.5" y="346.5" width="2" height="7.0" fill="#ff0000" stroke="#000" stroke-width="1"/>
<rect x="1749.0" y="348.0" width="1" height="13.0" fill="#000"/><rect x="1748.5" y="348.5" width="2" height="7.0" fill="#ff0000" stroke="#000" stroke-width="1"/>
<rect x="1752.0" y="354.0" width="3" height="4.0" fill="#0000ff"/><rect x="1753.0" y="349.0" width="1" height="14.0" fill="#000"/>
<rect x="1757.0" y="356.0" width="1" height="14.0" fill="#000"/><rect x="1756.5" y="356.5" width="2" height="7.0" fill="#ff0000" stroke="#000" stroke-width="1"/>
<rect x="1761.0" y="361.0" width="1" height="13.0" fill="#000"/><rect x="1760.5" y="361.5" width="2" height="7.0" fill="#ff0000" stroke="#000" stroke-width="1"/>
<rect x="1765.0" y="363.0" width="1" height="13.0" fill="#000"/><rect x="1764.5" y="363.5" width="2" height="7.0" fill="#ff0000" stroke="#000" stroke-width="1"/>
<rect x="1769.0" y="366.0" width="1" height="14.0" fill="#000"/><rect x="1768.5" y="366.5" width="2" height="7.0" fill="#ff0000" stroke="#000" stroke-width="1"/>
<rect x="1773.0" y="371.0" width="1" height="13.0" fill="#000"/><rect x="1772.5" y="371.5" width="2" height="7.0" fill="#ff0000" stroke="#000" stroke-width="1"/>
<rect x="1777.0" y="374.0" width="1" height="14.0" fill="#000"/><rect x="1776.5" y="374.5" width="2" height="7.0" fill="#ff0000" stroke="#000" stroke-width="1"/>
<rect x="1781.0" y="378.0" width="1" height="13.0" fill="#000"/><rect x="1780.5" y="378.5" width="2" height="7.0" fill="#ff0000" stroke="#000" stroke-width="1"/>
<rect x="1785.0" y="381.0" width="1" height="13.0" fill="#000"/><rect x="1784.5" y="381.5" width="2" height="7.0" fill="#ff0000" stroke="#000" stroke-width="1"/>
<rect x="1789.0" y="387.0" width="1" height="13.0" fill="#000"/><rect x="1788.5" y="387.5" width="2" height="7.0" fill="#ff0000" stroke="#000" stroke-width="1"/>
<rect x="1793.0" y="388.0" width="1" height="13.0" fill="#000"/><rect x="1792.5" y="388.5" width="2" height="7.0" fill="#ff0000" stroke="#000" stroke-width="1"/>
<rect x="1797.0" y="393.0" width="1" height="13.0" fill="#000"/><rect x="1796.5" y="393.5" width="2" height="7.0" fill="#ff0000" stroke="#000" stroke-width="1"/>
<rect x="1801.0" y="396.0" width="1" height="13.0" fill="#000"/><rect x="1800.5" y="396.5" width="2" height="7.0" fill="#ff0000" stroke="#000" stroke-width="1"/>
<rect x="1804.0" y="398.0" width="3" height="3.0" fill="#0000ff"/><rect x="1805.0" y="392.0" width="1" height="14.0" fill="#000"/>
<rect x="1808.0" y="399.0" width="3" height="3.0" fill="#0000ff"/><rect x="1809.0" y="394.0" width="1" height="14.0" fill="#000"/>
<rect x="1813.0" y="400.0" width="1" height="13.0" fill="#000"/><rect x="1812.5" y="400.5" width="2" height="7.0" fill="#ff0000" stroke="#000" stroke-width="1"/>
<rect x="1816.0" y="402.0" width="3" height="3.0" fill="#0000ff"/><rect x="1817.0" y="396.0" width="1" height="14.0" fill="#000"/>
<rect x="1821.0" y="390.0" width="1" height="13.0" fill="#000"/><rect x="1820.5" y="395.5" width="2" height="7.0" fill="#90ee90" stroke="#000" stroke-width="1"/>
<rect x="1825.0" y="388.0" width="1" height="13.0" fill="#000"/><rect x="1824.5" y="393.5" width="2" height="7.0" fill="#90ee90" stroke="#000" stroke-width="1"/>
<rect x="1829.0" y="384.0" width="1" height="13.0" fill="#000"/><rect x="1828.5" y="389.5" width="2" height="7.0" fill="#90ee90" stroke="#000" stroke-width="1"/>
<path d="M970.0,237.5 L980.0,237.5 L980.0,247.5 L970.0,247.5Z" fill="#00ff00"/><path d="M990.0,237.5 L1020.0,237.5 L1020.0,247.5 L990.0,247.5Z" fill="#00ff00"/><path d="M1030.0,237.5 L1040.0,237.5 L1040.0,247.5 L1030.0,247.5Z" fill="#00ff00"/><path d="M1050.0,237.5 L1060.0,237.5 L1060.0,247.5 L1050.0,247.5Z" fill="#00ff00"/><path d="M1070.0,237.5 L1100.0,237.5 L1100.0,247.5 L1070.0,247.5Z" fill="#00ff00"/><path d="M1110.0,235.4 L1112.0,234.7 L1120.0,234.7 L1120.0,244.7 L1112.0,244.7 L1110.0,245.4Z" fill="#00ff00"/><path d="M1130.0,234.7 L1140.0,234.7 L1140.0,244.7 L1130.0,244.7Z" fill="#00ff00"/><path d="M1150.0,234.7 L1180.0,234.7 L1180.0,244.7 L1150.0,244.7Z" fill="#00ff00"/><path d="M1190.0,234.7 L1200.0,234.7 L1200.0,244.7 L1190.0,244.7Z" fill="#00ff00"/><path d="M1210.0,234.7 L1220.0,234.7 L1220.0,244.7 L1210.0,244.7Z" fill="#00ff00"/><path d="M1230.0,234.7 L1260.0,234.7 L1260.0,244.7 L1230.0,244.7Z" fill="#00ff00"/><path d="M1270.0,234.7 L1280.0,234.7 L1280.0,244.7 L1270.0,244.7Z" fill="#00ff00"/><path d="M1290.0,234.7 L1300.0,234.7 L1300.0,244.7 L1290.0,244.7Z" fill="#00ff00"/><path d="M1310.0,234.7 L1340.0,234.7 L1340.0,244.7 L1310.0,244.7Z" fill="#00ff00"/><path d="M1350.0,234.7 L1360.0,234.7 L1360.0,244.7 L1350.0,244.7Z" fill="#00ff00"/><path d="M1370.0,234.7 L1380.0,234.7 L1380.0,244.7 L1370.0,244.7Z" fill="#00ff00"/><path d="M1390.0,234.7 L1420.0,234.7 L1420.0,244.7 L1390.0,244.7Z" fill="#00ff00"/><path d="M1430.0,234.7 L1440.0,234.7 L1440.0,244.7 L1430.0,244.7Z" fill="#00ff00"/><path d="M1450.0,234.7 L1460.0,234.7 L1460.0,244.7 L1450.0,244.7Z" fill="#00ff00"/><path d="M1470.0,234.7 L1500.0,234.7 L1500.0,244.7 L1470.0,244.7Z" fill="#00ff00"/><path d="M1510.0,234.7 L1520.0,234.7 L1520.0,244.7 L1510.0,244.7Z" fill="#00ff00"/><path d="M1530.0,234.7 L1540.0,234.7 L1540.0,244.7 L1530.0,244.7Z" fill="#00ff00"/><path d="M1550.0,234.7 L1580.0,234.7 L1580.0,244.7 L1550.0,244.7Z" fill="#00ff00"/><path d="M1590.0,234.7 L1600.0,234.7 L1600.0,244.7 L1590.0,244.7Z" fill="#00ff00"/><path d="M1610.0,234.7 L1620.0,234.7 L1620.0,244.7 L1610.0,244.7Z" fill="#00ff00"/><path d="M1630.0,234.7 L1660.0,234.7 L1660.0,244.7 L1630.0,244.7Z" fill="#00ff00"/><path d="M1670.0,234.7 L1680.0,234.7 L1680.0,244.7 L1670.0,244.7Z" fill="#00ff00"/><path d="M1690.0,234.7 L1700.0,234.7 L1700.0,244.7 L1690.0,244.7Z" fill="#00ff00"/><path d="M1710.0,234.7 L1740.0,234.7 L1740.0,244.7 L1710.0,244.7Z" fill="#00ff00"/><path d="M1750.0,234.7 L1760.0,234.7 L1760.0,244.7 L1750.0,244.7Z" fill="#00ff00"/><path d="M1770.0,234.7 L1780.0,234.7 L1780.0,244.7 L1770.0,244.7Z" fill="#00ff00"/><path d="M1790.0,234.7 L1820.0,234.7 L1820.0,244.7 L1790.0,244.7Z" fill="#00ff00"/>
<rect x="968.0" y="130.2" width="3" height="3" fill="#800080"/><rect x="972.0" y="130.2" width="3" height="3" fill="#800080"/><rect x="976.0" y="130.2" width="3" height="3" fill="#800080"/><rect x="980.0" y="130.2" width="3" height="3" fill="#800080"/><rect x="984.0" y="130.2" width="3" height="3" fill="#800080"/><rect x="988.0" y="130.2" width="3" height="3" fill="#800080"/><rect x="992.0" y="130.2" width="3" height="3" fill="#800080"/><rect x="996.0" y="130.2" width="3" height="3" fill="#800080"/><rect x="1000.0" y="130.2" width="3" height="3" fill="#800080"/><rect x="1004.0" y="130.2" width="3" height="3" fill="#800080"/><rect x="1008.0" y="130.2" width="3" height="3" fill="#800080"/><rect x="1012.0" y="130.2" width="3" height="3" fill="#800080"/><rect x="1016.0" y="130.2" width="3" height="3" fill="#800080"/><rect x="1020.0" y="130.2" width="3" height="3" fill="#800080"/><rect x="1024.0" y="130.2" width="3" height="3" fill="#800080"/><rect x="1028.0" y="130.2" width="3" height="3" fill="#800080"/><rect x="1032.0" y="130.2" width="3" height="3" fill="#800080"/><rect x="1036.0" y="130.2" width="3" height="3" fill="#800080"/><rect x="1040.0" y="130.2" width="3" height="3" fill="#800080"/><rect x="1044.0" y="130.2" width="3" height="3" fill="#800080"/><rect x="1048.0" y="130.2" width="3" height="3" fill="#800080"/>
<rect x="1052.0" y="164.0" width="3" height="3" fill="#800080"/><rect x="1056.0" y="164.0" width="3" height="3" fill="#800080"/><rect x="1060.0" y="164.0" width="3" height="3" fill="#800080"/><rect x="1064.0" y="164.0" width="3" height="3" fill="#800080"/><rect x="1068.0" y="164.0" width="3" height="3" fill="#800080"/><rect x="1072.0" y="164.0" width="3" height="3" fill="#800080"/><rect x="1076.0" y="164.0" width="3" height="3" fill="#800080"/><rect x="1080.0" y="164.0" width="3" height="3" fill="#800080"/><rect x="1084.0" y="164.0" width="3" height="3" fill="#800080"/><rect x="1088.0" y="164.0" width="3" height="3" fill="#800080"/><rect x="1092.0" y="164.0" width="3" height="3" fill="#800080"/><rect x="1096.0" y="164.0" width="3" height="3" fill="#800080"/><rect x="1100.0" y="164.0" width="3" height="3" fill="#800080"/><rect x="1104.0" y="164.0" width="3" height="3" fill="#800080"/><rect x="1108.0" y="164.0" width="3" height="3" fill="#800080"/><rect x="1112.0" y="164.0" width="3" height="3" fill="#800080"/><rect x="1116.0" y="164.0" width="3" height="3" fill="#800080"/><rect x="1120.0" y="164.0" width="3" height="3" fill="#800080"/><rect x="1124.0" y="164.0" width="3" height="3" fill="#800080"/><rect x="1128.0" y="164.0" width="3" height="3" fill="#800080"/><rect x="1132.0" y="164.0" width="3" height="3" fill="#800080"/><rect x="1136.0" y="164.0" width="3" height="3" fill="#800080"/><rect x="1140.0" y="164.0" width="3" height="3" fill="#800080"/><rect x="1144.0" y="164.0" width="3" height="3" fill="#800080"/><rect x="1148.0" y="164.0" width="3" height="3" fill="#800080"/><rect x="1152.0" y="164.0" width="3" height="3" fill="#800080"/><rect x="1156.0" y="164.0" width="3" height="3" fill="#800080"/><rect x="1160.0" y="164.0" width="3" height="3" fill="#800080"/><rect x="1164.0" y="164.0" width="3" height="3" fill="#800080"/><rect x="1168.0" y="164.0" width="3" height="3" fill="#800080"/><rect x="1172.0" y="164.0" width="3" height="3" fill="#800080"/><rect x="1176.0" y="164.0" width="3" height="3" fill="#800080"/><rect x="1180.0" y="164.0" width="3" height="3" fill="#800080"/><rect x="1184.0" y="164.0" width="3" height="3" fill="#800080"/><rect x="1188.0" y="164.0" width="3" height="3" fill="#800080"/><rect x="1192.0" y="164.0" width="3" height="3" fill="#800080"/><rect x="1196.0" y="164.0" width="3" height="3" fill="#800080"/><rect x="1200.0" y="164.0" width="3" height="3" fill="#800080"/><rect x="1204.0" y="164.0" width="3" height="3" fill="#800080"/><rect x="1208.0" y="164.0" width="3" height="3" fill="#800080"/><rect x="1212.0" y="164.0" width="3" height="3" fill="#800080"/><rect x="1216.0" y="164.0" width="3" height="3" fill="#800080"/><rect x="1220.0" y="164.0" width="3" height="3" fill="#800080"/><rect x="1224.0" y="164.0" width="3" height="3" fill="#800080"/><rect x="1228.0" y="164.0" width="3" height="3" fill="#800080"/><rect x="1232.0" y="164.0" width="3" height="3" fill="#800080"/><rect x="1236.0" y="164.0" width="3" height="3" fill="#800080"/><rect x="1240.0" y="164.0" width="3" height="3" fill="#800080"/><rect x="1244.0" y="164.0" width="3" height="3" fill="#800080"/><rect x="1248.0" y="164.0" width="3" height="3" fill="#800080"/><rect x="1252.0" y="164.0" width="3" height="3" fill="#800080"/><rect x="1256.0" y="164.0" width="3" height="3" fill="#800080"/>
<rect x="1256.0" y="245.5" width="3" height="3" fill="#800080"/><rect x="1260.0" y="245.5" width="3" height="3" fill="#800080"/><rect x="1264.0" y="245.5" width="3" height="3" fill="#800080"/><rect x="1268.0" y="245.5" width="3" height="3" fill="#800080"/><rect x="1272.0" y="245.5" width="3" height="3" fill="#800080"/><rect x="1276.0" y="245.5" width="3" height="3" fill="#800080"/><rect x="1280.0" y="245.5" width="3" height="3" fill="#800080"/><rect x="1284.0" y="245.5" width="3" height="3" fill="#800080"/><rect x="1288.0" y="245.5" width="3" height="3" fill="#800080"/><rect x="1292.0" y="245.5" width="3" height="3" fill="#800080"/><rect x="1296.0" y="245.5" width="3" height="3" fill="#800080"/><rect x="1300.0" y="245.5" width="3" height="3" fill="#800080"/><rect x="1304.0" y="245.5" width="3" height="3" fill="#800080"/><rect x="1308.0" y="245.5" width="3" height="3" fill="#800080"/><rect x="1312.0" y="245.5" width="3" height="3" fill="#800080"/><rect x="1316.0" y="245.5" width="3" height="3" fill="#800080"/><rect x="1320.0" y="245.5" width="3" height="3" fill="#800080"/><rect x="1324.0" y="245.5" width="3" height="3" fill="#800080"/><rect x="1328.0" y="245.5" width="3" height="3" fill="#800080"/><rect x="1332.0" y="245.5" width="3" height="3" fill="#800080"/><rect x="1336.0" y="245.5" width="3" height="3" fill="#800080"/><rect x="1340.0" y="245.5" width="3" height="3" fill="#800080"/><rect x="1344.0" y="245.5" width="3" height="3" fill="#800080"/><rect x="1348.0" y="245.5" width="3" height="3" fill="#800080"/><rect x="1352.0" y="245.5" width="3" height="3" fill="#800080"/><rect x="1356.0" y="245.5" width="3" height="3" fill="#800080"/><rect x="1360.0" y="245.5" width="3" height="3" fill="#800080"/><rect x="1364.0" y="245.5" width="3" height="3" fill="#800080"/><rect x="1368.0" y="245.5" width="3" height="3" fill="#800080"/><rect x="1372.0" y="245.5" width="3" height="3" fill="#800080"/><rect x="1376.0" y="245.5" width="3" height="3" fill="#800080"/><rect x="1380.0" y="245.5" width="3" height="3" fill="#800080"/><rect x="1384.0" y="245.5" width="3" height="3" fill="#800080"/><rect x="1388.0" y="245.5" width="3" height="3" fill="#800080"/><rect x="1392.0" y="245.5" width="3" height="3" fill="#800080"/><rect x="1396.0" y="245.5" width="3" height="3" fill="#800080"/><rect x="1400.0" y="245.5" width="3" height="3" fill="#800080"/>
<rect x="1400.0" y="253.0" width="3" height="3" fill="#800080"/><rect x="1404.0" y="253.0" width="3" height="3" fill="#800080"/><rect x="1408.0" y="253.0" width="3" height="3" fill="#800080"/><rect x="1412.0" y="253.0" width="3" height="3" fill="#800080"/><rect x="1416.0" y="253.0" width="3" height="3" fill="#800080"/><rect x="1420.0" y="253.0" width="3" height="3" fill="#800080"/><rect x="1424.0" y="253.0" width="3" height="3" fill="#800080"/><rect x="1428.0" y="253.0" width="3" height="3" fill="#800080"/><rect x="1432.0" y="253.0" width="3" height="3" fill="#800080"/><rect x="1436.0" y="253.0" width="3" height="3" fill="#800080"/><rect x="1440.0" y="253.0" width="3" height="3" fill="#800080"/><rect x="1444.0" y="253.0" width="3" height="3" fill="#800080"/>
<rect x="1444.0" y="262.1" width="3" height="3" fill="#800080"/><rect x="1448.0" y="262.1" width="3" height="3" fill="#800080"/><rect x="1452.0" y="262.1" width="3" height="3" fill="#800080"/><rect x="1456.0" y="262.1" width="3" height="3" fill="#800080"/><rect x="1460.0" y="262.1" width="3" height="3" fill="#800080"/><rect x="1464.0" y="262.1" width="3" height="3" fill="#800080"/><rect x="1468.0" y="262.1" width="3" height="3" fill="#800080"/><rect x="1472.0" y="262.1" width="3" height="3" fill="#800080"/><rect x="1476.0" y="262.1" width="3" height="3" fill="#800080"/><rect x="1480.0" y="262.1" width="3" height="3" fill="#800080"/><rect x="1484.0" y="262.1" width="3" height="3" fill="#800080"/><rect x="1488.0" y="262.1" width="3" height="3" fill="#800080"/><rect x="1492.0" y="262.1" width="3" height="3" fill="#800080"/><rect x="1496.0" y="262.1" width="3" height="3" fill="#800080"/><rect x="1500.0" y="262.1" width="3" height="3" fill="#800080"/><rect x="1504.0" y="262.1" width="3" height="3" fill="#800080"/><rect x="1508.0" y="262.1" width="3" height="3" fill="#800080"/><rect x="1512.0" y="262.1" width="3" height="3" fill="#800080"/><rect x="1516.0" y="262.1" width="3" height="3" fill="#800080"/><rect x="1520.0" y="262.1" width="3" height="3" fill="#800080"/><rect x="1524.0" y="262.1" width="3" height="3" fill="#800080"/><rect x="1528.0" y="262.1" width="3" height="3" fill="#800080"/><rect x="1532.0" y="262.1" width="3" height="3" fill="#800080"/><rect x="1536.0" y="262.1" width="3" height="3" fill="#800080"/><rect x="1540.0" y="262.1" width="3" height="3" fill="#800080"/><rect x="1544.0" y="262.1" width="3" height="3" fill="#800080"/><rect x="1548.0" y="262.1" width="3" height="3" fill="#800080"/><rect x="1552.0" y="262.1" width="3" height="3" fill="#800080"/><rect x="1556.0" y="262.1" width="3" height="3" fill="#800080"/><rect x="1560.0" y="262.1" width="3" height="3" fill="#800080"/><rect x="1564.0" y="262.1" width="3" height="3" fill="#800080"/><rect x="1568.0" y="262.1" width="3" height="3" fill="#800080"/><rect x="1572.0" y="262.1" width="3" height="3" fill="#800080"/><rect x="1576.0" y="262.1" width="3" height="3" fill="#800080"/><rect x="1580.0" y="262.1" width="3" height="3" fill="#800080"/><rect x="1584.0" y="262.1" width="3" height="3" fill="#800080"/><rect x="1588.0" y="262.1" width="3" height="3" fill="#800080"/><rect x="1592.0" y="262.1" width="3" height="3" fill="#800080"/><rect x="1596.0" y="262.1" width="3" height="3" fill="#800080"/><rect x="1600.0" y="262.1" width="3" height="3" fill="#800080"/><rect x="1604.0" y="262.1" width="3" height="3" fill="#800080"/><rect x="1608.0" y="262.1" width="3" height="3" fill="#800080"/><rect x="1612.0" y="262.1" width="3" height="3" fill="#800080"/><rect x="1616.0" y="262.1" width="3" height="3" fill="#800080"/><rect x="1620.0" y="262.1" width="3" height="3" fill="#800080"/><rect x="1624.0" y="262.1" width="3" height="3" fill="#800080"/><rect x="1628.0" y="262.1" width="3" height="3" fill="#800080"/><rect x="1632.0" y="262.1" width="3" height="3" fill="#800080"/><rect x="1636.0" y="262.1" width="3" height="3" fill="#800080"/><rect x="1640.0" y="262.1" width="3" height="3" fill="#800080"/><rect x="1644.0" y="262.1" width="3" height="3" fill="#800080"/><rect x="1648.0" y="262.1" width="3" height="3" fill="#800080"/>
<rect x="1652.0" y="300.9" width="3" height="3" fill="#800080"/><rect x="1656.0" y="300.9" width="3" height="3" fill="#800080"/><rect x="1660.0" y="300.9" width="3" height="3" fill="#800080"/><rect x="1664.0" y="300.9" width="3" height="3" fill="#800080"/><rect x="1668.0" y="300.9" width="3" height="3" fill="#800080"/><rect x="1672.0" y="300.9" width="3" height="3" fill="#800080"/><rect x="1676.0" y="300.9" width="3" height="3" fill="#800080"/><rect x="1680.0" y="300.9" width="3" height="3" fill="#800080"/><rect x="1684.0" y="300.9" width="3" height="3" fill="#800080"/><rect x="1688.0" y="300.9" width="3" height="3" fill="#800080"/><rect x="1692.0" y="300.9" width="3" height="3" fill="#800080"/><rect x="1696.0" y="300.9" width="3" height="3" fill="#800080"/><rect x="1700.0" y="300.9" width="3" height="3" fill="#800080"/><rect x="1704.0" y="300.9" width="3" height="3" fill="#800080"/><rect x="1708.0" y="300.9" width="3" height="3" fill="#800080"/><rect x="1712.0" y="300.9" width="3" height="3" fill="#800080"/><rect x="1716.0" y="300.9" width="3" height="3" fill="#800080"/><rect x="1720.0" y="300.9" width="3" height="3" fill="#800080"/><rect x="1724.0" y="300.9" width="3" height="3" fill="#800080"/><rect x="1728.0" y="300.9" width="3" height="3" fill="#800080"/><rect x="1732.0" y="300.9" width="3" height="3" fill="#800080"/><rect x="1736.0" y="300.9" width="3" height="3" fill="#800080"/><rect x="1740.0" y="300.9" width="3" height="3" fill="#800080"/><rect x="1744.0" y="300.9" width="3" height="3" fill="#800080"/><rect x="1748.0" y="300.9" width="3" height="3" fill="#800080"/><rect x="1752.0" y="300.9" width="3" height="3" fill="#800080"/><rect x="1756.0" y="300.9" width="3" height="3" fill="#800080"/><rect x="1760.0" y="300.9" width="3" height="3" fill="#800080"/><rect x="1764.0" y="300.9" width="3" height="3" fill="#800080"/><rect x="1768.0" y="300.9" width="3" height="3" fill="#800080"/><rect x="1772.0" y="300.9" width="3" height="3" fill="#800080"/><rect x="1776.0" y="300.9" width="3" height="3" fill="#800080"/><rect x="1780.0" y="300.9" width="3" height="3" fill="#800080"/><rect x="1784.0" y="300.9" width="3" height="3" fill="#800080"/><rect x="1788.0" y="300.9" width="3" height="3" fill="#800080"/><rect x="1792.0" y="300.9" width="3" height="3" fill="#800080"/><rect x="1796.0" y="300.9" width="3" height="3" fill="#800080"/><rect x="1800.0" y="300.9" width="3" height="3" fill="#800080"/><rect x="1804.0" y="300.9" width="3" height="3" fill="#800080"/><rect x="1808.0" y="300.9" width="3" height="3" fill="#800080"/><rect x="1812.0" y="300.9" width="3" height="3" fill="#800080"/><rect x="1816.0" y="300.9" width="3" height="3" fill="#800080"/><rect x="1820.0" y="300.9" width="3" height="3" fill="#800080"/><rect x="1824.0" y="300.9" width="3" height="3" fill="#800080"/>
<rect x="968.0" y="204.8" width="3" height="3" fill="#00ffff"/><rect x="972.0" y="204.8" width="3" height="3" fill="#00ffff"/><rect x="976.0" y="204.8" width="3" height="3" fill="#00ffff"/>
<rect x="976.0" y="199.8" width="3" height="3" fill="#00ffff"/><rect x="980.0" y="199.8" width="3" height="3" fill="#00ffff"/><rect x="984.0" y="199.8" width="3" height="3" fill="#00ffff"/><rect x="988.0" y="199.8" width="3" height="3" fill="#00ffff"/><rect x="992.0" y="199.8" width="3" height="3" fill="#00ffff"/><rect x="996.0" y="199.8" width="3" height="3" fill="#00ffff"/><rect x="1000.0" y="199.8" width="3" height="3" fill="#00ffff"/><rect x="1004.0" y="199.8" width="3" height="3" fill="#00ffff"/><rect x="1008.0" y="199.8" width="3" height="3" fill="#00ffff"/><rect x="1012.0" y="199.8" width="3" height="3" fill="#00ffff"/><rect x="1016.0" y="199.8" width="3" height="3" fill="#00ffff"/><rect x="1020.0" y="199.8" width="3" height="3" fill="#00ffff"/><rect x="1024.0" y="199.8" width="3" height="3" fill="#00ffff"/>
<rect x="1080.0" y="244.9" width="3" height="3" fill="#00ffff"/><rect x="1084.0" y="244.9" width="3" height="3" fill="#00ffff"/><rect x="1088.0" y="244.9" width="3" height="3" fill="#00ffff"/><rect x="1092.0" y="244.9" width="3" height="3" fill="#00ffff"/><rect x="1096.0" y="244.9" width="3" height="3" fill="#00ffff"/><rect x="1100.0" y="244.9" width="3" height="3" fill="#00ffff"/><rect x="1104.0" y="244.9" width="3" height="3" fill="#00ffff"/><rect x="1108.0" y="244.9" width="3" height="3" fill="#00ffff"/><rect x="1112.0" y="244.9" width="3" height="3" fill="#00ffff"/><rect x="1116.0" y="244.9" width="3" height="3" fill="#00ffff"/>
<rect x="1120.0" y="228.4" width="3" height="3" fill="#00ffff"/><rect x="1124.0" y="228.4" width="3" height="3" fill="#00ffff"/><rect x="1128.0" y="228.4" width="3" height="3" fill="#00ffff"/><rect x="1132.0" y="228.4" width="3" height="3" fill="#00ffff"/><rect x="1136.0" y="228.4" width="3" height="3" fill="#00ffff"/><rect x="1140.0" y="228.4" width="3" height="3" fill="#00ffff"/><rect x="1144.0" y="228.4" width="3" height="3" fill="#00ffff"/><rect x="1148.0" y="228.4" width="3" height="3" fill="#00ffff"/><rect x="1152.0" y="228.4" width="3" height="3" fill="#00ffff"/><rect x="1156.0" y="228.4" width="3" height="3" fill="#00ffff"/><rect x="1160.0" y="228.4" width="3" height="3" fill="#00ffff"/><rect x="1164.0" y="228.4" width="3" height="3" fill="#00ffff"/><rect x="1168.0" y="228.4" width="3" height="3" fill="#00ffff"/>
<rect x="1280.0" y="329.9" width="3" height="3" fill="#00ffff"/><rect x="1284.0" y="329.9" width="3" height="3" fill="#00ffff"/><rect x="1288.0" y="329.9" width="3" height="3" fill="#00ffff"/><rect x="1292.0" y="329.9" width="3" height="3" fill="#00ffff"/><rect x="1296.0" y="329.9" width="3" height="3" fill="#00ffff"/><rect x="1300.0" y="329.9" width="3" height="3" fill="#00ffff"/><rect x="1304.0" y="329.9" width="3" height="3" fill="#00ffff"/><rect x="1308.0" y="329.9" width="3" height="3" fill="#00ffff"/><rect x="1312.0" y="329.9" width="3" height="3" fill="#00ffff"/><rect x="1316.0" y="329.9" width="3" height="3" fill="#00ffff"/><rect x="1320.0" y="329.9" width="3" height="3" fill="#00ffff"/><rect x="1324.0" y="329.9" width="3" height="3" fill="#00ffff"/><rect x="1328.0" y="329.9" width="3" height="3" fill="#00ffff"/><rect x="1332.0" y="329.9" width="3" height="3" fill="#00ffff"/><rect x="1336.0" y="329.9" width="3" height="3" fill="#00ffff"/>
<rect x="1340.0" y="326.5" width="3" height="3" fill="#00ffff"/><rect x="1344.0" y="326.5" width="3" height="3" fill="#00ffff"/><rect x="1348.0" y="326.5" width="3" height="3" fill="#00ffff"/><rect x="1352.0" y="326.5" width="3" height="3" fill="#00ffff"/><rect x="1356.0" y="326.5" width="3" height="3" fill="#00ffff"/><rect x="1360.0" y="326.5" width="3" height="3" fill="#00ffff"/><rect x="1364.0" y="326.5" width="3" height="3" fill="#00ffff"/><rect x="1368.0" y="326.5" width="3" height="3" fill="#00ffff"/><rect x="1372.0" y="326.5" width="3" height="3" fill="#00ffff"/><rect x="1376.0" y="326.5" width="3" height="3" fill="#00ffff"/><rect x="1380.0" y="326.5" width="3" height="3" fill="#00ffff"/><rect x="1384.0" y="326.5" width="3" height="3" fill="#00ffff"/><rect x="1388.0" y="326.5" width="3" height="3" fill="#00ffff"/><rect x="1392.0" y="326.5" width="3" height="3" fill="#00ffff"/><rect x="1396.0" y="326.5" width="3" height="3" fill="#00ffff"/><rect x="1400.0" y="326.5" width="3" height="3" fill="#00ffff"/><rect x="1404.0" y="326.5" width="3" height="3" fill="#00ffff"/><rect x="1408.0" y="326.5" width="3" height="3" fill="#00ffff"/><rect x="1412.0" y="326.5" width="3" height="3" fill="#00ffff"/><rect x="1416.0" y="326.5" width="3" height="3" fill="#00ffff"/><rect x="1420.0" y="326.5" width="3" height="3" fill="#00ffff"/><rect x="1424.0" y="326.5" width="3" height="3" fill="#00ffff"/><rect x="1428.0" y="326.5" width="3" height="3" fill="#00ffff"/><rect x="1432.0" y="326.5" width="3" height="3" fill="#00ffff"/><rect x="1436.0" y="326.5" width="3" height="3" fill="#00ffff"/><rect x="1440.0" y="326.5" width="3" height="3" fill="#00ffff"/><rect x="1444.0" y="326.5" width="3" height="3" fill="#00ffff"/><rect x="1448.0" y="326.5" width="3" height="3" fill="#00ffff"/><rect x="1452.0" y="326.5" width="3" height="3" fill="#00ffff"/><rect x="1456.0" y="326.5" width="3" height="3" fill="#00ffff"/><rect x="1460.0" y="326.5" width="3" height="3" fill="#00ffff"/><rect x="1464.0" y="326.5" width="3" height="3" fill="#00ffff"/><rect x="1468.0" y="326.5" width="3" height="3" fill="#00ffff"/><rect x="1472.0" y="326.5" width="3" height="3" fill="#00ffff"/><rect x="1476.0" y="326.5" width="3" height="3" fill="#00ffff"/><rect x="1480.0" y="326.5" width="3" height="3" fill="#00ffff"/><rect x="1484.0" y="326.5" width="3" height="3" fill="#00ffff"/><rect x="1488.0" y="326.5" width="3" height="3" fill="#00ffff"/><rect x="1492.0" y="326.5" width="3" height="3" fill="#00ffff"/><rect x="1496.0" y="326.5" width="3" height="3" fill="#00ffff"/><rect x="1500.0" y="326.5" width="3" height="3" fill="#00ffff"/><rect x="1504.0" y="326.5" width="3" height="3" fill="#00ffff"/><rect x="1508.0" y="326.5" width="3" height="3" fill="#00ffff"/><rect x="1512.0" y="326.5" width="3" height="3" fill="#00ffff"/><rect x="1516.0" y="326.5" width="3" height="3" fill="#00ffff"/><rect x="1520.0" y="326.5" width="3" height="3" fill="#00ffff"/><rect x="1524.0" y="326.5" width="3" height="3" fill="#00ffff"/><rect x="1528.0" y="326.5" width="3" height="3" fill="#00ffff"/><rect x="1532.0" y="326.5" width="3" height="3" fill="#00ffff"/><rect x="1536.0" y="326.5" width="3" height="3" fill="#00ffff"/><rect x="1540.0" y="326.5" width="3" height="3" fill="#00ffff"/><rect x="1544.0" y="326.5" width="3" height="3" fill="#00ffff"/><rect x="1548.0" y="326.5" width="3" height="3" fill="#00ffff"/><rect x="1552.0" y="326.5" width="3" height="3" fill="#00ffff"/><rect x="1556.0" y="326.5" width="3" height="3" fill="#00ffff"/><rect x="1560.0" y="326.5" width="3" height="3" fill="#00ffff"/><rect x="1564.0" y="326.5" width="3" height="3" fill="#00ffff"/><rect x="1568.0" y="326.5" width="3" height="3" fill="#00ffff"/><rect x="1572.0" y="326.5" width="3" height="3" fill="#00ffff"/><rect x="1576.0" y="326.5" width="3" height="3" fill="#00ffff"/><rect x="1580.0" y="326.5" width="3" height="3" fill="#00ffff"/><rect x="1584.0" y="326.5" width="3" height="3" fill="#00ffff"/><rect x="1588.0" y="326.5" width="3" height="3" fill="#00ffff"/><rect x="1592.0" y="326.5" width="3" height="3" fill="#00ffff"/><rect x="1596.0" y="326.5" width="3" height="3" fill="#00ffff"/><rect x="1600.0" y="326.5" width="3" height="3" fill="#00ffff"/><rect x="1604.0" y="326.5" width="3" height="3" fill="#00ffff"/>
<rect x="1644.0" y="384.8" width="3" height="3" fill="#00ffff"/><rect x="1648.0" y="384.8" width="3" height="3" fill="#00ffff"/><rect x="1652.0" y="384.8" width="3" height="3" fill="#00ffff"/><rect x="1656.0" y="384.8" width="3" height="3" fill="#00ffff"/><rect x="1660.0" y="384.8" width="3" height="3" fill="#00ffff"/><rect x="1664.0" y="384.8" width="3" height="3" fill="#00ffff"/><rect x="1668.0" y="384.8" width="3" height="3" fill="#00ffff"/><rect x="1672.0" y="384.8" width="3" height="3" fill="#00ffff"/><rect x="1676.0" y="384.8" width="3" height="3" fill="#00ffff"/><rect x="1680.0" y="384.8" width="3" height="3" fill="#00ffff"/><rect x="1684.0" y="384.8" width="3" height="3" fill="#00ffff"/><rect x="1688.0" y="384.8" width="3" height="3" fill="#00ffff"/><rect x="1692.0" y="384.8" width="3" height="3" fill="#00ffff"/><rect x="1696.0" y="384.8" width="3" height="3" fill="#00ffff"/><rect x="1700.0" y="384.8" width="3" height="3" fill="#00ffff"/><rect x="1704.0" y="384.8" width="3" height="3" fill="#00ffff"/><rect x="1708.0" y="384.8" width="3" height="3" fill="#00ffff"/><rect x="1712.0" y="384.8" width="3" height="3" fill="#00ffff"/><rect x="1716.0" y="384.8" width="3" height="3" fill="#00ffff"/><rect x="1720.0" y="384.8" width="3" height="3" fill="#00ffff"/><rect x="1724.0" y="384.8" width="3" height="3" fill="#00ffff"/><rect x="1728.0" y="384.8" width="3" height="3" fill="#00ffff"/><rect x="1732.0" y="384.8" width="3" height="3" fill="#00ffff"/><rect x="1736.0" y="384.8" width="3" height="3" fill="#00ffff"/><rect x="1740.0" y="384.8" width="3" height="3" fill="#00ffff"/><rect x="1744.0" y="384.8" width="3" height="3" fill="#00ffff"/><rect x="1748.0" y="384.8" width="3" height="3" fill="#00ffff"/><rect x="1752.0" y="384.8" width="3" height="3" fill="#00ffff"/><rect x="1756.0" y="384.8" width="3" height="3" fill="#00ffff"/><rect x="1760.0" y="384.8" width="3" height="3" fill="#00ffff"/><rect x="1764.0" y="384.8" width="3" height="3" fill="#00ffff"/><rect x="1768.0" y="384.8" width="3" height="3" fill="#00ffff"/><rect x="1772.0" y="384.8" width="3" height="3" fill="#00ffff"/><rect x="1776.0" y="384.8" width="3" height="3" fill="#00ffff"/><rect x="1780.0" y="384.8" width="3" height="3" fill="#00ffff"/><rect x="1784.0" y="384.8" width="3" height="3" fill="#00ffff"/><rect x="1788.0" y="384.8" width="3" height="3" fill="#00ffff"/><rect x="1792.0" y="384.8" width="3" height="3" fill="#00ffff"/>
<rect x="1820.0" y="449.5" width="3" height="3" fill="#00ffff"/><rect x="1824.0" y="449.5" width="3" height="3" fill="#00ffff"/><rect x="1828.0" y="449.5" width="3" height="3" fill="#00ffff"/>
<circle cx="1041.4" cy="227.3" r="3.5" fill="#ffff00" stroke="#000" stroke-width="1"/>
<circle cx="1109.1" cy="167" r="3.5" fill="#ffff00" stroke="#000" stroke-width="1"/>
<circle cx="1245.3" cy="309.3" r="3.5" fill="#ffff00" stroke="#000" stroke-width="1"/>
<circle cx="1329" cy="266.6" r="3.5" fill="#ffff00" stroke="#000" stroke-width="1"/>
<circle cx="1389.4" cy="316.6" r="3.5" fill="#ffff00" stroke="#000" stroke-width="1"/>
<circle cx="1437.3" cy="326.1" r="3.5" fill="#ffff00" stroke="#000" stroke-width="1"/>
<circle cx="1513.2" cy="266" r="3.5" fill="#ffff00" stroke="#000" stroke-width="1"/>
<circle cx="1565.1" cy="316.2" r="3.5" fill="#ffff00" stroke="#000" stroke-width="1"/>
<circle cx="1641.3" cy="364.2" r="3.5" fill="#ffff00" stroke="#000" stroke-width="1"/>
<circle cx="1721" cy="364.2" r="3.5" fill="#ffff00" stroke="#000" stroke-width="1"/>
<circle cx="1729.3" cy="364.2" r="3.5" fill="#ffff00" stroke="#000" stroke-width="1"/>
<circle cx="1805.4" cy="412.8" r="3.5" fill="#ffff00" stroke="#000" stroke-width="1"/>
<circle cx="1817.5" cy="415" r="3.5" fill="#ffff00" stroke="#000" stroke-width="1"/>
<path d="M1049.7,215.0 L1054.5,221.0 L1051.9,221.0 L1051.9,235.0 L1047.5,235.0 L1047.5,221.0 L1045.0,221.0 Z" fill="#007800" stroke="#000" stroke-width="0.8"/>
<path d="M1253.1,298.0 L1257.8,304.0 L1255.3,304.0 L1255.3,317.3 L1250.9,317.3 L1250.9,304.0 L1248.3,304.0 Z" fill="#007800" stroke="#000" stroke-width="0.8"/>
<path d="M1444.8,312.0 L1449.5,318.0 L1447.0,318.0 L1447.0,331.0 L1442.6,331.0 L1442.6,318.0 L1440.0,318.0 Z" fill="#007800" stroke="#000" stroke-width="0.8"/>
<path d="M1649.6,353.0 L1654.3,359.0 L1651.8,359.0 L1651.8,372.0 L1647.4,372.0 L1647.4,359.0 L1644.8,359.0 Z" fill="#007800" stroke="#000" stroke-width="0.8"/>
<path d="M1825.0,404.6 L1829.8,410.6 L1827.2,410.6 L1827.2,423.6 L1822.8,423.6 L1822.8,410.6 L1820.2,410.6 Z" fill="#007800" stroke="#000" stroke-width="0.8"/>
<path d="M973.0,152.5 L977.5,146.5 L975.2,146.5 L975.2,132.4 L970.8,132.4 L970.8,146.5 L968.5,146.5 Z" fill="#ff0000" stroke="#000" stroke-width="0.8"/>
<path d="M1116.3,177.5 L1120.8,171.5 L1118.5,171.5 L1118.5,158.0 L1114.1,158.0 L1114.1,171.5 L1111.8,171.5 Z" fill="#ff0000" stroke="#000" stroke-width="0.8"/>
<path d="M1337.3,277.2 L1341.8,271.2 L1339.5,271.2 L1339.5,257.8 L1335.1,257.8 L1335.1,271.2 L1332.8,271.2 Z" fill="#ff0000" stroke="#000" stroke-width="0.8"/>
<path d="M1411.9,272 h3 v8 h3 l-4.5,5 l-4.5,-5 h3z" fill="#ff00ff"/>
<path d="M1459.8,266 h3 v9 h3 l-4.5,5 l-4.5,-5 h3z" fill="#ff00ff"/>
<path d="M1459.8,321.4 h3 v-8.0 h3 l-4.5,-5 l-4.5,5 h3z" fill="#0000ff"/>
<path d="M1619.8,365 h3 v-9.199999999999989 h3 l-4.5,-5 l-4.5,5 h3z" fill="#0000ff"/>
<path d="M1406.4,300.4 L1412.4,304.4 L1406.4,308.4Z" fill="#ff00ff"/>
<path d="M1454.8,296.2 L1460.8,300.2 L1454.8,304.2Z" fill="#ff00ff"/>
<path d="M1466.7,286 L1460.7,290 L1466.7,294Z" fill="#0000ff"/>
<path d="M1626.6,333.8 L1620.6,337.8 L1626.6,341.8Z" fill="#0000ff"/>
<text x="1413.5" y="253.7" text-anchor="middle" style="font-family:'Liberation Sans',sans-serif;font-size:11px" fill="#000">Entry</text>
<text x="1413.3" y="266" text-anchor="middle" style="font-family:'Liberation Sans',sans-serif;font-size:11px" fill="#000">1 @ 49,79</text>
<text x="1461.3" y="248.8" text-anchor="middle" style="font-family:'Liberation Sans',sans-serif;font-size:11px" fill="#000">Entry</text>
<text x="1461.1" y="260.6" text-anchor="middle" style="font-family:'Liberation Sans',sans-serif;font-size:11px" fill="#000">1 @ 49,81</text>
<text x="1462" y="338" text-anchor="middle" style="font-family:'Liberation Sans',sans-serif;font-size:11px" fill="#000">Target1</text>
<text x="1461" y="349" text-anchor="middle" style="font-family:'Liberation Sans',sans-serif;font-size:11px" fill="#000">1 @ 49,85</text>
<text x="1621" y="380" text-anchor="middle" style="font-family:'Liberation Sans',sans-serif;font-size:11px" fill="#000">Target1</text>
<text x="1621" y="392" text-anchor="middle" style="font-family:'Liberation Sans',sans-serif;font-size:11px" fill="#000">1 @ 49,65</text>
<path d="M1861.0,54.6 L1867.0,48.4 L1898.0,48.4 L1898.0,60.9 L1867.0,60.9 Z" fill="#696969" stroke="#000" stroke-width="1"/><text x="1896.5" y="58.6" text-anchor="end" style="font-family:'Liberation Sans',sans-serif;font-size:11px" fill="#fff">50,83</text>
<path d="M1861.0,117.0 L1867.0,110.7 L1898.0,110.7 L1898.0,123.2 L1867.0,123.2 Z" fill="#ff00ff" stroke="#000" stroke-width="1"/><text x="1896.5" y="121.0" text-anchor="end" style="font-family:'Liberation Sans',sans-serif;font-size:11px" fill="#fff">50,57</text>
<path d="M1861.0,198.6 L1867.0,192.4 L1898.0,192.4 L1898.0,204.9 L1867.0,204.9 Z" fill="#006400" stroke="#000" stroke-width="1"/><text x="1896.5" y="202.6" text-anchor="end" style="font-family:'Liberation Sans',sans-serif;font-size:11px" fill="#fff">50,23</text>
<path d="M1861.0,305.0 L1867.0,298.7 L1898.0,298.7 L1898.0,311.2 L1867.0,311.2 Z" fill="#800080" stroke="#000" stroke-width="1"/><text x="1896.5" y="309.0" text-anchor="end" style="font-family:'Liberation Sans',sans-serif;font-size:11px" fill="#fff"></text>
<path d="M1861.0,309.0 L1867.0,302.7 L1898.0,302.7 L1898.0,315.2 L1867.0,315.2 Z" fill="#006400" stroke="#000" stroke-width="1"/><text x="1896.5" y="313.0" text-anchor="end" style="font-family:'Liberation Sans',sans-serif;font-size:11px" fill="#fff">49,77</text>
<path d="M1861.0,342.6 L1867.0,336.3 L1898.0,336.3 L1898.0,348.8 L1867.0,348.8 Z" fill="#a9a9a9" stroke="#000" stroke-width="1"/><text x="1896.5" y="346.6" text-anchor="end" style="font-family:'Liberation Sans',sans-serif;font-size:11px" fill="#000">49,63</text>
<path d="M1861.0,400.2 L1867.0,393.9 L1898.0,393.9 L1898.0,406.4 L1867.0,406.4 Z" fill="#000000" stroke="#000" stroke-width="1"/><text x="1896.5" y="404.2" text-anchor="end" style="font-family:'Liberation Sans',sans-serif;font-size:11px" fill="#fff">49,39</text>
<path d="M1861.0,450.6 L1867.0,444.3 L1898.0,444.3 L1898.0,456.8 L1867.0,456.8 Z" fill="#00ffff" stroke="#000" stroke-width="1"/><text x="1896.5" y="454.6" text-anchor="end" style="font-family:'Liberation Sans',sans-serif;font-size:11px" fill="#000">49,18</text>
<rect x="968.0" y="505.0" width="2" height="0.5" fill="#0000ff"/>
<rect x="972.0" y="505.5" width="2" height="1.5" fill="#ff0000"/>
<rect x="976.0" y="505.5" width="2" height="3.5" fill="#ff0000"/>
<rect x="980.0" y="505.5" width="2" height="5.5" fill="#ff0000"/>
<rect x="984.0" y="505.5" width="2" height="7.5" fill="#ff0000"/>
<rect x="988.0" y="505.5" width="2" height="9.5" fill="#ff0000"/>
<rect x="992.0" y="505.5" width="2" height="11.5" fill="#ff0000"/>
<rect x="996.0" y="505.5" width="2" height="13.2" fill="#ff0000"/>
<rect x="1000.0" y="505.5" width="2" height="13.2" fill="#ff0000"/>
<rect x="1004.0" y="505.5" width="2" height="13.2" fill="#ff0000"/>
<rect x="1008.0" y="505.5" width="2" height="13.2" fill="#ff0000"/>
<rect x="1012.0" y="505.5" width="2" height="13.2" fill="#ff0000"/>
<rect x="1016.0" y="505.5" width="2" height="12.7" fill="#ff0000"/>
<rect x="1020.0" y="505.5" width="2" height="11.9" fill="#ff0000"/>
<rect x="1024.0" y="505.5" width="2" height="11.0" fill="#ff0000"/>
<rect x="1028.0" y="505.5" width="2" height="10.1" fill="#ff0000"/>
<rect x="1032.0" y="505.5" width="2" height="9.3" fill="#ff0000"/>
<rect x="1036.0" y="505.5" width="2" height="8.4" fill="#ff0000"/>
<rect x="1040.0" y="505.5" width="2" height="5.4" fill="#ff0000"/>
<rect x="1044.0" y="505.5" width="2" height="1.4" fill="#ff0000"/>
<rect x="1048.0" y="502.9" width="2" height="2.6" fill="#0000ff"/>
<rect x="1052.0" y="499.8" width="2" height="5.7" fill="#0000ff"/>
<rect x="1056.0" y="497.0" width="2" height="8.5" fill="#0000ff"/>
<rect x="1060.0" y="494.2" width="2" height="11.3" fill="#0000ff"/>
<rect x="1064.0" y="491.5" width="2" height="14.0" fill="#0000ff"/>
<rect x="1068.0" y="491.4" width="2" height="14.1" fill="#0000ff"/>
<rect x="1072.0" y="493.6" width="2" height="11.9" fill="#0000ff"/>
<rect x="1076.0" y="495.8" width="2" height="9.7" fill="#0000ff"/>
<rect x="1080.0" y="498.0" width="2" height="7.5" fill="#0000ff"/>
<rect x="1084.0" y="499.1" width="2" height="6.4" fill="#0000ff"/>
<rect x="1088.0" y="498.4" width="2" height="7.1" fill="#0000ff"/>
<rect x="1092.0" y="497.7" width="2" height="7.8" fill="#0000ff"/>
<rect x="1096.0" y="497.0" width="2" height="8.5" fill="#0000ff"/>
<rect x="1100.0" y="496.3" width="2" height="9.2" fill="#0000ff"/>
<rect x="1104.0" y="495.6" width="2" height="9.9" fill="#0000ff"/>
<rect x="1108.0" y="496.3" width="2" height="9.2" fill="#0000ff"/>
<rect x="1112.0" y="498.5" width="2" height="7.0" fill="#0000ff"/>
<rect x="1116.0" y="500.8" width="2" height="4.7" fill="#0000ff"/>
<rect x="1120.0" y="503.1" width="2" height="2.4" fill="#0000ff"/>
<rect x="1124.0" y="505.5" width="2" height="1.0" fill="#ff0000"/>
<rect x="1128.0" y="505.5" width="2" height="4.3" fill="#ff0000"/>
<rect x="1132.0" y="505.5" width="2" height="7.7" fill="#ff0000"/>
<rect x="1136.0" y="505.5" width="2" height="10.2" fill="#ff0000"/>
<rect x="1140.0" y="505.5" width="2" height="11.2" fill="#ff0000"/>
<rect x="1144.0" y="505.5" width="2" height="12.2" fill="#ff0000"/>
<rect x="1148.0" y="505.5" width="2" height="13.2" fill="#ff0000"/>
<rect x="1152.0" y="505.5" width="2" height="12.6" fill="#ff0000"/>
<rect x="1156.0" y="505.5" width="2" height="12.0" fill="#ff0000"/>
<rect x="1160.0" y="505.5" width="2" height="11.4" fill="#ff0000"/>
<rect x="1164.0" y="505.5" width="2" height="10.8" fill="#ff0000"/>
<rect x="1168.0" y="505.5" width="2" height="10.2" fill="#ff0000"/>
<rect x="1172.0" y="505.5" width="2" height="9.6" fill="#ff0000"/>
<rect x="1176.0" y="505.5" width="2" height="9.1" fill="#ff0000"/>
<rect x="1180.0" y="505.5" width="2" height="8.5" fill="#ff0000"/>
<rect x="1184.0" y="505.5" width="2" height="8.0" fill="#ff0000"/>
<rect x="1188.0" y="505.5" width="2" height="7.5" fill="#ff0000"/>
<rect x="1192.0" y="505.5" width="2" height="7.0" fill="#ff0000"/>
<rect x="1196.0" y="505.5" width="2" height="6.5" fill="#ff0000"/>
<rect x="1200.0" y="505.5" width="2" height="6.0" fill="#ff0000"/>
<rect x="1204.0" y="505.5" width="2" height="5.5" fill="#ff0000"/>
<rect x="1208.0" y="505.5" width="2" height="5.0" fill="#ff0000"/>
<rect x="1212.0" y="505.5" width="2" height="4.5" fill="#ff0000"/>
<rect x="1216.0" y="505.5" width="2" height="4.0" fill="#ff0000"/>
<rect x="1220.0" y="505.5" width="2" height="3.5" fill="#ff0000"/>
<rect x="1224.0" y="505.5" width="2" height="3.0" fill="#ff0000"/>
<rect x="1228.0" y="505.5" width="2" height="2.5" fill="#ff0000"/>
<rect x="1232.0" y="505.5" width="2" height="2.0" fill="#ff0000"/>
<rect x="1236.0" y="505.5" width="2" height="1.5" fill="#ff0000"/>
<rect x="1240.0" y="505.5" width="2" height="1.0" fill="#ff0000"/>
<rect x="1244.0" y="505.5" width="2" height="0.2" fill="#ff0000"/>
<rect x="1248.0" y="502.6" width="2" height="2.9" fill="#0000ff"/>
<rect x="1252.0" y="499.4" width="2" height="6.1" fill="#0000ff"/>
<rect x="1256.0" y="496.3" width="2" height="9.2" fill="#0000ff"/>
<rect x="1260.0" y="493.1" width="2" height="12.4" fill="#0000ff"/>
<rect x="1264.0" y="490.0" width="2" height="15.5" fill="#0000ff"/>
<rect x="1268.0" y="488.4" width="2" height="17.1" fill="#0000ff"/>
<rect x="1272.0" y="491.1" width="2" height="14.4" fill="#0000ff"/>
<rect x="1276.0" y="493.8" width="2" height="11.7" fill="#0000ff"/>
<rect x="1280.0" y="496.4" width="2" height="9.1" fill="#0000ff"/>
<rect x="1284.0" y="498.2" width="2" height="7.3" fill="#0000ff"/>
<rect x="1288.0" y="499.2" width="2" height="6.3" fill="#0000ff"/>
<rect x="1292.0" y="500.2" width="2" height="5.3" fill="#0000ff"/>
<rect x="1296.0" y="501.2" width="2" height="4.3" fill="#0000ff"/>
<rect x="1300.0" y="501.6" width="2" height="3.9" fill="#0000ff"/>
<rect x="1304.0" y="500.9" width="2" height="4.6" fill="#0000ff"/>
<rect x="1308.0" y="500.1" width="2" height="5.4" fill="#0000ff"/>
<rect x="1312.0" y="499.3" width="2" height="6.2" fill="#0000ff"/>
<rect x="1316.0" y="498.4" width="2" height="7.1" fill="#0000ff"/>
<rect x="1320.0" y="497.0" width="2" height="8.5" fill="#0000ff"/>
<rect x="1324.0" y="495.7" width="2" height="9.8" fill="#0000ff"/>
<rect x="1328.0" y="495.9" width="2" height="9.6" fill="#0000ff"/>
<rect x="1332.0" y="498.3" width="2" height="7.2" fill="#0000ff"/>
<rect x="1336.0" y="500.7" width="2" height="4.8" fill="#0000ff"/>
<rect x="1340.0" y="503.0" width="2" height="2.5" fill="#0000ff"/>
<rect x="1344.0" y="504.8" width="2" height="0.7" fill="#0000ff"/>
<rect x="1348.0" y="505.5" width="2" height="0.2" fill="#ff0000"/>
<rect x="1352.0" y="505.5" width="2" height="1.1" fill="#ff0000"/>
<rect x="1356.0" y="505.5" width="2" height="2.0" fill="#ff0000"/>
<rect x="1360.0" y="505.5" width="2" height="2.9" fill="#ff0000"/>
<rect x="1364.0" y="505.5" width="2" height="4.1" fill="#ff0000"/>
<rect x="1368.0" y="505.5" width="2" height="5.3" fill="#ff0000"/>
<rect x="1372.0" y="505.5" width="2" height="6.5" fill="#ff0000"/>
<rect x="1376.0" y="505.5" width="2" height="7.7" fill="#ff0000"/>
<rect x="1380.0" y="505.5" width="2" height="7.1" fill="#ff0000"/>
<rect x="1384.0" y="505.5" width="2" height="5.6" fill="#ff0000"/>
<rect x="1388.0" y="505.5" width="2" height="4.0" fill="#ff0000"/>
<rect x="1392.0" y="505.5" width="2" height="2.5" fill="#ff0000"/>
<rect x="1396.0" y="505.3" width="2" height="0.2" fill="#0000ff"/>
<rect x="1400.0" y="502.5" width="2" height="3.0" fill="#0000ff"/>
<rect x="1404.0" y="499.6" width="2" height="5.9" fill="#0000ff"/>
<rect x="1408.0" y="499.9" width="2" height="5.6" fill="#0000ff"/>
<rect x="1412.0" y="500.5" width="2" height="5.0" fill="#0000ff"/>
<rect x="1416.0" y="501.1" width="2" height="4.4" fill="#0000ff"/>
<rect x="1420.0" y="503.1" width="2" height="2.4" fill="#0000ff"/>
<rect x="1424.0" y="505.1" width="2" height="0.4" fill="#0000ff"/>
<rect x="1428.0" y="505.5" width="2" height="1.6" fill="#ff0000"/>
<rect x="1432.0" y="505.5" width="2" height="3.6" fill="#ff0000"/>
<rect x="1436.0" y="505.5" width="2" height="4.3" fill="#ff0000"/>
<rect x="1440.0" y="505.5" width="2" height="2.8" fill="#ff0000"/>
<rect x="1444.0" y="505.5" width="2" height="1.4" fill="#ff0000"/>
<rect x="1448.0" y="504.7" width="2" height="0.8" fill="#0000ff"/>
<rect x="1452.0" y="501.7" width="2" height="3.8" fill="#0000ff"/>
<rect x="1456.0" y="498.7" width="2" height="6.8" fill="#0000ff"/>
<rect x="1460.0" y="496.3" width="2" height="9.2" fill="#0000ff"/>
<rect x="1464.0" y="498.5" width="2" height="7.0" fill="#0000ff"/>
<rect x="1468.0" y="500.7" width="2" height="4.8" fill="#0000ff"/>
<rect x="1472.0" y="502.9" width="2" height="2.6" fill="#0000ff"/>
<rect x="1476.0" y="505.1" width="2" height="0.4" fill="#0000ff"/>
<rect x="1480.0" y="504.4" width="2" height="1.1" fill="#0000ff"/>
<rect x="1484.0" y="503.4" width="2" height="2.1" fill="#0000ff"/>
<rect x="1488.0" y="502.4" width="2" height="3.1" fill="#0000ff"/>
<rect x="1492.0" y="501.0" width="2" height="4.5" fill="#0000ff"/>
<rect x="1496.0" y="499.4" width="2" height="6.1" fill="#0000ff"/>
<rect x="1500.0" y="497.7" width="2" height="7.8" fill="#0000ff"/>
<rect x="1504.0" y="496.1" width="2" height="9.4" fill="#0000ff"/>
<rect x="1508.0" y="494.5" width="2" height="11.0" fill="#0000ff"/>
<rect x="1512.0" y="496.7" width="2" height="8.8" fill="#0000ff"/>
<rect x="1516.0" y="499.0" width="2" height="6.5" fill="#0000ff"/>
<rect x="1520.0" y="501.4" width="2" height="4.1" fill="#0000ff"/>
<rect x="1524.0" y="503.8" width="2" height="1.7" fill="#0000ff"/>
<rect x="1528.0" y="505.5" width="2" height="0.6" fill="#ff0000"/>
<rect x="1532.0" y="505.5" width="2" height="2.9" fill="#ff0000"/>
<rect x="1536.0" y="505.5" width="2" height="5.2" fill="#ff0000"/>
<rect x="1540.0" y="505.5" width="2" height="7.4" fill="#ff0000"/>
<rect x="1544.0" y="505.5" width="2" height="9.7" fill="#ff0000"/>
<rect x="1548.0" y="505.5" width="2" height="12.0" fill="#ff0000"/>
<rect x="1552.0" y="505.5" width="2" height="12.7" fill="#ff0000"/>
<rect x="1556.0" y="505.5" width="2" height="11.7" fill="#ff0000"/>
<rect x="1560.0" y="505.5" width="2" height="10.7" fill="#ff0000"/>
<rect x="1564.0" y="505.5" width="2" height="9.5" fill="#ff0000"/>
<rect x="1568.0" y="505.5" width="2" height="6.9" fill="#ff0000"/>
<rect x="1572.0" y="505.5" width="2" height="4.4" fill="#ff0000"/>
<rect x="1576.0" y="505.5" width="2" height="2.4" fill="#ff0000"/>
<rect x="1580.0" y="505.5" width="2" height="2.9" fill="#ff0000"/>
<rect x="1584.0" y="505.5" width="2" height="3.4" fill="#ff0000"/>
<rect x="1588.0" y="505.5" width="2" height="3.9" fill="#ff0000"/>
<rect x="1592.0" y="505.5" width="2" height="4.5" fill="#ff0000"/>
<rect x="1596.0" y="505.5" width="2" height="5.8" fill="#ff0000"/>
<rect x="1600.0" y="505.5" width="2" height="7.2" fill="#ff0000"/>
<rect x="1604.0" y="505.5" width="2" height="8.7" fill="#ff0000"/>
<rect x="1608.0" y="505.5" width="2" height="9.9" fill="#ff0000"/>
<rect x="1612.0" y="505.5" width="2" height="8.6" fill="#ff0000"/>
<rect x="1616.0" y="505.5" width="2" height="7.2" fill="#ff0000"/>
<rect x="1620.0" y="505.5" width="2" height="5.8" fill="#ff0000"/>
<rect x="1624.0" y="505.5" width="2" height="5.2" fill="#ff0000"/>
<rect x="1628.0" y="505.5" width="2" height="5.1" fill="#ff0000"/>
<rect x="1632.0" y="505.5" width="2" height="4.9" fill="#ff0000"/>
<rect x="1636.0" y="505.5" width="2" height="4.4" fill="#ff0000"/>
<rect x="1640.0" y="505.5" width="2" height="1.6" fill="#ff0000"/>
<rect x="1644.0" y="504.3" width="2" height="1.2" fill="#0000ff"/>
<rect x="1648.0" y="501.7" width="2" height="3.8" fill="#0000ff"/>
<rect x="1652.0" y="499.2" width="2" height="6.3" fill="#0000ff"/>
<rect x="1656.0" y="496.8" width="2" height="8.7" fill="#0000ff"/>
<rect x="1660.0" y="494.3" width="2" height="11.2" fill="#0000ff"/>
<rect x="1664.0" y="494.9" width="2" height="10.6" fill="#0000ff"/>
<rect x="1668.0" y="496.7" width="2" height="8.8" fill="#0000ff"/>
<rect x="1672.0" y="498.5" width="2" height="7.0" fill="#0000ff"/>
<rect x="1676.0" y="500.3" width="2" height="5.2" fill="#0000ff"/>
<rect x="1680.0" y="500.9" width="2" height="4.6" fill="#0000ff"/>
<rect x="1684.0" y="499.7" width="2" height="5.8" fill="#0000ff"/>
<rect x="1688.0" y="498.5" width="2" height="7.0" fill="#0000ff"/>
<rect x="1692.0" y="497.3" width="2" height="8.2" fill="#0000ff"/>
<rect x="1696.0" y="496.3" width="2" height="9.2" fill="#0000ff"/>
<rect x="1700.0" y="498.3" width="2" height="7.2" fill="#0000ff"/>
<rect x="1704.0" y="500.3" width="2" height="5.2" fill="#0000ff"/>
<rect x="1708.0" y="502.3" width="2" height="3.2" fill="#0000ff"/>
<rect x="1712.0" y="504.3" width="2" height="1.2" fill="#0000ff"/>
<rect x="1716.0" y="505.5" width="2" height="0.9" fill="#ff0000"/>
<rect x="1720.0" y="505.5" width="2" height="3.1" fill="#ff0000"/>
<rect x="1724.0" y="505.5" width="2" height="5.3" fill="#ff0000"/>
<rect x="1728.0" y="505.5" width="2" height="4.3" fill="#ff0000"/>
<rect x="1732.0" y="505.5" width="2" height="2.2" fill="#ff0000"/>
<rect x="1736.0" y="505.5" width="2" height="0.0" fill="#ff0000"/>
<rect x="1740.0" y="503.4" width="2" height="2.1" fill="#0000ff"/>
<rect x="1744.0" y="503.7" width="2" height="1.8" fill="#0000ff"/>
<rect x="1748.0" y="504.3" width="2" height="1.2" fill="#0000ff"/>
<rect x="1752.0" y="505.5" width="2" height="0.5" fill="#ff0000"/>
<rect x="1756.0" y="505.5" width="2" height="2.5" fill="#ff0000"/>
<rect x="1760.0" y="505.5" width="2" height="4.6" fill="#ff0000"/>
<rect x="1764.0" y="505.5" width="2" height="6.7" fill="#ff0000"/>
<rect x="1768.0" y="505.5" width="2" height="8.2" fill="#ff0000"/>
<rect x="1772.0" y="505.5" width="2" height="8.9" fill="#ff0000"/>
<rect x="1776.0" y="505.5" width="2" height="9.6" fill="#ff0000"/>
<rect x="1780.0" y="505.5" width="2" height="9.9" fill="#ff0000"/>
<rect x="1784.0" y="505.5" width="2" height="9.8" fill="#ff0000"/>
<rect x="1788.0" y="505.5" width="2" height="9.6" fill="#ff0000"/>
<rect x="1792.0" y="505.5" width="2" height="9.5" fill="#ff0000"/>
<rect x="1796.0" y="505.5" width="2" height="9.4" fill="#ff0000"/>
<rect x="1800.0" y="505.5" width="2" height="8.0" fill="#ff0000"/>
<rect x="1804.0" y="505.5" width="2" height="6.1" fill="#ff0000"/>
<rect x="1808.0" y="505.5" width="2" height="4.2" fill="#ff0000"/>
<rect x="1812.0" y="505.5" width="2" height="2.3" fill="#ff0000"/>
<rect x="1816.0" y="505.5" width="2" height="0.3" fill="#ff0000"/>
<rect x="1820.0" y="502.2" width="2" height="3.3" fill="#0000ff"/>
<rect x="1824.0" y="498.4" width="2" height="7.1" fill="#0000ff"/>
<rect x="1828.0" y="498.3" width="2" height="7.2" fill="#0000ff"/>
<path d="M968.4,504.4 C970.4,505.4 975.4,507.9 980.1,510.3 C984.9,512.7 991.0,517.3 996.9,518.7 C1002.8,520.1 1008.3,519.6 1015.3,518.7 C1022.3,517.9 1032.9,516.4 1038.8,513.6 C1044.7,510.8 1045.8,505.8 1050.5,501.9 C1055.2,498.0 1061.7,490.6 1067.3,490.2 C1072.9,489.8 1077.3,498.6 1084.0,499.4 C1090.7,500.2 1101.3,494.6 1107.5,495.2 C1113.7,495.8 1116.2,499.4 1121.0,502.7 C1125.8,506.0 1131.3,512.6 1136.0,515.3 C1140.7,518.0 1142.4,518.8 1149.4,518.7 C1156.4,518.6 1167.6,515.9 1177.9,514.5 C1188.2,513.1 1200.2,511.7 1211.4,510.3 C1222.6,508.9 1235.5,509.9 1245.0,506.1 C1254.5,502.3 1262.0,489.1 1268.4,487.7 C1274.8,486.3 1278.1,495.3 1283.4,497.7 C1288.7,500.1 1294.6,501.8 1300.2,501.9 C1305.8,502.0 1312.3,499.8 1316.9,498.6 C1321.5,497.4 1323.3,493.9 1327.8,494.9 C1332.3,495.9 1338.1,502.1 1343.8,504.4 C1349.5,506.7 1356.3,507.1 1362.2,508.6 C1368.1,510.1 1373.7,513.7 1379.0,513.6 C1384.3,513.5 1389.5,510.2 1394.0,507.8 C1398.5,505.4 1401.9,500.5 1405.8,499.4 C1409.7,498.3 1412.5,499.3 1417.5,501.1 C1422.5,502.9 1431.0,509.5 1436.0,510.3 C1441.0,511.1 1443.5,508.5 1447.7,506.1 C1451.9,503.7 1456.0,496.1 1461.0,496.0 C1466.0,495.9 1472.8,504.3 1477.8,505.3 C1482.8,506.3 1486.0,503.7 1491.3,501.9 C1496.6,500.1 1503.6,493.8 1509.7,494.4 C1515.8,495.0 1521.1,501.2 1528.1,505.3 C1535.1,509.4 1545.4,517.0 1551.6,518.7 C1557.8,520.4 1560.8,517.1 1565.0,515.3 C1569.2,513.5 1571.9,508.7 1576.7,507.8 C1581.5,506.9 1588.4,508.7 1593.8,510.0 C1599.2,511.3 1604.4,515.4 1609.3,515.5 C1614.2,515.6 1618.5,511.7 1623.1,510.8 C1627.7,509.9 1632.9,511.6 1636.9,510.3 C1640.9,509.0 1642.9,505.9 1647.2,503.1 C1651.5,500.3 1657.2,493.9 1662.7,493.6 C1668.2,493.3 1674.2,501.0 1680.0,501.4 C1685.8,501.8 1691.2,495.5 1697.2,496.2 C1703.2,496.9 1711.3,503.2 1716.2,505.7 C1721.1,508.2 1722.2,511.8 1726.5,511.4 C1730.8,511.0 1738.0,504.2 1742.0,503.1 C1746.0,502.0 1746.3,502.8 1750.6,504.5 C1754.9,506.2 1763.0,511.6 1767.9,513.4 C1772.8,515.2 1774.8,515.3 1780.0,515.5 C1785.2,515.7 1792.6,516.4 1798.9,514.8 C1805.2,513.2 1813.3,508.4 1817.8,505.7 C1822.2,502.9 1824.3,499.5 1825.6,498.3" fill="none" stroke="#000" stroke-width="2.2"/>
<circle cx="1041.3" cy="505.5" r="3.5" fill="#ffff00" stroke="#000" stroke-width="1"/>
<circle cx="1109.2" cy="505.5" r="3.5" fill="#ffff00" stroke="#000" stroke-width="1"/>
<circle cx="1245" cy="505.5" r="3.5" fill="#ffff00" stroke="#000" stroke-width="1"/>
<circle cx="1329.5" cy="505.5" r="3.5" fill="#ffff00" stroke="#000" stroke-width="1"/>
<circle cx="1389.3" cy="505.5" r="3.5" fill="#ffff00" stroke="#000" stroke-width="1"/>
<circle cx="1437.3" cy="505.5" r="3.5" fill="#ffff00" stroke="#000" stroke-width="1"/>
<circle cx="1513.4" cy="505.5" r="3.5" fill="#ffff00" stroke="#000" stroke-width="1"/>
<circle cx="1565.3" cy="505.5" r="3.5" fill="#ffff00" stroke="#000" stroke-width="1"/>
<circle cx="1641.5" cy="505.5" r="3.5" fill="#ffff00" stroke="#000" stroke-width="1"/>
<circle cx="1721.3" cy="505.5" r="3.5" fill="#ffff00" stroke="#000" stroke-width="1"/>
<circle cx="1729.3" cy="505.5" r="3.5" fill="#ffff00" stroke="#000" stroke-width="1"/>
<circle cx="1805.4" cy="505.5" r="3.5" fill="#ffff00" stroke="#000" stroke-width="1"/>
<circle cx="1817.5" cy="505.5" r="3.5" fill="#ffff00" stroke="#000" stroke-width="1"/>
<text x="963" y="519" style="font-family:'Liberation Sans',sans-serif;font-size:11.3px" fill="#000">© 2015 NinjaTrader, LLC</text>
<path d="M1861.0,497.2 L1867.0,490.7 L1891.0,490.7 L1891.0,503.7 L1867.0,503.7 Z" fill="#000" stroke="#000" stroke-width="1"/><text x="1889.5" y="501.2" text-anchor="end" style="font-family:'Liberation Sans',sans-serif;font-size:11px" fill="#fff">5,33</text>
<text x="962" y="246" style="font-family:'Liberation Sans',sans-serif;font-size:11px" fill="#00dd00">L</text>
<rect x="948" y="0" width="12" height="551" fill="#9fb3c8"/>
<rect x="948" y="0" width="1" height="551" fill="#5a6b7c"/>
<rect x="953" y="0" width="1.5" height="551" fill="#4f5f70"/>
<rect x="959" y="0" width="2" height="551" fill="#8196ac"/>
<rect x="1907" y="0" width="2" height="551" fill="#a0a0a0"/>
<rect x="915.5" y="547.5" width="14" height="4" fill="#fafafa" stroke="#b0b0b0"/>
<rect x="1874.5" y="548.5" width="14" height="3" fill="#fafafa" stroke="#b0b0b0"/>
</svg></body></html>
